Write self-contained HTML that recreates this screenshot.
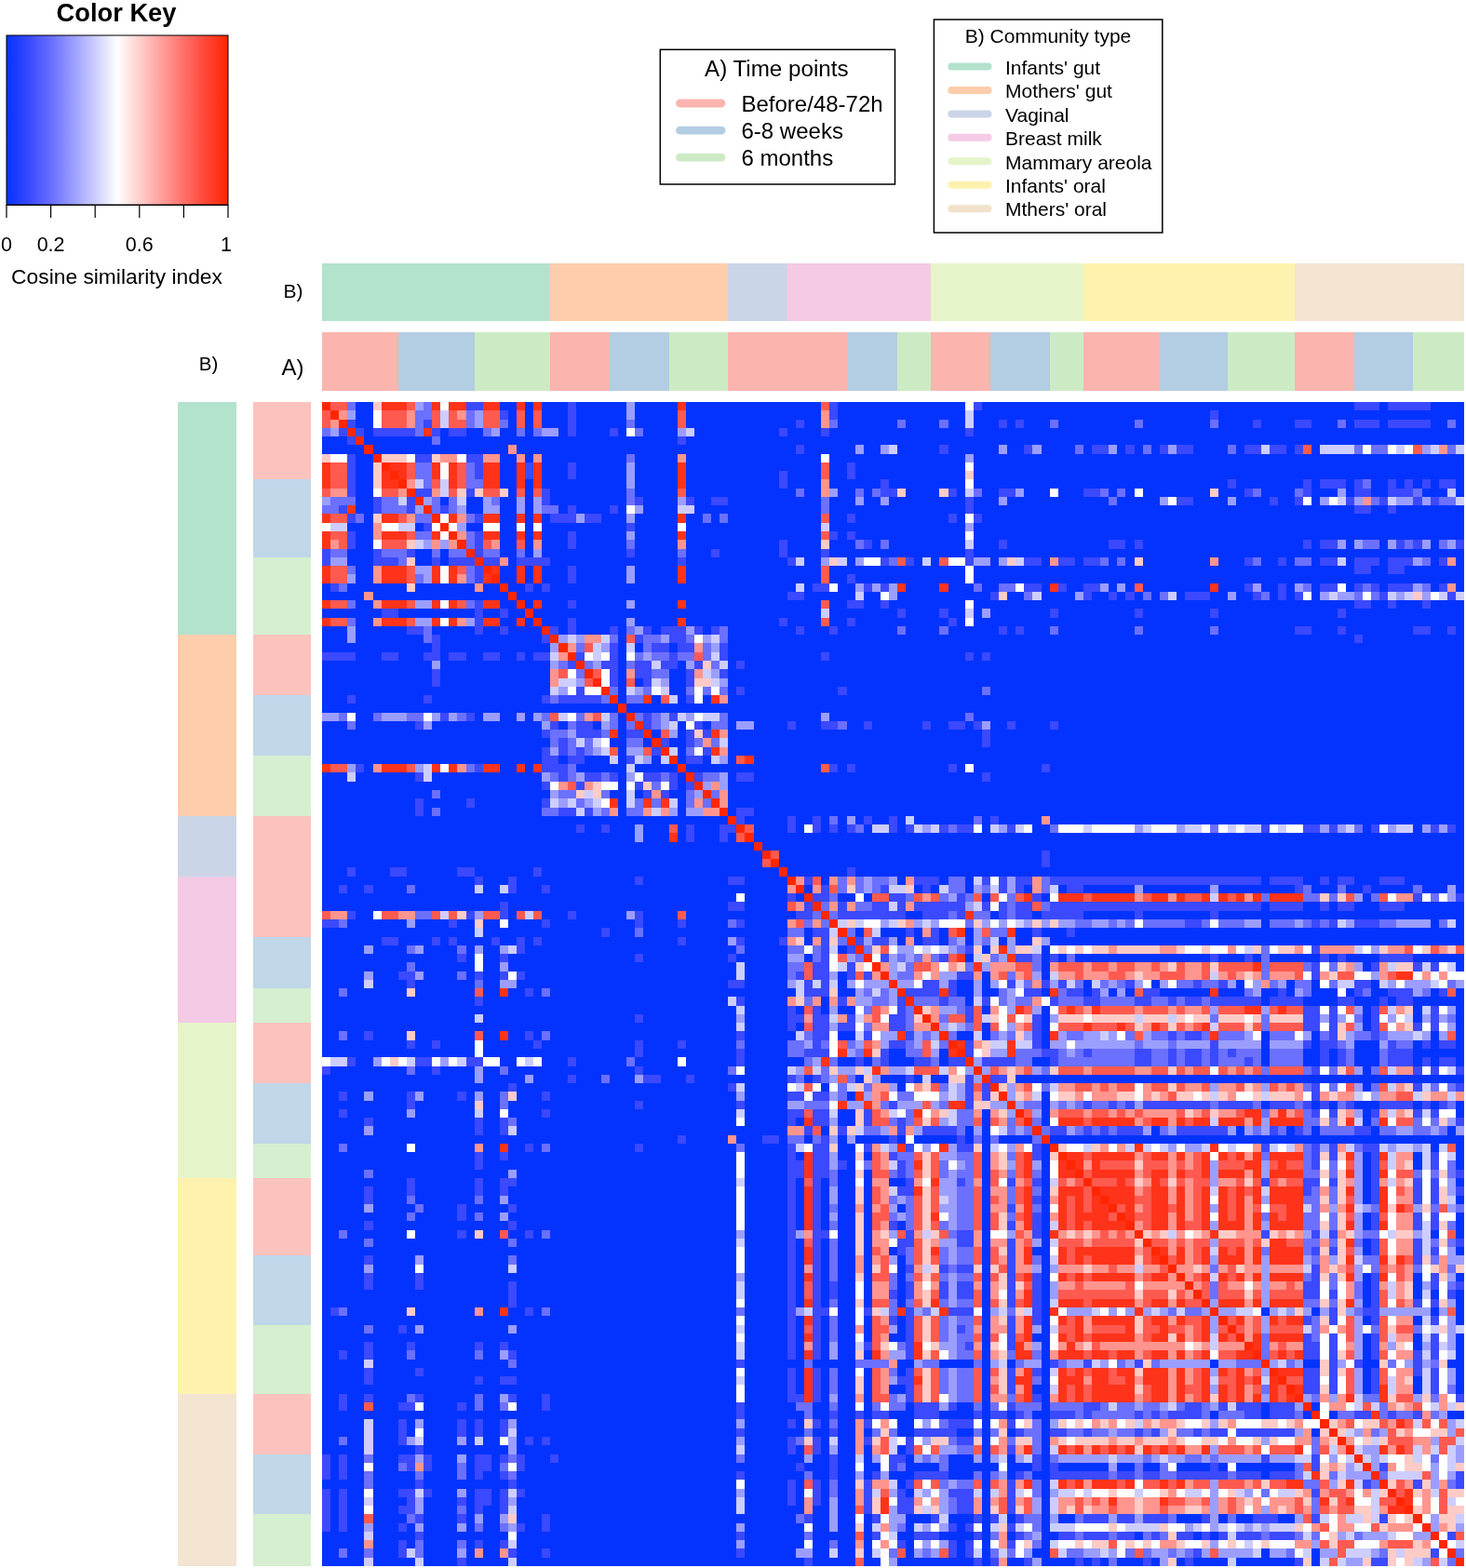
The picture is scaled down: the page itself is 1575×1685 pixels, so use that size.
<!DOCTYPE html>
<html><head><meta charset="utf-8"><title>Cosine similarity heatmap</title>
<style>
html,body{margin:0;padding:0;background:#fff}
body{width:1575px;height:1685px;overflow:hidden;position:relative;font-family:"Liberation Sans",sans-serif}
svg{position:absolute;left:0;top:0;display:block}
text{font-family:"Liberation Sans",sans-serif;fill:#000}
</style></head><body>
<svg width="1575" height="1685" viewBox="0 0 1575 1685">
<defs><linearGradient id="ck" x1="0" x2="1" y1="0" y2="0">
<stop offset="0" stop-color="#0433ff"/><stop offset="0.1" stop-color="#3848ff"/><stop offset="0.2" stop-color="#686dff"/><stop offset="0.3" stop-color="#9a9dff"/><stop offset="0.4" stop-color="#cccdff"/><stop offset="0.5" stop-color="#ffffff"/><stop offset="0.6" stop-color="#ffcfcc"/><stop offset="0.7" stop-color="#ff9f9a"/><stop offset="0.8" stop-color="#ff7068"/><stop offset="0.9" stop-color="#ff4636"/><stop offset="1" stop-color="#ff2600"/></linearGradient></defs>
<rect x="0" y="0" width="1575" height="1685" fill="#fff"/>
<g id="colorkey">
<text x="125" y="22.5" font-size="27.3" font-weight="bold" text-anchor="middle">Color Key</text>
<rect x="7" y="38" width="238" height="182" fill="url(#ck)" stroke="#000" stroke-width="1"/>
<path d="M7 220.5H245M7 220v14M54.6 220v14M102.2 220v14M149.8 220v14M197.4 220v14M245 220v14" stroke="#000" stroke-width="1.2" fill="none"/>
<text x="7" y="270" font-size="21.5" text-anchor="middle">0</text>
<text x="54.6" y="270" font-size="21.5" text-anchor="middle">0.2</text>
<text x="149.8" y="270" font-size="21.5" text-anchor="middle">0.6</text>
<text x="243" y="270" font-size="21.5" text-anchor="middle">1</text>
<text x="125.5" y="305" font-size="22.8" text-anchor="middle">Cosine similarity index</text>
</g>
<g id="labels">
<text x="315" y="320.2" font-size="21" text-anchor="middle">B)</text>
<text x="314.5" y="402.7" font-size="24" text-anchor="middle">A)</text>
<text x="224" y="398.3" font-size="20.5" text-anchor="middle">B)</text>
</g>
<g id="legendA">
<rect x="709.3" y="53.3" width="252.2" height="144.7" fill="#fff" stroke="#000" stroke-width="1.5"/>
<text x="834.3" y="82" font-size="24.2" text-anchor="middle">A) Time points</text>
<g stroke-width="8.8" stroke-linecap="round" fill="none">
<path d="M730.5 111H775" stroke="#FBB4AE"/>
<path d="M730.5 140.2H775" stroke="#B3CDE3"/>
<path d="M730.5 169.2H775" stroke="#CCEBC5"/>
</g>
<text x="796.5" y="120" font-size="24">Before/48-72h</text>
<text x="796.5" y="148.6" font-size="24">6-8 weeks</text>
<text x="796.5" y="178.4" font-size="24">6 months</text>
</g>
<g id="legendB">
<rect x="1003.4" y="21" width="245.4" height="229" fill="#fff" stroke="#000" stroke-width="1.5"/>
<text x="1126" y="45.7" font-size="21" text-anchor="middle">B) Community type</text>
<g stroke-width="8" stroke-linecap="round" fill="none">
<path d="M1022.3 71.6H1061.5" stroke="#B3E2CD"/>
<path d="M1022.3 97H1061.5" stroke="#FDCDAC"/>
<path d="M1022.3 122.4H1061.5" stroke="#CBD5E8"/>
<path d="M1022.3 147.8H1061.5" stroke="#F4CAE4"/>
<path d="M1022.3 173.3H1061.5" stroke="#E6F5C9"/>
<path d="M1022.3 198.8H1061.5" stroke="#FFF2AE"/>
<path d="M1022.3 224.3H1061.5" stroke="#F1E2CC"/>
</g>
<text x="1080" y="80" font-size="21">Infants' gut</text>
<text x="1080" y="105.3" font-size="21">Mothers' gut</text>
<text x="1080" y="130.7" font-size="21">Vaginal</text>
<text x="1080" y="156.1" font-size="21">Breast milk</text>
<text x="1080" y="181.6" font-size="21">Mammary areola</text>
<text x="1080" y="207" font-size="21">Infants' oral</text>
<text x="1080" y="232.4" font-size="21">Mthers' oral</text>
</g>
<g id="bars" shape-rendering="crispEdges">
<rect x="346" y="283.2" width="245.4" height="62" fill="#B3E2CD"/>
<rect x="191.2" y="432" width="62.8" height="250.2" fill="#B3E2CD"/>
<rect x="591.4" y="283.2" width="190.87" height="62" fill="#FDCDAC"/>
<rect x="191.2" y="682.2" width="62.8" height="194.6" fill="#FDCDAC"/>
<rect x="782.27" y="283.2" width="63.62" height="62" fill="#CBD5E8"/>
<rect x="191.2" y="876.8" width="62.8" height="64.87" fill="#CBD5E8"/>
<rect x="845.89" y="283.2" width="154.51" height="62" fill="#F4CAE4"/>
<rect x="191.2" y="941.67" width="62.8" height="157.53" fill="#F4CAE4"/>
<rect x="1000.4" y="283.2" width="163.6" height="62" fill="#E6F5C9"/>
<rect x="191.2" y="1099.2" width="62.8" height="166.8" fill="#E6F5C9"/>
<rect x="1164" y="283.2" width="227.22" height="62" fill="#FFF2AE"/>
<rect x="191.2" y="1266" width="62.8" height="231.67" fill="#FFF2AE"/>
<rect x="1391.22" y="283.2" width="181.78" height="62" fill="#F3E5D2"/>
<rect x="191.2" y="1497.67" width="62.8" height="185.33" fill="#F3E5D2"/>
<rect x="346" y="357.2" width="81.8" height="62.5" fill="#FBB4AE"/>
<rect x="271.7" y="432" width="62.5" height="83.4" fill="#FCC2BD"/>
<rect x="427.8" y="357.2" width="81.8" height="62.5" fill="#B3CDE3"/>
<rect x="271.7" y="515.4" width="62.5" height="83.4" fill="#C0D6E9"/>
<rect x="509.6" y="357.2" width="81.8" height="62.5" fill="#CCEBC5"/>
<rect x="271.7" y="598.8" width="62.5" height="83.4" fill="#D5EFD0"/>
<rect x="591.4" y="357.2" width="63.62" height="62.5" fill="#FBB4AE"/>
<rect x="271.7" y="682.2" width="62.5" height="64.87" fill="#FCC2BD"/>
<rect x="655.02" y="357.2" width="63.62" height="62.5" fill="#B3CDE3"/>
<rect x="271.7" y="747.07" width="62.5" height="64.86" fill="#C0D6E9"/>
<rect x="718.64" y="357.2" width="63.63" height="62.5" fill="#CCEBC5"/>
<rect x="271.7" y="811.93" width="62.5" height="64.87" fill="#D5EFD0"/>
<rect x="782.27" y="357.2" width="127.24" height="62.5" fill="#FBB4AE"/>
<rect x="271.7" y="876.8" width="62.5" height="129.73" fill="#FCC2BD"/>
<rect x="909.51" y="357.2" width="54.53" height="62.5" fill="#B3CDE3"/>
<rect x="271.7" y="1006.53" width="62.5" height="55.6" fill="#C0D6E9"/>
<rect x="964.04" y="357.2" width="36.36" height="62.5" fill="#CCEBC5"/>
<rect x="271.7" y="1062.13" width="62.5" height="37.07" fill="#D5EFD0"/>
<rect x="1000.4" y="357.2" width="63.62" height="62.5" fill="#FBB4AE"/>
<rect x="271.7" y="1099.2" width="62.5" height="64.87" fill="#FCC2BD"/>
<rect x="1064.02" y="357.2" width="63.62" height="62.5" fill="#B3CDE3"/>
<rect x="271.7" y="1164.07" width="62.5" height="64.86" fill="#C0D6E9"/>
<rect x="1127.64" y="357.2" width="36.36" height="62.5" fill="#CCEBC5"/>
<rect x="271.7" y="1228.93" width="62.5" height="37.07" fill="#D5EFD0"/>
<rect x="1164" y="357.2" width="81.8" height="62.5" fill="#FBB4AE"/>
<rect x="271.7" y="1266" width="62.5" height="83.4" fill="#FCC2BD"/>
<rect x="1245.8" y="357.2" width="72.71" height="62.5" fill="#B3CDE3"/>
<rect x="271.7" y="1349.4" width="62.5" height="74.13" fill="#C0D6E9"/>
<rect x="1318.51" y="357.2" width="72.71" height="62.5" fill="#CCEBC5"/>
<rect x="271.7" y="1423.53" width="62.5" height="74.14" fill="#D5EFD0"/>
<rect x="1391.22" y="357.2" width="63.62" height="62.5" fill="#FBB4AE"/>
<rect x="271.7" y="1497.67" width="62.5" height="64.86" fill="#FCC2BD"/>
<rect x="1454.84" y="357.2" width="63.63" height="62.5" fill="#B3CDE3"/>
<rect x="271.7" y="1562.53" width="62.5" height="64.87" fill="#C0D6E9"/>
<rect x="1518.47" y="357.2" width="54.53" height="62.5" fill="#CCEBC5"/>
<rect x="271.7" y="1627.4" width="62.5" height="55.6" fill="#D5EFD0"/>
</g>
<g id="heat" shape-rendering="crispEdges">
<rect x="346" y="432" width="1227" height="1251" fill="#0433ff"/>
<path fill="#3b49ff" d="M500.51 432h18.18v9.27h-18.18zM609.58 432h9.09v9.27h-9.09zM891.33 432h9.09v9.27h-9.09zM1045.84 432h9.09v9.27h-9.09zM1454.84 432h27.27v9.27h-27.27zM1491.2 432h45.44v9.27h-45.44zM536.87 441.27h9.09v9.26h-9.09zM609.58 441.27h9.09v9.26h-9.09zM891.33 441.27h9.09v9.26h-9.09zM1300.33 441.27h9.09v9.26h-9.09zM373.27 450.53h9.09v9.27h-9.09zM455.07 450.53h9.09v9.27h-9.09zM609.58 450.53h9.09v9.27h-9.09zM854.98 450.53h9.09v9.27h-9.09zM1073.11 450.53h9.09v9.27h-9.09zM1091.29 450.53h9.09v9.27h-9.09zM1345.78 450.53h9.09v9.27h-9.09zM1391.22 450.53h18.18v9.27h-18.18zM1454.84 450.53h27.27v9.27h-27.27zM1491.2 450.53h45.44v9.27h-45.44zM364.18 459.8h9.09v9.27h-9.09zM382.36 459.8h9.08v9.27h-9.08zM400.53 459.8h45.45v9.27h-45.45zM464.16 459.8h9.08v9.27h-9.08zM482.33 459.8h18.18v9.27h-18.18zM609.58 459.8h9.09v9.27h-9.09zM655.02 459.8h9.09v9.27h-9.09zM836.8 459.8h9.09v9.27h-9.09zM882.24 459.8h9.09v9.27h-9.09zM1036.76 459.8h9.08v9.27h-9.08zM373.27 469.07h9.09v9.26h-9.09zM727.73 469.07h9.09v9.26h-9.09zM854.98 478.33h9.09v9.27h-9.09zM1009.49 478.33h9.09v9.27h-9.09zM1100.38 478.33h9.09v9.27h-9.09zM1173.09 478.33h18.18v9.27h-18.18zM1209.44 478.33h9.09v9.27h-9.09zM1245.8 478.33h9.09v9.27h-9.09zM1263.98 478.33h18.18v9.27h-18.18zM1336.69 478.33h18.18v9.27h-18.18zM1363.96 478.33h18.17v9.27h-18.17zM1391.22 478.33h9.09v9.27h-9.09zM373.27 487.6h9.09v9.27h-9.09zM445.98 487.6h18.18v9.27h-18.18zM500.51 487.6h18.18v9.27h-18.18zM373.27 496.87h9.09v9.26h-9.09zM509.6 496.87h9.09v9.26h-9.09zM564.13 496.87h9.09v9.26h-9.09zM609.58 496.87h9.09v9.26h-9.09zM909.51 496.87h9.09v9.26h-9.09zM373.27 506.13h9.09v9.27h-9.09zM509.6 506.13h9.09v9.27h-9.09zM564.13 506.13h9.09v9.27h-9.09zM609.58 506.13h9.09v9.27h-9.09zM836.8 506.13h9.09v9.27h-9.09zM909.51 506.13h9.09v9.27h-9.09zM373.27 515.4h9.09v9.27h-9.09zM836.8 515.4h9.09v9.27h-9.09zM945.87 515.4h9.09v9.27h-9.09zM1318.51 515.4h9.09v9.27h-9.09zM1400.31 515.4h9.09v9.27h-9.09zM1418.49 515.4h27.27v9.27h-27.27zM1454.84 515.4h9.09v9.27h-9.09zM1491.2 515.4h9.09v9.27h-9.09zM1509.38 515.4h9.09v9.27h-9.09zM1527.56 515.4h9.08v9.27h-9.08zM1545.73 515.4h18.18v9.27h-18.18zM373.27 524.67h9.09v9.26h-9.09zM445.98 524.67h18.18v9.26h-18.18zM500.51 524.67h9.09v9.26h-9.09zM582.31 524.67h9.09v9.26h-9.09zM945.87 524.67h18.17v9.26h-18.17zM1018.58 524.67h9.09v9.26h-9.09zM1073.11 524.67h18.18v9.26h-18.18zM1164 524.67h18.18v9.26h-18.18zM1336.69 524.67h9.09v9.26h-9.09zM1400.31 524.67h9.09v9.26h-9.09zM1454.84 524.67h18.18v9.26h-18.18zM1491.2 524.67h27.27v9.26h-27.27zM400.53 533.93h9.09v9.27h-9.09zM436.89 533.93h9.09v9.27h-9.09zM582.31 533.93h9.09v9.27h-9.09zM682.29 533.93h9.09v9.27h-9.09zM736.82 533.93h9.09v9.27h-9.09zM764.09 533.93h18.18v9.27h-18.18zM1036.76 533.93h9.08v9.27h-9.08zM1263.98 533.93h18.18v9.27h-18.18zM1363.96 533.93h9.08v9.27h-9.08zM1391.22 533.93h9.09v9.27h-9.09zM1445.76 533.93h9.08v9.27h-9.08zM1482.11 533.93h9.09v9.27h-9.09zM1518.47 533.93h9.09v9.27h-9.09zM1536.64 533.93h9.09v9.27h-9.09zM364.18 543.2h9.09v9.27h-9.09zM400.53 543.2h9.09v9.27h-9.09zM436.89 543.2h9.09v9.27h-9.09zM473.24 543.2h9.09v9.27h-9.09zM609.58 543.2h9.09v9.27h-9.09zM655.02 543.2h9.09v9.27h-9.09zM1036.76 543.2h9.08v9.27h-9.08zM1454.84 543.2h18.18v9.27h-18.18zM1491.2 543.2h9.09v9.27h-9.09zM373.27 552.47h9.09v9.26h-9.09zM509.6 552.47h9.09v9.26h-9.09zM591.4 552.47h27.27v9.26h-27.27zM627.76 552.47h18.17v9.26h-18.17zM909.51 552.47h9.09v9.26h-9.09zM1018.58 552.47h9.09v9.26h-9.09zM1045.84 552.47h9.09v9.26h-9.09zM455.07 561.73h9.09v9.27h-9.09zM673.2 561.73h9.09v9.27h-9.09zM373.27 571h9.09v9.27h-9.09zM509.6 571h9.09v9.27h-9.09zM609.58 571h9.09v9.27h-9.09zM891.33 571h9.09v9.27h-9.09zM909.51 571h9.09v9.27h-9.09zM373.27 580.27h9.09v9.26h-9.09zM509.6 580.27h9.09v9.26h-9.09zM609.58 580.27h9.09v9.26h-9.09zM836.8 580.27h9.09v9.26h-9.09zM927.69 580.27h9.09v9.26h-9.09zM1073.11 580.27h9.09v9.26h-9.09zM1191.27 580.27h18.17v9.26h-18.17zM1218.53 580.27h9.09v9.26h-9.09zM1400.31 580.27h9.09v9.26h-9.09zM1418.49 580.27h18.18v9.26h-18.18zM1500.29 580.27h9.09v9.26h-9.09zM1518.47 580.27h9.09v9.26h-9.09zM1563.91 580.27h9.09v9.26h-9.09zM346 589.53h9.09v9.27h-9.09zM400.53 589.53h9.09v9.27h-9.09zM436.89 589.53h9.09v9.27h-9.09zM509.6 589.53h9.09v9.27h-9.09zM673.2 589.53h9.09v9.27h-9.09zM764.09 589.53h9.09v9.27h-9.09zM836.8 589.53h9.09v9.27h-9.09zM882.24 589.53h9.09v9.27h-9.09zM1036.76 589.53h9.08v9.27h-9.08zM346 598.8h9.09v9.27h-9.09zM400.53 598.8h27.27v9.27h-27.27zM464.16 598.8h9.08v9.27h-9.08zM482.33 598.8h27.27v9.27h-27.27zM518.69 598.8h18.18v9.27h-18.18zM555.04 598.8h36.36v9.27h-36.36zM727.73 598.8h9.09v9.27h-9.09zM845.89 598.8h9.09v9.27h-9.09zM945.87 598.8h9.09v9.27h-9.09zM973.13 598.8h9.09v9.27h-9.09zM1036.76 598.8h9.08v9.27h-9.08zM1100.38 598.8h18.18v9.27h-18.18zM1136.73 598.8h18.18v9.27h-18.18zM1164 598.8h18.18v9.27h-18.18zM1336.69 598.8h9.09v9.27h-9.09zM1373.04 598.8h9.09v9.27h-9.09zM1418.49 598.8h18.18v9.27h-18.18zM1454.84 598.8h27.27v9.27h-27.27zM1491.2 598.8h27.27v9.27h-27.27zM1545.73 598.8h9.09v9.27h-9.09zM509.6 608.07h9.09v9.26h-9.09zM609.58 608.07h9.09v9.26h-9.09zM1454.84 608.07h18.18v9.26h-18.18zM1491.2 608.07h18.18v9.26h-18.18zM509.6 617.33h9.09v9.27h-9.09zM609.58 617.33h9.09v9.27h-9.09zM909.51 617.33h9.09v9.27h-9.09zM355.09 626.6h9.09v9.27h-9.09zM564.13 626.6h9.09v9.27h-9.09zM582.31 626.6h9.09v9.27h-9.09zM873.16 626.6h18.17v9.27h-18.17zM927.69 626.6h9.09v9.27h-9.09zM945.87 626.6h9.09v9.27h-9.09zM1100.38 626.6h18.18v9.27h-18.18zM1136.73 626.6h9.09v9.27h-9.09zM1164 626.6h18.18v9.27h-18.18zM1336.69 626.6h9.09v9.27h-9.09zM1373.04 626.6h9.09v9.27h-9.09zM1418.49 626.6h18.18v9.27h-18.18zM1454.84 626.6h9.09v9.27h-9.09zM1473.02 626.6h9.09v9.27h-9.09zM1491.2 626.6h27.27v9.27h-27.27zM1545.73 626.6h9.09v9.27h-9.09zM845.89 635.87h18.18v9.26h-18.18zM1064.02 635.87h9.09v9.26h-9.09zM1164 635.87h9.09v9.26h-9.09zM1191.27 635.87h9.09v9.26h-9.09zM1209.44 635.87h9.09v9.26h-9.09zM1273.07 635.87h27.26v9.26h-27.26zM1345.78 635.87h9.09v9.26h-9.09zM1373.04 635.87h9.09v9.26h-9.09zM1391.22 635.87h9.09v9.26h-9.09zM1482.11 635.87h9.09v9.26h-9.09zM1554.82 635.87h9.09v9.26h-9.09zM509.6 645.13h9.09v9.27h-9.09zM609.58 645.13h9.09v9.27h-9.09zM909.51 645.13h18.18v9.27h-18.18zM945.87 645.13h9.09v9.27h-9.09zM1454.84 645.13h18.18v9.27h-18.18zM1491.2 645.13h9.09v9.27h-9.09zM1527.56 645.13h9.08v9.27h-9.08zM409.62 654.4h18.18v9.27h-18.18zM509.6 654.4h9.09v9.27h-9.09zM536.87 654.4h9.09v9.27h-9.09zM964.04 654.4h9.09v9.27h-9.09zM1009.49 654.4h9.09v9.27h-9.09zM1127.64 654.4h9.09v9.27h-9.09zM1218.53 654.4h9.09v9.27h-9.09zM1300.33 654.4h9.09v9.27h-9.09zM1436.67 654.4h9.09v9.27h-9.09zM509.6 663.67h9.09v9.26h-9.09zM609.58 663.67h9.09v9.26h-9.09zM836.8 663.67h9.09v9.26h-9.09zM909.51 663.67h9.09v9.26h-9.09zM1018.58 663.67h9.09v9.26h-9.09zM436.89 672.93h18.18v9.27h-18.18zM509.6 672.93h9.09v9.27h-9.09zM536.87 672.93h9.09v9.27h-9.09zM591.4 672.93h9.09v9.27h-9.09zM609.58 672.93h9.09v9.27h-9.09zM655.02 672.93h9.09v9.27h-9.09zM691.38 672.93h9.09v9.27h-9.09zM709.56 672.93h27.26v9.27h-27.26zM745.91 672.93h9.09v9.27h-9.09zM764.09 672.93h9.09v9.27h-9.09zM854.98 672.93h9.09v9.27h-9.09zM891.33 672.93h9.09v9.27h-9.09zM1073.11 672.93h9.09v9.27h-9.09zM1091.29 672.93h9.09v9.27h-9.09zM1391.22 672.93h18.18v9.27h-18.18zM1436.67 672.93h9.09v9.27h-9.09zM1518.47 672.93h18.17v9.27h-18.17zM1554.82 672.93h9.09v9.27h-9.09zM464.16 682.2h9.08v9.27h-9.08zM582.31 682.2h9.09v9.27h-9.09zM682.29 682.2h9.09v9.27h-9.09zM718.64 682.2h18.18v9.27h-18.18zM1454.84 682.2h9.09v9.27h-9.09zM464.16 691.47h9.08v9.26h-9.08zM655.02 691.47h9.09v9.26h-9.09zM700.47 691.47h18.17v9.26h-18.17zM727.73 691.47h18.18v9.26h-18.18zM773.18 691.47h9.09v9.26h-9.09zM346 700.73h36.36v9.27h-36.36zM409.62 700.73h18.18v9.27h-18.18zM455.07 700.73h18.17v9.27h-18.17zM482.33 700.73h18.18v9.27h-18.18zM518.69 700.73h18.18v9.27h-18.18zM555.04 700.73h9.09v9.27h-9.09zM573.22 700.73h18.18v9.27h-18.18zM618.67 700.73h9.09v9.27h-9.09zM655.02 700.73h9.09v9.27h-9.09zM718.64 700.73h9.09v9.27h-9.09zM773.18 700.73h9.09v9.27h-9.09zM882.24 700.73h9.09v9.27h-9.09zM1036.76 700.73h9.08v9.27h-9.08zM1054.93 700.73h9.09v9.27h-9.09zM609.58 710h9.09v9.27h-9.09zM645.93 710h18.18v9.27h-18.18zM682.29 710h18.18v9.27h-18.18zM709.56 710h18.17v9.27h-18.17zM745.91 710h9.09v9.27h-9.09zM791.36 710h9.08v9.27h-9.08zM464.16 719.27h9.08v9.26h-9.08zM655.02 719.27h9.09v9.26h-9.09zM682.29 719.27h18.18v9.26h-18.18zM736.82 719.27h9.09v9.26h-9.09zM773.18 719.27h9.09v9.26h-9.09zM464.16 728.53h9.08v9.27h-9.08zM655.02 728.53h9.09v9.27h-9.09zM691.38 728.53h9.09v9.27h-9.09zM736.82 728.53h9.09v9.27h-9.09zM618.67 737.8h9.09v9.27h-9.09zM791.36 737.8h9.08v9.27h-9.08zM900.42 737.8h9.09v9.27h-9.09zM373.27 747.07h9.09v9.26h-9.09zM455.07 747.07h9.09v9.26h-9.09zM582.31 747.07h9.09v9.26h-9.09zM600.49 747.07h45.44v9.26h-45.44zM736.82 747.07h9.09v9.26h-9.09zM473.24 765.6h9.09v9.27h-9.09zM500.51 765.6h9.09v9.27h-9.09zM691.38 765.6h9.09v9.27h-9.09zM718.64 765.6h9.09v9.27h-9.09zM445.98 774.87h9.09v9.26h-9.09zM591.4 774.87h9.09v9.26h-9.09zM618.67 774.87h18.17v9.26h-18.17zM691.38 774.87h9.09v9.26h-9.09zM745.91 774.87h9.09v9.26h-9.09zM845.89 774.87h9.09v9.26h-9.09zM882.24 774.87h18.18v9.26h-18.18zM927.69 774.87h9.09v9.26h-9.09zM991.31 774.87h9.09v9.26h-9.09zM1018.58 774.87h18.18v9.26h-18.18zM1045.84 774.87h9.09v9.26h-9.09zM1082.2 774.87h9.09v9.26h-9.09zM1127.64 774.87h9.09v9.26h-9.09zM582.31 784.13h9.09v9.27h-9.09zM618.67 784.13h27.26v9.27h-27.26zM673.2 784.13h18.18v9.27h-18.18zM736.82 784.13h9.09v9.27h-9.09zM755 784.13h9.09v9.27h-9.09zM1054.93 784.13h9.09v9.27h-9.09zM600.49 793.4h9.09v9.27h-9.09zM709.56 793.4h9.08v9.27h-9.08zM736.82 793.4h9.09v9.27h-9.09zM1054.93 793.4h9.09v9.27h-9.09zM582.31 802.67h9.09v9.26h-9.09zM600.49 802.67h9.09v9.26h-9.09zM618.67 802.67h9.09v9.26h-9.09zM700.47 802.67h9.09v9.26h-9.09zM755 802.67h9.09v9.26h-9.09zM582.31 811.93h18.18v9.27h-18.18zM609.58 811.93h18.18v9.27h-18.18zM673.2 811.93h9.09v9.27h-9.09zM736.82 811.93h18.18v9.27h-18.18zM382.36 821.2h9.08v9.27h-9.08zM509.6 821.2h9.09v9.27h-9.09zM582.31 821.2h27.27v9.27h-27.27zM891.33 821.2h9.09v9.27h-9.09zM909.51 821.2h9.09v9.27h-9.09zM1018.58 821.2h9.09v9.27h-9.09zM1118.56 821.2h9.08v9.27h-9.08zM445.98 830.47h9.09v9.26h-9.09zM600.49 830.47h9.09v9.26h-9.09zM627.76 830.47h18.17v9.26h-18.17zM655.02 830.47h9.09v9.26h-9.09zM691.38 830.47h18.18v9.26h-18.18zM718.64 830.47h9.09v9.26h-9.09zM745.91 830.47h9.09v9.26h-9.09zM791.36 830.47h18.17v9.26h-18.17zM1054.93 830.47h9.09v9.26h-9.09zM582.31 839.73h9.09v9.27h-9.09zM618.67 839.73h9.09v9.27h-9.09zM682.29 839.73h9.09v9.27h-9.09zM718.64 839.73h9.09v9.27h-9.09zM736.82 839.73h9.09v9.27h-9.09zM691.38 849h9.09v9.27h-9.09zM709.56 849h9.08v9.27h-9.08zM445.98 858.27h9.09v9.26h-9.09zM500.51 858.27h9.09v9.26h-9.09zM582.31 858.27h9.09v9.26h-9.09zM445.98 867.53h9.09v9.27h-9.09zM600.49 867.53h18.18v9.27h-18.18zM627.76 867.53h9.08v9.27h-9.08zM791.36 867.53h18.17v9.27h-18.17zM791.36 876.8h9.08v9.27h-9.08zM845.89 876.8h9.09v9.27h-9.09zM873.16 876.8h9.08v9.27h-9.08zM927.69 876.8h9.09v9.27h-9.09zM954.96 876.8h9.08v9.27h-9.08zM1064.02 876.8h9.09v9.27h-9.09zM618.67 886.07h9.09v9.26h-9.09zM645.93 886.07h9.09v9.26h-9.09zM736.82 886.07h9.09v9.26h-9.09zM773.18 886.07h18.18v9.26h-18.18zM845.89 886.07h9.09v9.26h-9.09zM873.16 886.07h9.08v9.26h-9.08zM891.33 886.07h9.09v9.26h-9.09zM909.51 886.07h9.09v9.26h-9.09zM954.96 886.07h9.08v9.26h-9.08zM973.13 886.07h9.09v9.26h-9.09zM1009.49 886.07h9.09v9.26h-9.09zM1027.67 886.07h18.17v9.26h-18.17zM1082.2 886.07h9.09v9.26h-9.09zM1354.87 886.07h9.09v9.26h-9.09zM1400.31 886.07h18.18v9.26h-18.18zM1427.58 886.07h9.09v9.26h-9.09zM1473.02 886.07h9.09v9.26h-9.09zM1536.64 886.07h9.09v9.26h-9.09zM1554.82 886.07h9.09v9.26h-9.09zM736.82 895.33h9.09v9.27h-9.09zM773.18 895.33h9.09v9.27h-9.09zM1118.56 913.87h9.08v9.26h-9.08zM1118.56 923.13h9.08v9.27h-9.08zM373.27 932.4h9.09v9.27h-9.09zM418.71 932.4h18.18v9.27h-18.18zM491.42 932.4h18.18v9.27h-18.18zM573.22 932.4h9.09v9.27h-9.09zM909.51 932.4h9.09v9.27h-9.09zM509.6 941.67h9.09v9.26h-9.09zM545.96 941.67h9.08v9.26h-9.08zM682.29 941.67h9.09v9.26h-9.09zM782.27 941.67h18.17v9.26h-18.17zM864.07 941.67h9.09v9.26h-9.09zM982.22 941.67h27.27v9.26h-27.27zM1054.93 941.67h9.09v9.26h-9.09zM1073.11 941.67h9.09v9.26h-9.09zM1091.29 941.67h18.18v9.26h-18.18zM1127.64 941.67h227.23v9.26h-227.23zM1363.96 941.67h36.35v9.26h-36.35zM1418.49 941.67h9.09v9.26h-9.09zM1436.67 941.67h18.17v9.26h-18.17zM1482.11 941.67h27.27v9.26h-27.27zM364.18 950.93h9.09v9.27h-9.09zM391.44 950.93h9.09v9.27h-9.09zM545.96 950.93h9.08v9.27h-9.08zM582.31 950.93h9.09v9.27h-9.09zM882.24 950.93h9.09v9.27h-9.09zM945.87 950.93h9.09v9.27h-9.09zM991.31 950.93h9.09v9.27h-9.09zM1073.11 950.93h9.09v9.27h-9.09zM1091.29 950.93h9.09v9.27h-9.09zM1145.82 950.93h18.18v9.27h-18.18zM1391.22 950.93h9.09v9.27h-9.09zM1463.93 950.93h9.09v9.27h-9.09zM845.89 960.2h9.09v9.27h-9.09zM873.16 960.2h18.17v9.27h-18.17zM954.96 960.2h18.17v9.27h-18.17zM1027.67 960.2h9.09v9.27h-9.09zM1109.47 960.2h9.09v9.27h-9.09zM1518.47 960.2h9.09v9.27h-9.09zM1563.91 960.2h9.09v9.27h-9.09zM536.87 969.47h9.09v9.26h-9.09zM782.27 969.47h18.17v9.26h-18.17zM864.07 969.47h9.09v9.26h-9.09zM900.42 969.47h9.09v9.26h-9.09zM936.78 969.47h18.18v9.26h-18.18zM964.04 969.47h9.09v9.26h-9.09zM982.22 969.47h54.54v9.26h-54.54zM1054.93 969.47h9.09v9.26h-9.09zM1073.11 969.47h9.09v9.26h-9.09zM1091.29 969.47h18.18v9.26h-18.18zM1127.64 969.47h227.23v9.26h-227.23zM1363.96 969.47h36.35v9.26h-36.35zM1418.49 969.47h9.09v9.26h-9.09zM1436.67 969.47h18.17v9.26h-18.17zM1482.11 969.47h27.27v9.26h-27.27zM373.27 978.73h9.09v9.27h-9.09zM500.51 978.73h9.09v9.27h-9.09zM536.87 978.73h9.09v9.27h-9.09zM609.58 978.73h9.09v9.27h-9.09zM682.29 978.73h9.09v9.27h-9.09zM854.98 978.73h18.18v9.27h-18.18zM900.42 978.73h72.71v9.27h-72.71zM991.31 978.73h27.27v9.27h-27.27zM1027.67 978.73h9.09v9.27h-9.09zM1073.11 978.73h9.09v9.27h-9.09zM1091.29 978.73h18.18v9.27h-18.18zM1118.56 978.73h45.44v9.27h-45.44zM1218.53 978.73h9.09v9.27h-9.09zM1300.33 978.73h9.09v9.27h-9.09zM346 988h18.18v9.27h-18.18zM482.33 988h9.09v9.27h-9.09zM582.31 988h9.09v9.27h-9.09zM682.29 988h9.09v9.27h-9.09zM727.73 988h9.09v9.27h-9.09zM791.36 988h9.08v9.27h-9.08zM1273.07 988h18.17v9.27h-18.17zM1409.4 988h9.09v9.27h-9.09zM1427.58 988h9.09v9.27h-9.09zM1454.84 988h27.27v9.27h-27.27zM645.93 997.27h9.09v9.26h-9.09zM873.16 997.27h18.17v9.26h-18.17zM973.13 997.27h9.09v9.26h-9.09zM1000.4 997.27h9.09v9.26h-9.09zM1109.47 997.27h9.09v9.26h-9.09zM1145.82 997.27h9.09v9.26h-9.09zM409.62 1006.53h18.18v9.27h-18.18zM464.16 1006.53h9.08v9.27h-9.08zM482.33 1006.53h9.09v9.27h-9.09zM527.78 1006.53h9.09v9.27h-9.09zM555.04 1006.53h9.09v9.27h-9.09zM573.22 1006.53h9.09v9.27h-9.09zM727.73 1006.53h9.09v9.27h-9.09zM791.36 1006.53h9.08v9.27h-9.08zM836.8 1006.53h9.09v9.27h-9.09zM882.24 1006.53h9.09v9.27h-9.09zM918.6 1006.53h9.09v9.27h-9.09zM936.78 1006.53h18.18v9.27h-18.18zM991.31 1006.53h18.18v9.27h-18.18zM555.04 1015.8h9.09v9.27h-9.09zM882.24 1015.8h9.09v9.27h-9.09zM909.51 1015.8h9.09v9.27h-9.09zM1036.76 1015.8h9.08v9.27h-9.08zM1409.4 1015.8h9.09v9.27h-9.09zM491.42 1025.07h9.09v9.26h-9.09zM536.87 1025.07h9.09v9.26h-9.09zM682.29 1025.07h9.09v9.26h-9.09zM782.27 1025.07h9.09v9.26h-9.09zM882.24 1025.07h9.09v9.26h-9.09zM945.87 1025.07h9.09v9.26h-9.09zM1009.49 1025.07h9.09v9.26h-9.09zM1091.29 1025.07h18.18v9.26h-18.18zM1127.64 1025.07h9.09v9.26h-9.09zM1300.33 1025.07h9.09v9.26h-9.09zM1336.69 1025.07h9.09v9.26h-9.09zM1418.49 1025.07h9.09v9.26h-9.09zM1436.67 1025.07h9.09v9.26h-9.09zM1482.11 1025.07h36.36v9.26h-36.36zM873.16 1034.33h18.17v9.27h-18.17zM909.51 1034.33h9.09v9.27h-9.09zM1409.4 1034.33h9.09v9.27h-9.09zM1473.02 1034.33h9.09v9.27h-9.09zM1518.47 1034.33h9.09v9.27h-9.09zM1536.64 1034.33h9.09v9.27h-9.09zM427.8 1043.6h18.18v9.27h-18.18zM509.6 1043.6h9.09v9.27h-9.09zM536.87 1043.6h9.09v9.27h-9.09zM555.04 1043.6h9.09v9.27h-9.09zM854.98 1043.6h9.09v9.27h-9.09zM873.16 1043.6h18.17v9.27h-18.17zM909.51 1043.6h9.09v9.27h-9.09zM927.69 1043.6h9.09v9.27h-9.09zM1027.67 1043.6h18.17v9.27h-18.17zM1409.4 1043.6h9.09v9.27h-9.09zM436.89 1052.87h9.09v9.26h-9.09zM782.27 1052.87h18.17v9.26h-18.17zM864.07 1052.87h9.09v9.26h-9.09zM882.24 1052.87h9.09v9.26h-9.09zM991.31 1052.87h18.18v9.26h-18.18zM1018.58 1052.87h9.09v9.26h-9.09zM1082.2 1052.87h9.09v9.26h-9.09zM1118.56 1052.87h9.08v9.26h-9.08zM1136.73 1052.87h9.09v9.26h-9.09zM1209.44 1052.87h9.09v9.26h-9.09zM1282.16 1052.87h9.08v9.26h-9.08zM1309.42 1052.87h9.09v9.26h-9.09zM1454.84 1052.87h18.18v9.26h-18.18zM564.13 1062.13h9.09v9.27h-9.09zM864.07 1062.13h27.26v9.27h-27.26zM973.13 1062.13h36.36v9.27h-36.36zM1018.58 1062.13h9.09v9.27h-9.09zM1100.38 1062.13h18.18v9.27h-18.18zM1145.82 1062.13h18.18v9.27h-18.18zM1173.09 1062.13h9.09v9.27h-9.09zM1227.62 1062.13h18.18v9.27h-18.18zM1373.04 1062.13h9.09v9.27h-9.09zM1454.84 1062.13h9.09v9.27h-9.09zM1491.2 1062.13h27.27v9.27h-27.27zM1545.73 1062.13h9.09v9.27h-9.09zM509.6 1071.4h9.09v9.27h-9.09zM791.36 1071.4h9.08v9.27h-9.08zM900.42 1071.4h9.09v9.27h-9.09zM964.04 1071.4h9.09v9.27h-9.09zM1009.49 1071.4h9.09v9.27h-9.09zM1054.93 1071.4h9.09v9.27h-9.09zM1127.64 1071.4h9.09v9.27h-9.09zM1164 1071.4h18.18v9.27h-18.18zM1218.53 1071.4h18.18v9.27h-18.18zM1254.89 1071.4h9.09v9.27h-9.09zM1273.07 1071.4h18.17v9.27h-18.17zM1300.33 1071.4h54.54v9.27h-54.54zM1363.96 1071.4h36.35v9.27h-36.35zM1436.67 1071.4h18.17v9.27h-18.17zM1482.11 1071.4h9.09v9.27h-9.09zM1500.29 1071.4h18.18v9.27h-18.18zM845.89 1080.67h9.09v9.26h-9.09zM873.16 1080.67h9.08v9.26h-9.08zM964.04 1080.67h9.09v9.26h-9.09zM1036.76 1080.67h9.08v9.26h-9.08zM1400.31 1080.67h18.18v9.26h-18.18zM1427.58 1080.67h9.09v9.26h-9.09zM1473.02 1080.67h9.09v9.26h-9.09zM1536.64 1080.67h9.09v9.26h-9.09zM682.29 1089.93h9.09v9.27h-9.09zM845.89 1089.93h18.18v9.27h-18.18zM873.16 1089.93h18.17v9.27h-18.17zM909.51 1089.93h9.09v9.27h-9.09zM954.96 1089.93h18.17v9.27h-18.17zM1036.76 1089.93h9.08v9.27h-9.08zM1109.47 1089.93h9.09v9.27h-9.09zM1400.31 1089.93h18.18v9.27h-18.18zM1427.58 1089.93h9.09v9.27h-9.09zM1473.02 1089.93h9.09v9.27h-9.09zM1536.64 1089.93h9.09v9.27h-9.09zM845.89 1099.2h9.09v9.27h-9.09zM873.16 1099.2h18.17v9.27h-18.17zM900.42 1099.2h18.18v9.27h-18.18zM954.96 1099.2h18.17v9.27h-18.17zM1109.47 1099.2h9.09v9.27h-9.09zM1400.31 1099.2h18.18v9.27h-18.18zM1427.58 1099.2h9.09v9.27h-9.09zM1473.02 1099.2h9.09v9.27h-9.09zM1518.47 1099.2h9.09v9.27h-9.09zM1536.64 1099.2h9.09v9.27h-9.09zM391.44 1108.47h9.09v9.26h-9.09zM564.13 1108.47h9.09v9.26h-9.09zM791.36 1108.47h9.08v9.26h-9.08zM873.16 1108.47h18.17v9.26h-18.17zM927.69 1108.47h9.09v9.26h-9.09zM973.13 1108.47h9.09v9.26h-9.09zM1109.47 1108.47h9.09v9.26h-9.09zM1254.89 1108.47h9.09v9.26h-9.09zM1273.07 1108.47h18.17v9.26h-18.17zM1427.58 1108.47h9.09v9.26h-9.09zM1473.02 1108.47h9.09v9.26h-9.09zM436.89 1117.73h9.09v9.27h-9.09zM464.16 1117.73h9.08v9.27h-9.08zM573.22 1117.73h9.09v9.27h-9.09zM682.29 1117.73h9.09v9.27h-9.09zM727.73 1117.73h9.09v9.27h-9.09zM873.16 1117.73h9.08v9.27h-9.08zM954.96 1117.73h18.17v9.27h-18.17zM1036.76 1117.73h9.08v9.27h-9.08zM1109.47 1117.73h9.09v9.27h-9.09zM1300.33 1117.73h9.09v9.27h-9.09zM1400.31 1117.73h9.09v9.27h-9.09zM1418.49 1117.73h18.18v9.27h-18.18zM1491.2 1117.73h9.09v9.27h-9.09zM1527.56 1117.73h9.08v9.27h-9.08zM1545.73 1117.73h18.18v9.27h-18.18zM682.29 1127h9.09v9.27h-9.09zM791.36 1127h9.08v9.27h-9.08zM864.07 1127h27.26v9.27h-27.26zM945.87 1127h9.09v9.27h-9.09zM1036.76 1127h9.08v9.27h-9.08zM1118.56 1127h18.17v9.27h-18.17zM1164 1127h9.09v9.27h-9.09zM1218.53 1127h18.18v9.27h-18.18zM1254.89 1127h9.09v9.27h-9.09zM1273.07 1127h18.17v9.27h-18.17zM1300.33 1127h9.09v9.27h-9.09zM1318.51 1127h9.09v9.27h-9.09zM1418.49 1127h9.09v9.27h-9.09zM1436.67 1127h9.09v9.27h-9.09zM1491.2 1127h27.27v9.27h-27.27zM373.27 1136.27h9.09v9.26h-9.09zM445.98 1136.27h18.18v9.26h-18.18zM500.51 1136.27h18.18v9.26h-18.18zM609.58 1136.27h9.09v9.26h-9.09zM791.36 1136.27h9.08v9.26h-9.08zM918.6 1136.27h9.09v9.26h-9.09zM945.87 1136.27h9.09v9.26h-9.09zM982.22 1136.27h18.18v9.26h-18.18zM1018.58 1136.27h18.18v9.26h-18.18zM1054.93 1136.27h36.36v9.26h-36.36zM1127.64 1136.27h9.09v9.26h-9.09zM1218.53 1136.27h18.18v9.26h-18.18zM1254.89 1136.27h9.09v9.26h-9.09zM1273.07 1136.27h18.17v9.26h-18.17zM1300.33 1136.27h9.09v9.26h-9.09zM1336.69 1136.27h9.09v9.26h-9.09zM1418.49 1136.27h9.09v9.26h-9.09zM1436.67 1136.27h9.09v9.26h-9.09zM1491.2 1136.27h27.27v9.26h-27.27zM1527.56 1136.27h9.08v9.26h-9.08zM1545.73 1136.27h18.18v9.26h-18.18zM346 1145.53h9.09v9.27h-9.09zM464.16 1145.53h9.08v9.27h-9.08zM682.29 1145.53h9.09v9.27h-9.09zM1409.4 1145.53h9.09v9.27h-9.09zM1518.47 1145.53h9.09v9.27h-9.09zM1536.64 1145.53h9.09v9.27h-9.09zM1563.91 1145.53h9.09v9.27h-9.09zM609.58 1154.8h9.09v9.27h-9.09zM691.38 1154.8h18.18v9.27h-18.18zM736.82 1154.8h9.09v9.27h-9.09zM845.89 1154.8h9.09v9.27h-9.09zM873.16 1154.8h9.08v9.27h-9.08zM973.13 1154.8h9.09v9.27h-9.09zM1036.76 1154.8h9.08v9.27h-9.08zM1064.02 1154.8h18.18v9.27h-18.18zM545.96 1164.07h9.08v9.26h-9.08zM782.27 1164.07h9.09v9.26h-9.09zM1036.76 1164.07h9.08v9.26h-9.08zM1054.93 1164.07h9.09v9.26h-9.09zM1409.4 1164.07h9.09v9.26h-9.09zM1518.47 1164.07h9.09v9.26h-9.09zM1563.91 1164.07h9.09v9.26h-9.09zM364.18 1173.33h9.09v9.27h-9.09zM436.89 1173.33h9.09v9.27h-9.09zM491.42 1173.33h9.09v9.27h-9.09zM582.31 1173.33h9.09v9.27h-9.09zM845.89 1173.33h18.18v9.27h-18.18zM873.16 1173.33h18.17v9.27h-18.17zM1036.76 1173.33h9.08v9.27h-9.08zM1054.93 1173.33h9.09v9.27h-9.09zM1409.4 1173.33h9.09v9.27h-9.09zM436.89 1182.6h9.09v9.27h-9.09zM682.29 1182.6h9.09v9.27h-9.09zM791.36 1182.6h9.08v9.27h-9.08zM954.96 1182.6h9.08v9.27h-9.08zM1036.76 1182.6h9.08v9.27h-9.08zM1164 1182.6h9.09v9.27h-9.09zM1191.27 1182.6h9.09v9.27h-9.09zM1209.44 1182.6h9.09v9.27h-9.09zM1227.62 1182.6h72.71v9.27h-72.71zM1309.42 1182.6h36.36v9.27h-36.36zM1363.96 1182.6h27.26v9.27h-27.26zM1400.31 1182.6h9.09v9.27h-9.09zM1418.49 1182.6h9.09v9.27h-9.09zM1445.76 1182.6h9.08v9.27h-9.08zM1482.11 1182.6h36.36v9.27h-36.36zM1527.56 1182.6h9.08v9.27h-9.08zM1545.73 1182.6h9.09v9.27h-9.09zM364.18 1191.87h9.09v9.26h-9.09zM582.31 1191.87h9.09v9.26h-9.09zM845.89 1191.87h18.18v9.26h-18.18zM873.16 1191.87h18.17v9.26h-18.17zM927.69 1191.87h9.09v9.26h-9.09zM1409.4 1191.87h9.09v9.26h-9.09zM1427.58 1191.87h9.09v9.26h-9.09zM1473.02 1191.87h9.09v9.26h-9.09zM1518.47 1191.87h9.09v9.26h-9.09zM1536.64 1191.87h9.09v9.26h-9.09zM391.44 1201.13h9.09v9.27h-9.09zM509.6 1201.13h9.09v9.27h-9.09zM536.87 1201.13h9.09v9.27h-9.09zM845.89 1201.13h9.09v9.27h-9.09zM873.16 1201.13h18.17v9.27h-18.17zM927.69 1201.13h9.09v9.27h-9.09zM964.04 1201.13h9.09v9.27h-9.09zM1563.91 1201.13h9.09v9.27h-9.09zM509.6 1210.4h9.09v9.27h-9.09zM536.87 1210.4h9.09v9.27h-9.09zM864.07 1210.4h9.09v9.27h-9.09zM900.42 1210.4h9.09v9.27h-9.09zM964.04 1210.4h9.09v9.27h-9.09zM991.31 1210.4h36.36v9.27h-36.36zM1127.64 1210.4h18.18v9.27h-18.18zM1164 1210.4h9.09v9.27h-9.09zM1182.18 1210.4h9.09v9.27h-9.09zM1200.36 1210.4h27.26v9.27h-27.26zM1263.98 1210.4h54.53v9.27h-54.53zM1363.96 1210.4h9.08v9.27h-9.08zM1391.22 1210.4h9.09v9.27h-9.09zM1454.84 1210.4h18.18v9.27h-18.18zM727.73 1219.67h9.09v9.26h-9.09zM818.62 1219.67h18.18v9.26h-18.18zM882.24 1219.67h9.09v9.26h-9.09zM954.96 1219.67h9.08v9.26h-9.08zM1027.67 1219.67h9.09v9.26h-9.09zM564.13 1228.93h9.09v9.27h-9.09zM682.29 1228.93h9.09v9.27h-9.09zM845.89 1228.93h9.09v9.27h-9.09zM873.16 1228.93h18.17v9.27h-18.17zM927.69 1228.93h9.09v9.27h-9.09zM973.13 1228.93h9.09v9.27h-9.09zM1027.67 1228.93h18.17v9.27h-18.17zM1109.47 1228.93h9.09v9.27h-9.09zM1354.87 1228.93h9.09v9.27h-9.09zM1409.4 1228.93h9.09v9.27h-9.09zM1427.58 1228.93h9.09v9.27h-9.09zM1463.93 1228.93h18.18v9.27h-18.18zM509.6 1238.2h9.09v9.27h-9.09zM536.87 1238.2h9.09v9.27h-9.09zM845.89 1238.2h9.09v9.27h-9.09zM873.16 1238.2h18.17v9.27h-18.17zM954.96 1238.2h9.08v9.27h-9.08zM1109.47 1238.2h9.09v9.27h-9.09zM1409.4 1238.2h9.09v9.27h-9.09zM1427.58 1238.2h9.09v9.27h-9.09zM1473.02 1238.2h9.09v9.27h-9.09zM1536.64 1238.2h9.09v9.27h-9.09zM509.6 1247.47h9.09v9.26h-9.09zM845.89 1247.47h18.18v9.26h-18.18zM873.16 1247.47h18.17v9.26h-18.17zM900.42 1247.47h9.09v9.26h-9.09zM964.04 1247.47h9.09v9.26h-9.09zM1409.4 1247.47h9.09v9.26h-9.09zM1473.02 1247.47h9.09v9.26h-9.09zM1536.64 1247.47h9.09v9.26h-9.09zM845.89 1256.73h18.18v9.27h-18.18zM873.16 1256.73h18.17v9.27h-18.17zM964.04 1256.73h9.09v9.27h-9.09zM1473.02 1256.73h9.09v9.27h-9.09zM1563.91 1256.73h9.09v9.27h-9.09zM436.89 1266h9.09v9.27h-9.09zM509.6 1266h9.09v9.27h-9.09zM536.87 1266h18.17v9.27h-18.17zM845.89 1266h9.09v9.27h-9.09zM873.16 1266h9.08v9.27h-9.08zM973.13 1266h9.09v9.27h-9.09zM1027.67 1266h9.09v9.27h-9.09zM1082.2 1266h9.09v9.27h-9.09zM1109.47 1266h9.09v9.27h-9.09zM1354.87 1266h9.09v9.27h-9.09zM1400.31 1266h18.18v9.27h-18.18zM1427.58 1266h9.09v9.27h-9.09zM1473.02 1266h9.09v9.27h-9.09zM1518.47 1266h9.09v9.27h-9.09zM1536.64 1266h9.09v9.27h-9.09zM391.44 1275.27h9.09v9.26h-9.09zM436.89 1275.27h9.09v9.26h-9.09zM509.6 1275.27h9.09v9.26h-9.09zM536.87 1275.27h9.09v9.26h-9.09zM845.89 1275.27h9.09v9.26h-9.09zM873.16 1275.27h9.08v9.26h-9.08zM964.04 1275.27h18.18v9.26h-18.18zM1400.31 1275.27h9.09v9.26h-9.09zM1473.02 1275.27h9.09v9.26h-9.09zM1518.47 1275.27h9.09v9.26h-9.09zM1536.64 1275.27h9.09v9.26h-9.09zM1563.91 1275.27h9.09v9.26h-9.09zM391.44 1284.53h9.09v9.27h-9.09zM845.89 1284.53h9.09v9.27h-9.09zM873.16 1284.53h9.08v9.27h-9.08zM1109.47 1284.53h9.09v9.27h-9.09zM1473.02 1284.53h9.09v9.27h-9.09zM1518.47 1284.53h9.09v9.27h-9.09zM1536.64 1284.53h9.09v9.27h-9.09zM491.42 1293.8h9.09v9.27h-9.09zM545.96 1293.8h9.08v9.27h-9.08zM845.89 1293.8h9.09v9.27h-9.09zM873.16 1293.8h9.08v9.27h-9.08zM1082.2 1293.8h9.09v9.27h-9.09zM491.42 1303.07h9.09v9.26h-9.09zM845.89 1303.07h9.09v9.26h-9.09zM873.16 1303.07h9.08v9.26h-9.08zM1109.47 1303.07h9.09v9.26h-9.09zM1473.02 1303.07h9.09v9.26h-9.09zM1518.47 1303.07h9.09v9.26h-9.09zM1536.64 1303.07h9.09v9.26h-9.09zM391.44 1312.33h9.09v9.27h-9.09zM545.96 1312.33h9.08v9.27h-9.08zM845.89 1312.33h9.09v9.27h-9.09zM873.16 1312.33h9.08v9.27h-9.08zM954.96 1312.33h9.08v9.27h-9.08zM1082.2 1312.33h9.09v9.27h-9.09zM1109.47 1312.33h9.09v9.27h-9.09zM1473.02 1312.33h9.09v9.27h-9.09zM1518.47 1312.33h9.09v9.27h-9.09zM1536.64 1312.33h9.09v9.27h-9.09zM491.42 1321.6h9.09v9.27h-9.09zM564.13 1321.6h9.09v9.27h-9.09zM845.89 1321.6h9.09v9.27h-9.09zM873.16 1321.6h18.17v9.27h-18.17zM973.13 1321.6h9.09v9.27h-9.09zM1027.67 1321.6h18.17v9.27h-18.17zM1109.47 1321.6h9.09v9.27h-9.09zM1354.87 1321.6h9.09v9.27h-9.09zM1409.4 1321.6h9.09v9.27h-9.09zM1427.58 1321.6h9.09v9.27h-9.09zM845.89 1330.87h9.09v9.26h-9.09zM873.16 1330.87h9.08v9.26h-9.08zM964.04 1330.87h18.18v9.26h-18.18zM1027.67 1330.87h18.17v9.26h-18.17zM1082.2 1330.87h9.09v9.26h-9.09zM1473.02 1330.87h9.09v9.26h-9.09zM1518.47 1330.87h9.09v9.26h-9.09zM1563.91 1330.87h9.09v9.26h-9.09zM845.89 1340.13h9.09v9.27h-9.09zM873.16 1340.13h9.08v9.27h-9.08zM964.04 1340.13h9.09v9.27h-9.09zM1082.2 1340.13h9.09v9.27h-9.09zM1409.4 1340.13h9.09v9.27h-9.09zM1427.58 1340.13h9.09v9.27h-9.09zM1473.02 1340.13h9.09v9.27h-9.09zM1518.47 1340.13h9.09v9.27h-9.09zM1536.64 1340.13h9.09v9.27h-9.09zM391.44 1349.4h9.09v9.27h-9.09zM845.89 1349.4h9.09v9.27h-9.09zM873.16 1349.4h9.08v9.27h-9.08zM1082.2 1349.4h9.09v9.27h-9.09zM1518.47 1349.4h9.09v9.27h-9.09zM845.89 1358.67h9.09v9.26h-9.09zM873.16 1358.67h9.08v9.26h-9.08zM973.13 1358.67h9.09v9.26h-9.09zM1009.49 1358.67h9.09v9.26h-9.09zM1027.67 1358.67h18.17v9.26h-18.17zM1082.2 1358.67h9.09v9.26h-9.09zM1409.4 1358.67h9.09v9.26h-9.09zM391.44 1367.93h9.09v9.27h-9.09zM445.98 1367.93h9.09v9.27h-9.09zM845.89 1367.93h9.09v9.27h-9.09zM873.16 1367.93h9.08v9.27h-9.08zM1082.2 1367.93h9.09v9.27h-9.09zM1109.47 1367.93h9.09v9.27h-9.09zM1409.4 1367.93h9.09v9.27h-9.09zM1473.02 1367.93h9.09v9.27h-9.09zM1536.64 1367.93h9.09v9.27h-9.09zM391.44 1377.2h9.09v9.27h-9.09zM445.98 1377.2h9.09v9.27h-9.09zM545.96 1377.2h9.08v9.27h-9.08zM845.89 1377.2h9.09v9.27h-9.09zM873.16 1377.2h9.08v9.27h-9.08zM891.33 1377.2h9.09v9.27h-9.09zM973.13 1377.2h9.09v9.27h-9.09zM1009.49 1377.2h9.09v9.27h-9.09zM1027.67 1377.2h18.17v9.27h-18.17zM1082.2 1377.2h9.09v9.27h-9.09zM1109.47 1377.2h9.09v9.27h-9.09zM1400.31 1377.2h18.18v9.27h-18.18zM1473.02 1377.2h9.09v9.27h-9.09zM1536.64 1377.2h9.09v9.27h-9.09zM1563.91 1377.2h9.09v9.27h-9.09zM545.96 1386.47h9.08v9.26h-9.08zM845.89 1386.47h9.09v9.26h-9.09zM873.16 1386.47h9.08v9.26h-9.08zM891.33 1386.47h9.09v9.26h-9.09zM954.96 1386.47h9.08v9.26h-9.08zM973.13 1386.47h9.09v9.26h-9.09zM1009.49 1386.47h9.09v9.26h-9.09zM1027.67 1386.47h18.17v9.26h-18.17zM1082.2 1386.47h9.09v9.26h-9.09zM1109.47 1386.47h9.09v9.26h-9.09zM1400.31 1386.47h18.18v9.26h-18.18zM1427.58 1386.47h9.09v9.26h-9.09zM1473.02 1386.47h9.09v9.26h-9.09zM1554.82 1386.47h9.09v9.26h-9.09zM545.96 1395.73h9.08v9.27h-9.08zM845.89 1395.73h9.09v9.27h-9.09zM873.16 1395.73h9.08v9.27h-9.08zM1082.2 1395.73h9.09v9.27h-9.09zM1109.47 1395.73h9.09v9.27h-9.09zM1473.02 1395.73h9.09v9.27h-9.09zM1518.47 1395.73h9.09v9.27h-9.09zM1536.64 1395.73h9.09v9.27h-9.09zM355.09 1405h9.09v9.27h-9.09zM564.13 1405h9.09v9.27h-9.09zM845.89 1405h9.09v9.27h-9.09zM873.16 1405h18.17v9.27h-18.17zM927.69 1405h9.09v9.27h-9.09zM973.13 1405h9.09v9.27h-9.09zM1018.58 1405h27.26v9.27h-27.26zM1109.47 1405h9.09v9.27h-9.09zM1427.58 1405h9.09v9.27h-9.09zM1463.93 1405h18.18v9.27h-18.18zM845.89 1414.27h9.09v9.26h-9.09zM873.16 1414.27h9.08v9.26h-9.08zM954.96 1414.27h9.08v9.26h-9.08zM973.13 1414.27h9.09v9.26h-9.09zM1082.2 1414.27h9.09v9.26h-9.09zM1109.47 1414.27h9.09v9.26h-9.09zM1400.31 1414.27h9.09v9.26h-9.09zM1427.58 1414.27h9.09v9.26h-9.09zM1473.02 1414.27h9.09v9.26h-9.09zM1536.64 1414.27h9.09v9.26h-9.09zM427.8 1423.53h9.09v9.27h-9.09zM845.89 1423.53h9.09v9.27h-9.09zM873.16 1423.53h9.08v9.27h-9.08zM973.13 1423.53h9.09v9.27h-9.09zM1027.67 1423.53h9.09v9.27h-9.09zM1082.2 1423.53h9.09v9.27h-9.09zM845.89 1432.8h9.09v9.27h-9.09zM873.16 1432.8h9.08v9.27h-9.08zM973.13 1432.8h9.09v9.27h-9.09zM1082.2 1432.8h9.09v9.27h-9.09zM1400.31 1432.8h9.09v9.27h-9.09zM1427.58 1432.8h9.09v9.27h-9.09zM1473.02 1432.8h9.09v9.27h-9.09zM1536.64 1432.8h9.09v9.27h-9.09zM391.44 1442.07h9.09v9.26h-9.09zM436.89 1442.07h9.09v9.26h-9.09zM509.6 1442.07h9.09v9.26h-9.09zM536.87 1442.07h9.09v9.26h-9.09zM845.89 1442.07h9.09v9.26h-9.09zM873.16 1442.07h9.08v9.26h-9.08zM927.69 1442.07h9.09v9.26h-9.09zM973.13 1442.07h9.09v9.26h-9.09zM1036.76 1442.07h9.08v9.26h-9.08zM1082.2 1442.07h9.09v9.26h-9.09zM1400.31 1442.07h18.18v9.26h-18.18zM1427.58 1442.07h9.09v9.26h-9.09zM1473.02 1442.07h9.09v9.26h-9.09zM1536.64 1442.07h9.09v9.26h-9.09zM364.18 1451.33h9.09v9.27h-9.09zM391.44 1451.33h9.09v9.27h-9.09zM545.96 1451.33h9.08v9.27h-9.08zM845.89 1451.33h9.09v9.27h-9.09zM873.16 1451.33h9.08v9.27h-9.08zM973.13 1451.33h9.09v9.27h-9.09zM1400.31 1451.33h18.18v9.27h-18.18zM1427.58 1451.33h9.09v9.27h-9.09zM1473.02 1451.33h9.09v9.27h-9.09zM1518.47 1451.33h9.09v9.27h-9.09zM1536.64 1451.33h9.09v9.27h-9.09zM791.36 1460.6h9.08v9.27h-9.08zM1127.64 1460.6h9.09v9.27h-9.09zM1164 1460.6h9.09v9.27h-9.09zM1218.53 1460.6h9.09v9.27h-9.09zM1427.58 1460.6h9.09v9.27h-9.09zM1454.84 1460.6h9.09v9.27h-9.09zM1518.47 1460.6h9.09v9.27h-9.09zM391.44 1469.87h9.09v9.26h-9.09zM445.98 1469.87h9.09v9.26h-9.09zM845.89 1469.87h9.09v9.26h-9.09zM873.16 1469.87h9.08v9.26h-9.08zM973.13 1469.87h9.09v9.26h-9.09zM1082.2 1469.87h9.09v9.26h-9.09zM1109.47 1469.87h9.09v9.26h-9.09zM1400.31 1469.87h18.18v9.26h-18.18zM1427.58 1469.87h9.09v9.26h-9.09zM1473.02 1469.87h9.09v9.26h-9.09zM1518.47 1469.87h9.09v9.26h-9.09zM1536.64 1469.87h9.09v9.26h-9.09zM391.44 1479.13h9.09v9.27h-9.09zM509.6 1479.13h9.09v9.27h-9.09zM536.87 1479.13h18.17v9.27h-18.17zM845.89 1479.13h9.09v9.27h-9.09zM873.16 1479.13h9.08v9.27h-9.08zM964.04 1479.13h18.18v9.27h-18.18zM1082.2 1479.13h9.09v9.27h-9.09zM1400.31 1479.13h18.18v9.27h-18.18zM1427.58 1479.13h9.09v9.27h-9.09zM1473.02 1479.13h9.09v9.27h-9.09zM1536.64 1479.13h9.09v9.27h-9.09zM845.89 1488.4h9.09v9.27h-9.09zM873.16 1488.4h9.08v9.27h-9.08zM973.13 1488.4h9.09v9.27h-9.09zM1082.2 1488.4h9.09v9.27h-9.09zM1400.31 1488.4h18.18v9.27h-18.18zM1427.58 1488.4h9.09v9.27h-9.09zM1473.02 1488.4h9.09v9.27h-9.09zM1536.64 1488.4h9.09v9.27h-9.09zM364.18 1497.67h9.09v9.26h-9.09zM391.44 1497.67h9.09v9.26h-9.09zM445.98 1497.67h9.09v9.26h-9.09zM545.96 1497.67h9.08v9.26h-9.08zM582.31 1497.67h9.09v9.26h-9.09zM845.89 1497.67h18.18v9.26h-18.18zM873.16 1497.67h9.08v9.26h-9.08zM973.13 1497.67h9.09v9.26h-9.09zM1109.47 1497.67h9.09v9.26h-9.09zM1563.91 1497.67h9.09v9.26h-9.09zM364.18 1506.93h9.09v9.27h-9.09zM427.8 1506.93h18.18v9.27h-18.18zM491.42 1506.93h9.09v9.27h-9.09zM582.31 1506.93h9.09v9.27h-9.09zM791.36 1506.93h9.08v9.27h-9.08zM982.22 1506.93h27.27v9.27h-27.27zM1018.58 1506.93h9.09v9.27h-9.09zM1082.2 1506.93h9.09v9.27h-9.09zM1164 1506.93h18.18v9.27h-18.18zM1273.07 1506.93h18.17v9.27h-18.17zM1309.42 1506.93h9.09v9.27h-9.09zM1327.6 1506.93h27.27v9.27h-27.27zM1363.96 1506.93h27.26v9.27h-27.26zM791.36 1516.2h9.08v9.27h-9.08zM891.33 1516.2h9.09v9.27h-9.09zM918.6 1516.2h9.09v9.27h-9.09zM936.78 1516.2h18.18v9.27h-18.18zM982.22 1516.2h27.27v9.27h-27.27zM1045.84 1516.2h9.09v9.27h-9.09zM1064.02 1516.2h18.18v9.27h-18.18zM1091.29 1516.2h9.09v9.27h-9.09zM1127.64 1516.2h27.27v9.27h-27.27zM1164 1516.2h9.09v9.27h-9.09zM1218.53 1516.2h9.09v9.27h-9.09zM1236.71 1516.2h9.09v9.27h-9.09zM1254.89 1516.2h36.35v9.27h-36.35zM1336.69 1516.2h18.18v9.27h-18.18zM1363.96 1516.2h27.26v9.27h-27.26zM1454.84 1516.2h18.18v9.27h-18.18zM1491.2 1516.2h9.09v9.27h-9.09zM1518.47 1516.2h9.09v9.27h-9.09zM427.8 1525.47h9.09v9.26h-9.09zM491.42 1525.47h9.09v9.26h-9.09zM509.6 1525.47h9.09v9.26h-9.09zM536.87 1525.47h9.09v9.26h-9.09zM845.89 1525.47h9.09v9.26h-9.09zM873.16 1525.47h9.08v9.26h-9.08zM927.69 1525.47h9.09v9.26h-9.09zM1018.58 1525.47h27.26v9.26h-27.26zM1082.2 1525.47h9.09v9.26h-9.09zM427.8 1534.73h9.09v9.27h-9.09zM491.42 1534.73h9.09v9.27h-9.09zM509.6 1534.73h9.09v9.27h-9.09zM536.87 1534.73h9.09v9.27h-9.09zM791.36 1534.73h9.08v9.27h-9.08zM891.33 1534.73h9.09v9.27h-9.09zM982.22 1534.73h45.45v9.27h-45.45zM1091.29 1534.73h9.09v9.27h-9.09zM1127.64 1534.73h18.18v9.27h-18.18zM1164 1534.73h9.09v9.27h-9.09zM1218.53 1534.73h9.09v9.27h-9.09zM1236.71 1534.73h9.09v9.27h-9.09zM1282.16 1534.73h9.08v9.27h-9.08zM1300.33 1534.73h18.18v9.27h-18.18zM1327.6 1534.73h63.62v9.27h-63.62zM427.8 1544h9.09v9.27h-9.09zM564.13 1544h9.09v9.27h-9.09zM582.31 1544h9.09v9.27h-9.09zM845.89 1544h9.09v9.27h-9.09zM873.16 1544h9.08v9.27h-9.08zM927.69 1544h9.09v9.27h-9.09zM973.13 1544h9.09v9.27h-9.09zM1027.67 1544h18.17v9.27h-18.17zM445.98 1553.27h9.09v9.26h-9.09zM845.89 1553.27h9.09v9.26h-9.09zM873.16 1553.27h9.08v9.26h-9.08zM973.13 1553.27h9.09v9.26h-9.09zM1082.2 1553.27h9.09v9.26h-9.09zM346 1562.53h9.09v9.27h-9.09zM364.18 1562.53h9.09v9.27h-9.09zM427.8 1562.53h18.18v9.27h-18.18zM455.07 1562.53h9.09v9.27h-9.09zM509.6 1562.53h18.18v9.27h-18.18zM536.87 1562.53h9.09v9.27h-9.09zM555.04 1562.53h9.09v9.27h-9.09zM591.4 1562.53h9.09v9.27h-9.09zM891.33 1562.53h9.09v9.27h-9.09zM954.96 1562.53h18.17v9.27h-18.17zM1109.47 1562.53h9.09v9.27h-9.09zM1354.87 1562.53h9.09v9.27h-9.09zM1409.4 1562.53h9.09v9.27h-9.09zM346 1571.8h9.09v9.27h-9.09zM364.18 1571.8h9.09v9.27h-9.09zM436.89 1571.8h9.09v9.27h-9.09zM455.07 1571.8h9.09v9.27h-9.09zM509.6 1571.8h18.18v9.27h-18.18zM555.04 1571.8h9.09v9.27h-9.09zM854.98 1571.8h9.09v9.27h-9.09zM891.33 1571.8h9.09v9.27h-9.09zM954.96 1571.8h9.08v9.27h-9.08zM1109.47 1571.8h9.09v9.27h-9.09zM1127.64 1571.8h9.09v9.27h-9.09zM1300.33 1571.8h9.09v9.27h-9.09zM1409.4 1571.8h9.09v9.27h-9.09zM1482.11 1571.8h9.09v9.27h-9.09zM346 1581.07h9.09v9.26h-9.09zM364.18 1581.07h9.09v9.26h-9.09zM509.6 1581.07h9.09v9.26h-9.09zM536.87 1581.07h9.09v9.26h-9.09zM791.36 1581.07h9.08v9.26h-9.08zM891.33 1581.07h9.09v9.26h-9.09zM936.78 1581.07h9.09v9.26h-9.09zM982.22 1581.07h36.36v9.26h-36.36zM1091.29 1581.07h9.09v9.26h-9.09zM1127.64 1581.07h63.63v9.26h-63.63zM1200.36 1581.07h18.17v9.26h-18.17zM1227.62 1581.07h18.18v9.26h-18.18zM1263.98 1581.07h54.53v9.26h-54.53zM1327.6 1581.07h27.27v9.26h-27.27zM1363.96 1581.07h27.26v9.26h-27.26zM1563.91 1581.07h9.09v9.26h-9.09zM445.98 1590.33h9.09v9.27h-9.09zM545.96 1590.33h9.08v9.27h-9.08zM845.89 1590.33h9.09v9.27h-9.09zM873.16 1590.33h9.08v9.27h-9.08zM927.69 1590.33h9.09v9.27h-9.09zM973.13 1590.33h9.09v9.27h-9.09zM1082.2 1590.33h9.09v9.27h-9.09zM1463.93 1590.33h9.09v9.27h-9.09zM1518.47 1590.33h9.09v9.27h-9.09zM1563.91 1590.33h9.09v9.27h-9.09zM346 1599.6h9.09v9.27h-9.09zM364.18 1599.6h9.09v9.27h-9.09zM427.8 1599.6h18.18v9.27h-18.18zM455.07 1599.6h9.09v9.27h-9.09zM509.6 1599.6h18.18v9.27h-18.18zM536.87 1599.6h9.09v9.27h-9.09zM555.04 1599.6h9.09v9.27h-9.09zM845.89 1599.6h9.09v9.27h-9.09zM873.16 1599.6h9.08v9.27h-9.08zM927.69 1599.6h9.09v9.27h-9.09zM964.04 1599.6h9.09v9.27h-9.09zM1018.58 1599.6h27.26v9.27h-27.26zM1082.2 1599.6h9.09v9.27h-9.09zM1409.4 1599.6h9.09v9.27h-9.09zM346 1608.87h9.09v9.26h-9.09zM364.18 1608.87h9.09v9.26h-9.09zM436.89 1608.87h9.09v9.26h-9.09zM491.42 1608.87h9.09v9.26h-9.09zM509.6 1608.87h18.18v9.26h-18.18zM536.87 1608.87h9.09v9.26h-9.09zM845.89 1608.87h9.09v9.26h-9.09zM873.16 1608.87h9.08v9.26h-9.08zM927.69 1608.87h9.09v9.26h-9.09zM964.04 1608.87h18.18v9.26h-18.18zM1027.67 1608.87h18.17v9.26h-18.17zM1082.2 1608.87h9.09v9.26h-9.09zM346 1618.13h9.09v9.27h-9.09zM364.18 1618.13h9.09v9.27h-9.09zM427.8 1618.13h18.18v9.27h-18.18zM509.6 1618.13h9.09v9.27h-9.09zM536.87 1618.13h9.09v9.27h-9.09zM927.69 1618.13h9.09v9.27h-9.09zM964.04 1618.13h18.18v9.27h-18.18zM1027.67 1618.13h18.17v9.27h-18.17zM1082.2 1618.13h9.09v9.27h-9.09zM346 1627.4h9.09v9.27h-9.09zM364.18 1627.4h9.09v9.27h-9.09zM445.98 1627.4h9.09v9.27h-9.09zM491.42 1627.4h9.09v9.27h-9.09zM582.31 1627.4h9.09v9.27h-9.09zM864.07 1627.4h9.09v9.27h-9.09zM936.78 1627.4h9.09v9.27h-9.09zM1000.4 1627.4h9.09v9.27h-9.09zM1045.84 1627.4h9.09v9.27h-9.09zM1064.02 1627.4h9.09v9.27h-9.09zM1091.29 1627.4h9.09v9.27h-9.09zM1164 1627.4h27.27v9.27h-27.27zM1200.36 1627.4h18.17v9.27h-18.17zM1227.62 1627.4h27.27v9.27h-27.27zM1291.24 1627.4h9.09v9.27h-9.09zM1345.78 1627.4h27.26v9.27h-27.26zM1409.4 1627.4h9.09v9.27h-9.09zM1482.11 1627.4h9.09v9.27h-9.09zM346 1636.67h9.09v9.26h-9.09zM364.18 1636.67h9.09v9.26h-9.09zM427.8 1636.67h9.09v9.26h-9.09zM555.04 1636.67h9.09v9.26h-9.09zM582.31 1636.67h9.09v9.26h-9.09zM1018.58 1636.67h9.09v9.26h-9.09zM1036.76 1636.67h9.08v9.26h-9.08zM1082.2 1636.67h9.09v9.26h-9.09zM445.98 1645.93h9.09v9.27h-9.09zM791.36 1645.93h9.08v9.27h-9.08zM936.78 1645.93h9.09v9.27h-9.09zM982.22 1645.93h27.27v9.27h-27.27zM1045.84 1645.93h9.09v9.27h-9.09zM1091.29 1645.93h9.09v9.27h-9.09zM1136.73 1645.93h18.18v9.27h-18.18zM1164 1645.93h27.27v9.27h-27.27zM1200.36 1645.93h18.17v9.27h-18.17zM1236.71 1645.93h9.09v9.27h-9.09zM1263.98 1645.93h18.18v9.27h-18.18zM1291.24 1645.93h9.09v9.27h-9.09zM1309.42 1645.93h9.09v9.27h-9.09zM1327.6 1645.93h27.27v9.27h-27.27zM1363.96 1645.93h27.26v9.27h-27.26zM1554.82 1645.93h9.09v9.27h-9.09zM427.8 1655.2h9.09v9.27h-9.09zM509.6 1655.2h9.09v9.27h-9.09zM536.87 1655.2h9.09v9.27h-9.09zM964.04 1655.2h9.09v9.27h-9.09zM1018.58 1655.2h9.09v9.27h-9.09zM1036.76 1655.2h9.08v9.27h-9.08zM1082.2 1655.2h9.09v9.27h-9.09zM427.8 1664.47h9.09v9.26h-9.09zM545.96 1664.47h9.08v9.26h-9.08zM582.31 1664.47h9.09v9.26h-9.09zM791.36 1664.47h9.08v9.26h-9.08zM1018.58 1664.47h9.09v9.26h-9.09zM1036.76 1664.47h9.08v9.26h-9.08zM1282.16 1664.47h9.08v9.26h-9.08zM1536.64 1664.47h9.09v9.26h-9.09zM491.42 1673.73h9.09v9.27h-9.09zM864.07 1673.73h9.09v9.27h-9.09zM1045.84 1673.73h9.09v9.27h-9.09zM1064.02 1673.73h9.09v9.27h-9.09zM1100.38 1673.73h9.09v9.27h-9.09zM1154.91 1673.73h9.09v9.27h-9.09zM1173.09 1673.73h9.09v9.27h-9.09zM1227.62 1673.73h9.09v9.27h-9.09zM1273.07 1673.73h9.09v9.27h-9.09zM1391.22 1673.73h9.09v9.27h-9.09zM1473.02 1673.73h18.18v9.27h-18.18z"/>
<path fill="#6b70ff" d="M373.27 432h9.09v9.27h-9.09zM455.07 432h9.09v9.27h-9.09zM445.98 441.27h18.18v9.26h-18.18zM500.51 441.27h9.09v9.26h-9.09zM445.98 450.53h9.09v9.27h-9.09zM500.51 450.53h9.09v9.27h-9.09zM536.87 450.53h9.09v9.27h-9.09zM673.2 450.53h9.09v9.27h-9.09zM891.33 450.53h9.09v9.27h-9.09zM964.04 450.53h9.09v9.27h-9.09zM1009.49 450.53h9.09v9.27h-9.09zM1127.64 450.53h9.09v9.27h-9.09zM1218.53 450.53h9.09v9.27h-9.09zM1300.33 450.53h9.09v9.27h-9.09zM1436.67 450.53h9.09v9.27h-9.09zM1554.82 450.53h9.09v9.27h-9.09zM346 459.8h9.09v9.27h-9.09zM445.98 459.8h9.09v9.27h-9.09zM518.69 459.8h9.09v9.27h-9.09zM555.04 459.8h9.09v9.27h-9.09zM573.22 459.8h9.09v9.27h-9.09zM682.29 459.8h9.09v9.27h-9.09zM464.16 469.07h9.08v9.26h-9.08zM1154.91 478.33h9.09v9.27h-9.09zM1227.62 478.33h9.09v9.27h-9.09zM1318.51 478.33h9.09v9.27h-9.09zM1454.84 478.33h9.09v9.27h-9.09zM1473.02 478.33h18.18v9.27h-18.18zM1554.82 478.33h9.09v9.27h-9.09zM673.2 487.6h9.09v9.27h-9.09zM445.98 496.87h18.18v9.26h-18.18zM500.51 496.87h9.09v9.26h-9.09zM445.98 506.13h18.18v9.27h-18.18zM500.51 506.13h9.09v9.27h-9.09zM455.07 515.4h9.09v9.27h-9.09zM500.51 515.4h18.18v9.27h-18.18zM1463.93 515.4h9.09v9.27h-9.09zM673.2 524.67h9.09v9.26h-9.09zM854.98 524.67h9.09v9.26h-9.09zM918.6 524.67h9.09v9.26h-9.09zM936.78 524.67h9.09v9.26h-9.09zM1045.84 524.67h9.09v9.26h-9.09zM1182.18 524.67h9.09v9.26h-9.09zM1200.36 524.67h9.08v9.26h-9.08zM1345.78 524.67h9.09v9.26h-9.09zM1391.22 524.67h9.09v9.26h-9.09zM1518.47 524.67h9.09v9.26h-9.09zM355.09 533.93h27.27v9.27h-27.27zM409.62 533.93h18.18v9.27h-18.18zM464.16 533.93h9.08v9.27h-9.08zM482.33 533.93h9.09v9.27h-9.09zM527.78 533.93h9.09v9.27h-9.09zM673.2 533.93h9.09v9.27h-9.09zM882.24 533.93h9.09v9.27h-9.09zM1191.27 533.93h9.09v9.27h-9.09zM1473.02 533.93h9.09v9.27h-9.09zM1545.73 533.93h18.18v9.27h-18.18zM346 543.2h18.18v9.27h-18.18zM409.62 543.2h27.27v9.27h-27.27zM464.16 543.2h9.08v9.27h-9.08zM482.33 543.2h9.09v9.27h-9.09zM582.31 543.2h18.18v9.27h-18.18zM882.24 543.2h9.09v9.27h-9.09zM382.36 552.47h9.08v9.26h-9.08zM445.98 552.47h18.18v9.26h-18.18zM500.51 552.47h9.09v9.26h-9.09zM755 552.47h9.09v9.26h-9.09zM773.18 552.47h9.09v9.26h-9.09zM445.98 571h18.18v9.27h-18.18zM500.51 571h9.09v9.27h-9.09zM500.51 580.27h9.09v9.26h-9.09zM673.2 580.27h9.09v9.26h-9.09zM918.6 580.27h9.09v9.26h-9.09zM945.87 580.27h9.09v9.26h-9.09zM1463.93 580.27h18.18v9.26h-18.18zM1509.38 580.27h9.09v9.26h-9.09zM1545.73 580.27h9.09v9.26h-9.09zM355.09 589.53h18.18v9.27h-18.18zM409.62 589.53h27.27v9.27h-27.27zM464.16 589.53h9.08v9.27h-9.08zM482.33 589.53h18.18v9.27h-18.18zM518.69 589.53h18.18v9.27h-18.18zM555.04 589.53h9.09v9.27h-9.09zM727.73 589.53h9.09v9.27h-9.09zM427.8 598.8h9.09v9.27h-9.09zM954.96 598.8h9.08v9.27h-9.08zM1182.18 598.8h9.09v9.27h-9.09zM1200.36 598.8h9.08v9.27h-9.08zM1345.78 598.8h9.09v9.27h-9.09zM1391.22 598.8h18.18v9.27h-18.18zM1527.56 598.8h9.08v9.27h-9.08zM373.27 608.07h9.09v9.26h-9.09zM500.51 608.07h9.09v9.26h-9.09zM445.98 617.33h9.09v9.27h-9.09zM500.51 617.33h9.09v9.27h-9.09zM364.18 626.6h9.09v9.27h-9.09zM1045.84 626.6h9.09v9.27h-9.09zM1073.11 626.6h18.18v9.27h-18.18zM1400.31 626.6h9.09v9.27h-9.09zM1463.93 626.6h9.09v9.27h-9.09zM1527.56 626.6h9.08v9.27h-9.08zM1100.38 635.87h9.09v9.26h-9.09zM1227.62 635.87h9.09v9.26h-9.09zM1245.8 635.87h9.09v9.26h-9.09zM1354.87 635.87h9.09v9.26h-9.09zM1454.84 635.87h9.09v9.26h-9.09zM1473.02 635.87h9.09v9.26h-9.09zM373.27 645.13h9.09v9.27h-9.09zM500.51 645.13h9.09v9.27h-9.09zM373.27 663.67h9.09v9.26h-9.09zM455.07 672.93h9.09v9.27h-9.09zM673.2 672.93h9.09v9.27h-9.09zM773.18 672.93h9.09v9.27h-9.09zM964.04 672.93h9.09v9.27h-9.09zM1009.49 672.93h9.09v9.27h-9.09zM1127.64 672.93h9.09v9.27h-9.09zM1218.53 672.93h9.09v9.27h-9.09zM1300.33 672.93h9.09v9.27h-9.09zM455.07 682.2h9.09v9.27h-9.09zM655.02 682.2h9.09v9.27h-9.09zM691.38 682.2h18.18v9.27h-18.18zM736.82 682.2h9.09v9.27h-9.09zM773.18 682.2h9.09v9.27h-9.09zM618.67 691.47h9.09v9.26h-9.09zM691.38 691.47h9.09v9.26h-9.09zM755 691.47h9.09v9.26h-9.09zM682.29 700.73h9.09v9.27h-9.09zM700.47 700.73h18.17v9.27h-18.17zM727.73 700.73h18.18v9.27h-18.18zM755 700.73h9.09v9.27h-9.09zM600.49 710h9.09v9.27h-9.09zM627.76 710h9.08v9.27h-9.08zM673.2 710h9.09v9.27h-9.09zM764.09 710h9.09v9.27h-9.09zM618.67 719.27h9.09v9.26h-9.09zM700.47 719.27h18.17v9.26h-18.17zM655.02 737.8h9.09v9.27h-9.09zM691.38 737.8h9.09v9.27h-9.09zM736.82 737.8h9.09v9.27h-9.09zM755 737.8h9.09v9.27h-9.09zM773.18 737.8h9.09v9.27h-9.09zM1054.93 737.8h9.09v9.27h-9.09zM591.4 747.07h9.09v9.26h-9.09zM645.93 747.07h9.09v9.26h-9.09zM673.2 747.07h18.18v9.26h-18.18zM364.18 765.6h9.09v9.27h-9.09zM400.53 765.6h9.09v9.27h-9.09zM436.89 765.6h18.18v9.27h-18.18zM491.42 765.6h9.09v9.27h-9.09zM582.31 765.6h9.09v9.27h-9.09zM618.67 765.6h9.09v9.27h-9.09zM655.02 765.6h9.09v9.27h-9.09zM682.29 765.6h9.09v9.27h-9.09zM700.47 765.6h9.09v9.27h-9.09zM773.18 765.6h9.09v9.27h-9.09zM1036.76 765.6h9.08v9.27h-9.08zM373.27 774.87h9.09v9.26h-9.09zM609.58 774.87h9.09v9.26h-9.09zM655.02 774.87h9.09v9.26h-9.09zM673.2 774.87h9.09v9.26h-9.09zM700.47 774.87h9.09v9.26h-9.09zM764.09 774.87h18.18v9.26h-18.18zM900.42 774.87h9.09v9.26h-9.09zM591.4 784.13h18.18v9.27h-18.18zM645.93 784.13h9.09v9.27h-9.09zM591.4 793.4h9.09v9.27h-9.09zM609.58 793.4h9.09v9.27h-9.09zM627.76 793.4h9.08v9.27h-9.08zM673.2 793.4h18.18v9.27h-18.18zM745.91 793.4h9.09v9.27h-9.09zM764.09 793.4h9.09v9.27h-9.09zM609.58 802.67h9.09v9.26h-9.09zM627.76 802.67h9.08v9.26h-9.08zM736.82 802.67h9.09v9.26h-9.09zM500.51 821.2h9.09v9.27h-9.09zM609.58 821.2h9.09v9.27h-9.09zM591.4 830.47h9.09v9.26h-9.09zM609.58 830.47h9.09v9.26h-9.09zM645.93 830.47h9.09v9.26h-9.09zM709.56 830.47h9.08v9.26h-9.08zM755 830.47h18.18v9.26h-18.18zM700.47 839.73h9.09v9.27h-9.09zM464.16 849h9.08v9.27h-9.08zM600.49 849h18.18v9.27h-18.18zM645.93 849h9.09v9.27h-9.09zM736.82 849h9.09v9.27h-9.09zM764.09 849h9.09v9.27h-9.09zM618.67 858.27h9.09v9.26h-9.09zM682.29 858.27h9.09v9.26h-9.09zM700.47 858.27h9.09v9.26h-9.09zM736.82 858.27h9.09v9.26h-9.09zM755 858.27h9.09v9.26h-9.09zM464.16 867.53h9.08v9.27h-9.08zM582.31 867.53h18.18v9.27h-18.18zM645.93 867.53h9.09v9.27h-9.09zM673.2 867.53h18.18v9.27h-18.18zM891.33 876.8h9.09v9.27h-9.09zM1045.84 876.8h9.09v9.27h-9.09zM918.6 886.07h9.09v9.26h-9.09zM1018.58 886.07h9.09v9.26h-9.09zM1127.64 886.07h9.09v9.26h-9.09zM1300.33 886.07h9.09v9.26h-9.09zM1454.84 886.07h9.09v9.26h-9.09zM900.42 941.67h9.09v9.26h-9.09zM918.6 941.67h9.09v9.26h-9.09zM936.78 941.67h18.18v9.26h-18.18zM1018.58 941.67h18.18v9.26h-18.18zM1118.56 941.67h9.08v9.26h-9.08zM436.89 950.93h9.09v9.27h-9.09zM900.42 950.93h9.09v9.27h-9.09zM918.6 950.93h9.09v9.27h-9.09zM936.78 950.93h9.09v9.27h-9.09zM1018.58 950.93h18.18v9.27h-18.18zM1054.93 950.93h9.09v9.27h-9.09zM1118.56 950.93h9.08v9.27h-9.08zM1400.31 950.93h9.09v9.27h-9.09zM1436.67 950.93h9.09v9.27h-9.09zM1518.47 950.93h9.09v9.27h-9.09zM891.33 960.2h9.09v9.27h-9.09zM973.13 960.2h9.09v9.27h-9.09zM1009.49 960.2h9.09v9.27h-9.09zM1036.76 960.2h9.08v9.27h-9.08zM1082.2 960.2h9.09v9.27h-9.09zM1354.87 960.2h9.09v9.27h-9.09zM1400.31 960.2h18.18v9.27h-18.18zM1427.58 960.2h9.09v9.27h-9.09zM1473.02 960.2h9.09v9.27h-9.09zM1536.64 960.2h9.09v9.27h-9.09zM882.24 969.47h9.09v9.26h-9.09zM918.6 969.47h18.18v9.26h-18.18zM1082.2 969.47h9.09v9.26h-9.09zM1118.56 969.47h9.08v9.26h-9.08zM445.98 978.73h18.18v9.27h-18.18zM873.16 978.73h9.08v9.27h-9.08zM891.33 978.73h9.09v9.27h-9.09zM1018.58 978.73h9.09v9.27h-9.09zM1045.84 978.73h18.18v9.27h-18.18zM1082.2 978.73h9.09v9.27h-9.09zM364.18 988h9.09v9.27h-9.09zM782.27 988h9.09v9.27h-9.09zM864.07 988h9.09v9.27h-9.09zM882.24 988h9.09v9.27h-9.09zM1036.76 988h9.08v9.27h-9.08zM1154.91 988h18.18v9.27h-18.18zM1191.27 988h9.09v9.27h-9.09zM1209.44 988h9.09v9.27h-9.09zM1227.62 988h45.45v9.27h-45.45zM1291.24 988h9.09v9.27h-9.09zM1309.42 988h27.27v9.27h-27.27zM1363.96 988h27.26v9.27h-27.26zM1400.31 988h9.09v9.27h-9.09zM1418.49 988h9.09v9.27h-9.09zM1482.11 988h18.18v9.27h-18.18zM1545.73 988h9.09v9.27h-9.09zM682.29 997.27h9.09v9.26h-9.09zM845.89 997.27h18.18v9.26h-18.18zM909.51 997.27h9.09v9.26h-9.09zM1064.02 997.27h18.18v9.26h-18.18zM900.42 1006.53h9.09v9.27h-9.09zM1018.58 1006.53h9.09v9.27h-9.09zM1054.93 1006.53h9.09v9.27h-9.09zM436.89 1015.8h9.09v9.27h-9.09zM491.42 1015.8h9.09v9.27h-9.09zM791.36 1015.8h9.08v9.27h-9.08zM845.89 1015.8h18.18v9.27h-18.18zM873.16 1015.8h9.08v9.27h-9.08zM927.69 1015.8h9.09v9.27h-9.09zM1027.67 1015.8h9.09v9.27h-9.09zM1354.87 1015.8h9.09v9.27h-9.09zM873.16 1025.07h9.08v9.26h-9.08zM918.6 1025.07h9.09v9.26h-9.09zM964.04 1025.07h9.09v9.26h-9.09zM982.22 1025.07h9.09v9.26h-9.09zM1000.4 1025.07h9.09v9.26h-9.09zM1064.02 1025.07h9.09v9.26h-9.09zM1109.47 1025.07h9.09v9.26h-9.09zM1145.82 1025.07h9.09v9.26h-9.09zM1354.87 1025.07h9.09v9.26h-9.09zM436.89 1034.33h9.09v9.27h-9.09zM845.89 1034.33h18.18v9.27h-18.18zM973.13 1034.33h9.09v9.27h-9.09zM1036.76 1034.33h9.08v9.27h-9.08zM1109.47 1034.33h9.09v9.27h-9.09zM1354.87 1034.33h9.09v9.27h-9.09zM1400.31 1034.33h9.09v9.27h-9.09zM1427.58 1034.33h9.09v9.27h-9.09zM491.42 1043.6h9.09v9.27h-9.09zM845.89 1043.6h9.09v9.27h-9.09zM964.04 1043.6h18.18v9.27h-18.18zM1082.2 1043.6h9.09v9.27h-9.09zM1354.87 1043.6h9.09v9.27h-9.09zM509.6 1052.87h9.09v9.26h-9.09zM1100.38 1052.87h9.09v9.26h-9.09zM1154.91 1052.87h9.09v9.26h-9.09zM1182.18 1052.87h9.09v9.26h-9.09zM1200.36 1052.87h9.08v9.26h-9.08zM1263.98 1052.87h18.18v9.26h-18.18zM1291.24 1052.87h18.18v9.26h-18.18zM1363.96 1052.87h9.08v9.26h-9.08zM1391.22 1052.87h18.18v9.26h-18.18zM1427.58 1052.87h9.09v9.26h-9.09zM1554.82 1052.87h9.09v9.26h-9.09zM364.18 1062.13h9.09v9.27h-9.09zM582.31 1062.13h9.09v9.27h-9.09zM927.69 1062.13h9.09v9.27h-9.09zM945.87 1062.13h9.09v9.27h-9.09zM1073.11 1062.13h9.09v9.27h-9.09zM1136.73 1062.13h9.09v9.27h-9.09zM1336.69 1062.13h9.09v9.27h-9.09zM1400.31 1062.13h9.09v9.27h-9.09zM1463.93 1062.13h9.09v9.27h-9.09zM1527.56 1062.13h9.08v9.27h-9.08zM864.07 1071.4h9.09v9.27h-9.09zM936.78 1071.4h18.18v9.27h-18.18zM982.22 1071.4h27.27v9.27h-27.27zM1018.58 1071.4h18.18v9.27h-18.18zM1073.11 1071.4h9.09v9.27h-9.09zM1091.29 1071.4h18.18v9.27h-18.18zM1136.73 1071.4h27.27v9.27h-27.27zM1182.18 1071.4h36.35v9.27h-36.35zM1236.71 1071.4h18.18v9.27h-18.18zM1263.98 1071.4h9.09v9.27h-9.09zM1291.24 1071.4h9.09v9.27h-9.09zM927.69 1080.67h9.09v9.26h-9.09zM973.13 1080.67h9.09v9.26h-9.09zM1027.67 1080.67h9.09v9.26h-9.09zM973.13 1089.93h9.09v9.27h-9.09zM1009.49 1089.93h9.09v9.27h-9.09zM1300.33 1089.93h9.09v9.27h-9.09zM1354.87 1089.93h9.09v9.27h-9.09zM1454.84 1089.93h9.09v9.27h-9.09zM1554.82 1089.93h9.09v9.27h-9.09zM927.69 1099.2h9.09v9.27h-9.09zM973.13 1099.2h9.09v9.27h-9.09zM1036.76 1099.2h9.08v9.27h-9.08zM1354.87 1099.2h9.09v9.27h-9.09zM364.18 1108.47h9.09v9.26h-9.09zM582.31 1108.47h9.09v9.26h-9.09zM864.07 1108.47h9.09v9.26h-9.09zM991.31 1108.47h9.09v9.26h-9.09zM1018.58 1108.47h9.09v9.26h-9.09zM1064.02 1108.47h9.09v9.26h-9.09zM1082.2 1108.47h9.09v9.26h-9.09zM1145.82 1108.47h18.18v9.26h-18.18zM1209.44 1108.47h9.09v9.26h-9.09zM1236.71 1108.47h18.18v9.26h-18.18zM1263.98 1108.47h9.09v9.26h-9.09zM1291.24 1108.47h9.09v9.26h-9.09zM1309.42 1108.47h27.27v9.26h-27.27zM1363.96 1108.47h27.26v9.26h-27.26zM1418.49 1108.47h9.09v9.26h-9.09zM1454.84 1108.47h18.18v9.26h-18.18zM1482.11 1108.47h9.09v9.26h-9.09zM791.36 1117.73h9.08v9.27h-9.08zM845.89 1117.73h18.18v9.27h-18.18zM882.24 1117.73h9.09v9.27h-9.09zM909.51 1117.73h9.09v9.27h-9.09zM973.13 1117.73h9.09v9.27h-9.09zM1009.49 1117.73h9.09v9.27h-9.09zM1218.53 1117.73h9.09v9.27h-9.09zM1254.89 1117.73h9.09v9.27h-9.09zM1436.67 1117.73h9.09v9.27h-9.09zM1500.29 1117.73h18.18v9.27h-18.18zM845.89 1127h18.18v9.27h-18.18zM918.6 1127h9.09v9.27h-9.09zM973.13 1127h18.18v9.27h-18.18zM1091.29 1127h27.27v9.27h-27.27zM1136.73 1127h9.09v9.27h-9.09zM1154.91 1127h9.09v9.27h-9.09zM1173.09 1127h45.44v9.27h-45.44zM1236.71 1127h18.18v9.27h-18.18zM1263.98 1127h9.09v9.27h-9.09zM1291.24 1127h9.09v9.27h-9.09zM1309.42 1127h9.09v9.27h-9.09zM1327.6 1127h27.27v9.27h-27.27zM1363.96 1127h36.35v9.27h-36.35zM1445.76 1127h9.08v9.27h-9.08zM1482.11 1127h9.09v9.27h-9.09zM673.2 1136.27h9.09v9.26h-9.09zM864.07 1136.27h9.09v9.26h-9.09zM891.33 1136.27h9.09v9.26h-9.09zM936.78 1136.27h9.09v9.26h-9.09zM1000.4 1136.27h9.09v9.26h-9.09zM1091.29 1136.27h18.18v9.26h-18.18zM1136.73 1136.27h81.8v9.26h-81.8zM1236.71 1136.27h18.18v9.26h-18.18zM1263.98 1136.27h9.09v9.26h-9.09zM1291.24 1136.27h9.09v9.26h-9.09zM1309.42 1136.27h27.27v9.26h-27.27zM1345.78 1136.27h9.09v9.26h-9.09zM1363.96 1136.27h36.35v9.26h-36.35zM1445.76 1136.27h9.08v9.26h-9.08zM1482.11 1136.27h9.09v9.26h-9.09zM436.89 1145.53h9.09v9.27h-9.09zM536.87 1145.53h9.09v9.27h-9.09zM782.27 1145.53h9.09v9.27h-9.09zM882.24 1145.53h9.09v9.27h-9.09zM1118.56 1145.53h9.08v9.27h-9.08zM1354.87 1145.53h9.09v9.27h-9.09zM1400.31 1145.53h9.09v9.27h-9.09zM1427.58 1145.53h9.09v9.27h-9.09zM1473.02 1145.53h9.09v9.27h-9.09zM645.93 1154.8h9.09v9.27h-9.09zM854.98 1154.8h9.09v9.27h-9.09zM882.24 1154.8h9.09v9.27h-9.09zM909.51 1154.8h9.09v9.27h-9.09zM900.42 1164.07h9.09v9.26h-9.09zM927.69 1164.07h9.09v9.26h-9.09zM1009.49 1164.07h9.09v9.26h-9.09zM1118.56 1164.07h9.08v9.26h-9.08zM1400.31 1164.07h9.09v9.26h-9.09zM1427.58 1164.07h9.09v9.26h-9.09zM1473.02 1164.07h9.09v9.26h-9.09zM1536.64 1164.07h9.09v9.26h-9.09zM1554.82 1164.07h9.09v9.26h-9.09zM536.87 1173.33h9.09v9.27h-9.09zM900.42 1173.33h9.09v9.27h-9.09zM964.04 1173.33h18.18v9.27h-18.18zM536.87 1182.6h9.09v9.27h-9.09zM864.07 1182.6h27.26v9.27h-27.26zM945.87 1182.6h9.09v9.27h-9.09zM1009.49 1182.6h9.09v9.27h-9.09zM1100.38 1182.6h18.18v9.27h-18.18zM1136.73 1182.6h9.09v9.27h-9.09zM1154.91 1182.6h9.09v9.27h-9.09zM1173.09 1182.6h18.18v9.27h-18.18zM1200.36 1182.6h9.08v9.27h-9.08zM1300.33 1182.6h9.09v9.27h-9.09zM1345.78 1182.6h9.09v9.27h-9.09zM1391.22 1182.6h9.09v9.27h-9.09zM1436.67 1182.6h9.09v9.27h-9.09zM1554.82 1182.6h9.09v9.27h-9.09zM973.13 1191.87h9.09v9.26h-9.09zM1027.67 1191.87h18.17v9.26h-18.17zM1354.87 1191.87h9.09v9.26h-9.09zM1400.31 1191.87h9.09v9.26h-9.09zM545.96 1201.13h9.08v9.27h-9.08zM954.96 1201.13h9.08v9.27h-9.08zM973.13 1201.13h9.09v9.27h-9.09zM1027.67 1201.13h18.17v9.27h-18.17zM1082.2 1201.13h9.09v9.27h-9.09zM1109.47 1201.13h9.09v9.27h-9.09zM1400.31 1201.13h18.18v9.27h-18.18zM1427.58 1201.13h9.09v9.27h-9.09zM1473.02 1201.13h9.09v9.27h-9.09zM1518.47 1201.13h9.09v9.27h-9.09zM1536.64 1201.13h9.09v9.27h-9.09zM927.69 1210.4h18.18v9.27h-18.18zM1027.67 1210.4h9.09v9.27h-9.09zM1082.2 1210.4h9.09v9.27h-9.09zM1100.38 1210.4h9.09v9.27h-9.09zM1118.56 1210.4h9.08v9.27h-9.08zM1154.91 1210.4h9.09v9.27h-9.09zM1173.09 1210.4h9.09v9.27h-9.09zM1191.27 1210.4h9.09v9.27h-9.09zM1245.8 1210.4h9.09v9.27h-9.09zM1345.78 1210.4h9.09v9.27h-9.09zM1373.04 1210.4h9.09v9.27h-9.09zM1400.31 1210.4h9.09v9.27h-9.09zM1418.49 1210.4h36.35v9.27h-36.35zM1482.11 1210.4h18.18v9.27h-18.18zM1518.47 1210.4h18.17v9.27h-18.17zM1545.73 1210.4h9.09v9.27h-9.09zM845.89 1219.67h18.18v9.26h-18.18zM873.16 1219.67h9.08v9.26h-9.08zM1045.84 1219.67h9.09v9.26h-9.09zM1064.02 1219.67h9.09v9.26h-9.09zM1109.47 1219.67h9.09v9.26h-9.09zM364.18 1228.93h9.09v9.27h-9.09zM582.31 1228.93h9.09v9.27h-9.09zM791.36 1228.93h9.08v9.27h-9.08zM1400.31 1228.93h9.09v9.27h-9.09zM1454.84 1228.93h9.09v9.27h-9.09zM964.04 1238.2h18.18v9.27h-18.18zM1027.67 1238.2h18.17v9.27h-18.17zM1082.2 1238.2h9.09v9.27h-9.09zM1354.87 1238.2h9.09v9.27h-9.09zM1400.31 1238.2h9.09v9.27h-9.09zM927.69 1247.47h9.09v9.26h-9.09zM973.13 1247.47h9.09v9.26h-9.09zM1009.49 1247.47h9.09v9.26h-9.09zM1036.76 1247.47h9.08v9.26h-9.08zM1400.31 1247.47h9.09v9.26h-9.09zM1427.58 1247.47h9.09v9.26h-9.09zM1554.82 1247.47h9.09v9.26h-9.09zM391.44 1256.73h9.09v9.27h-9.09zM891.33 1256.73h9.09v9.27h-9.09zM954.96 1256.73h9.08v9.27h-9.08zM973.13 1256.73h9.09v9.27h-9.09zM1009.49 1256.73h9.09v9.27h-9.09zM1027.67 1256.73h18.17v9.27h-18.17zM1082.2 1256.73h9.09v9.27h-9.09zM1109.47 1256.73h9.09v9.27h-9.09zM1400.31 1256.73h18.18v9.27h-18.18zM1427.58 1256.73h9.09v9.27h-9.09zM1518.47 1256.73h9.09v9.27h-9.09zM1536.64 1256.73h9.09v9.27h-9.09zM1554.82 1256.73h9.09v9.27h-9.09zM891.33 1266h9.09v9.27h-9.09zM1036.76 1266h9.08v9.27h-9.08zM1027.67 1275.27h18.17v9.26h-18.17zM1082.2 1275.27h9.09v9.26h-9.09zM1109.47 1275.27h9.09v9.26h-9.09zM1409.4 1275.27h9.09v9.26h-9.09zM1427.58 1275.27h9.09v9.26h-9.09zM436.89 1284.53h9.09v9.27h-9.09zM509.6 1284.53h9.09v9.27h-9.09zM954.96 1284.53h9.08v9.27h-9.08zM973.13 1284.53h9.09v9.27h-9.09zM1027.67 1284.53h18.17v9.27h-18.17zM1082.2 1284.53h9.09v9.27h-9.09zM1400.31 1284.53h18.18v9.27h-18.18zM1427.58 1284.53h9.09v9.27h-9.09zM445.98 1293.8h9.09v9.27h-9.09zM891.33 1293.8h9.09v9.27h-9.09zM973.13 1293.8h9.09v9.27h-9.09zM1027.67 1293.8h18.17v9.27h-18.17zM1109.47 1293.8h9.09v9.27h-9.09zM1409.4 1293.8h9.09v9.27h-9.09zM1473.02 1293.8h9.09v9.27h-9.09zM1536.64 1293.8h9.09v9.27h-9.09zM1563.91 1293.8h9.09v9.27h-9.09zM436.89 1303.07h9.09v9.26h-9.09zM509.6 1303.07h9.09v9.26h-9.09zM954.96 1303.07h9.08v9.26h-9.08zM973.13 1303.07h9.09v9.26h-9.09zM1027.67 1303.07h18.17v9.26h-18.17zM1082.2 1303.07h9.09v9.26h-9.09zM1354.87 1303.07h9.09v9.26h-9.09zM1400.31 1303.07h18.18v9.26h-18.18zM1427.58 1303.07h9.09v9.26h-9.09zM891.33 1312.33h9.09v9.27h-9.09zM973.13 1312.33h9.09v9.27h-9.09zM1009.49 1312.33h9.09v9.27h-9.09zM1027.67 1312.33h18.17v9.27h-18.17zM1400.31 1312.33h18.18v9.27h-18.18zM1427.58 1312.33h9.09v9.27h-9.09zM1554.82 1312.33h9.09v9.27h-9.09zM364.18 1321.6h9.09v9.27h-9.09zM582.31 1321.6h9.09v9.27h-9.09zM1018.58 1321.6h9.09v9.27h-9.09zM1463.93 1321.6h18.18v9.27h-18.18zM391.44 1330.87h9.09v9.26h-9.09zM545.96 1330.87h9.08v9.26h-9.08zM891.33 1330.87h9.09v9.26h-9.09zM1400.31 1330.87h18.18v9.26h-18.18zM1427.58 1330.87h9.09v9.26h-9.09zM1454.84 1330.87h9.09v9.26h-9.09zM1536.64 1330.87h9.09v9.26h-9.09zM1554.82 1330.87h9.09v9.26h-9.09zM891.33 1340.13h9.09v9.27h-9.09zM973.13 1340.13h9.09v9.27h-9.09zM1009.49 1340.13h9.09v9.27h-9.09zM1027.67 1340.13h18.17v9.27h-18.17zM1354.87 1340.13h9.09v9.27h-9.09zM1400.31 1340.13h9.09v9.27h-9.09zM545.96 1349.4h9.08v9.27h-9.08zM891.33 1349.4h9.09v9.27h-9.09zM973.13 1349.4h9.09v9.27h-9.09zM1009.49 1349.4h9.09v9.27h-9.09zM1027.67 1349.4h18.17v9.27h-18.17zM1109.47 1349.4h9.09v9.27h-9.09zM1409.4 1349.4h9.09v9.27h-9.09zM1463.93 1349.4h18.18v9.27h-18.18zM1536.64 1349.4h9.09v9.27h-9.09zM891.33 1358.67h9.09v9.26h-9.09zM1018.58 1358.67h9.09v9.26h-9.09zM1300.33 1358.67h9.09v9.26h-9.09zM1473.02 1358.67h9.09v9.26h-9.09zM1518.47 1358.67h9.09v9.26h-9.09zM1554.82 1358.67h9.09v9.26h-9.09zM891.33 1367.93h9.09v9.27h-9.09zM954.96 1367.93h9.08v9.27h-9.08zM973.13 1367.93h9.09v9.27h-9.09zM1009.49 1367.93h9.09v9.27h-9.09zM1027.67 1367.93h18.17v9.27h-18.17zM1400.31 1367.93h9.09v9.27h-9.09zM1427.58 1367.93h9.09v9.27h-9.09zM954.96 1377.2h9.08v9.27h-9.08zM1300.33 1377.2h9.09v9.27h-9.09zM1427.58 1377.2h9.09v9.27h-9.09zM1454.84 1377.2h9.09v9.27h-9.09zM1554.82 1377.2h9.09v9.27h-9.09zM1300.33 1386.47h9.09v9.26h-9.09zM1454.84 1386.47h9.09v9.26h-9.09zM891.33 1395.73h9.09v9.27h-9.09zM954.96 1395.73h9.08v9.27h-9.08zM973.13 1395.73h9.09v9.27h-9.09zM1009.49 1395.73h9.09v9.27h-9.09zM1027.67 1395.73h18.17v9.27h-18.17zM1400.31 1395.73h18.18v9.27h-18.18zM1427.58 1395.73h9.09v9.27h-9.09zM364.18 1405h9.09v9.27h-9.09zM582.31 1405h9.09v9.27h-9.09zM791.36 1405h9.08v9.27h-9.08zM954.96 1405h9.08v9.27h-9.08zM991.31 1405h9.09v9.27h-9.09zM1082.2 1405h9.09v9.27h-9.09zM1254.89 1405h9.09v9.27h-9.09zM1273.07 1405h18.17v9.27h-18.17zM1454.84 1405h9.09v9.27h-9.09zM891.33 1414.27h9.09v9.26h-9.09zM1009.49 1414.27h9.09v9.26h-9.09zM1027.67 1414.27h18.17v9.26h-18.17zM1409.4 1414.27h9.09v9.26h-9.09zM391.44 1423.53h9.09v9.27h-9.09zM891.33 1423.53h9.09v9.27h-9.09zM1009.49 1423.53h9.09v9.27h-9.09zM1036.76 1423.53h9.08v9.27h-9.08zM1409.4 1423.53h9.09v9.27h-9.09zM1473.02 1423.53h9.09v9.27h-9.09zM1518.47 1423.53h9.09v9.27h-9.09zM891.33 1432.8h9.09v9.27h-9.09zM1009.49 1432.8h9.09v9.27h-9.09zM1027.67 1432.8h18.17v9.27h-18.17zM1354.87 1432.8h9.09v9.27h-9.09zM1409.4 1432.8h9.09v9.27h-9.09zM964.04 1442.07h9.09v9.26h-9.09zM1027.67 1442.07h9.09v9.26h-9.09zM1354.87 1442.07h9.09v9.26h-9.09zM436.89 1451.33h9.09v9.27h-9.09zM509.6 1451.33h9.09v9.27h-9.09zM1027.67 1451.33h18.17v9.27h-18.17zM1082.2 1451.33h9.09v9.27h-9.09zM1109.47 1451.33h9.09v9.27h-9.09zM1354.87 1451.33h9.09v9.27h-9.09zM545.96 1460.6h9.08v9.27h-9.08zM864.07 1460.6h9.09v9.27h-9.09zM918.6 1460.6h36.36v9.27h-36.36zM991.31 1460.6h18.18v9.27h-18.18zM1045.84 1460.6h9.09v9.27h-9.09zM1091.29 1460.6h9.09v9.27h-9.09zM1136.73 1460.6h9.09v9.27h-9.09zM1200.36 1460.6h9.08v9.27h-9.08zM1236.71 1460.6h9.09v9.27h-9.09zM1327.6 1460.6h27.27v9.27h-27.27zM1382.13 1460.6h9.09v9.27h-9.09zM1491.2 1460.6h9.09v9.27h-9.09zM1536.64 1460.6h9.09v9.27h-9.09zM891.33 1469.87h9.09v9.26h-9.09zM954.96 1469.87h9.08v9.26h-9.08zM1009.49 1469.87h9.09v9.26h-9.09zM1027.67 1469.87h18.17v9.26h-18.17zM891.33 1479.13h9.09v9.27h-9.09zM1009.49 1479.13h9.09v9.27h-9.09zM1027.67 1479.13h18.17v9.27h-18.17zM1109.47 1479.13h9.09v9.27h-9.09zM891.33 1488.4h9.09v9.27h-9.09zM1009.49 1488.4h9.09v9.27h-9.09zM1027.67 1488.4h18.17v9.27h-18.17zM1354.87 1488.4h9.09v9.27h-9.09zM1554.82 1488.4h9.09v9.27h-9.09zM436.89 1497.67h9.09v9.26h-9.09zM509.6 1497.67h9.09v9.26h-9.09zM954.96 1497.67h9.08v9.26h-9.08zM1027.67 1497.67h18.17v9.26h-18.17zM1082.2 1497.67h9.09v9.26h-9.09zM1409.4 1497.67h9.09v9.26h-9.09zM1463.93 1497.67h18.18v9.26h-18.18zM1536.64 1497.67h9.09v9.26h-9.09zM509.6 1506.93h9.09v9.27h-9.09zM536.87 1506.93h9.09v9.27h-9.09zM854.98 1506.93h18.18v9.27h-18.18zM891.33 1506.93h9.09v9.27h-9.09zM936.78 1506.93h9.09v9.27h-9.09zM954.96 1506.93h18.17v9.27h-18.17zM1045.84 1506.93h9.09v9.27h-9.09zM1064.02 1506.93h9.09v9.27h-9.09zM1091.29 1506.93h27.27v9.27h-27.27zM1127.64 1506.93h36.36v9.27h-36.36zM1182.18 1506.93h9.09v9.27h-9.09zM1200.36 1506.93h18.17v9.27h-18.17zM1227.62 1506.93h18.18v9.27h-18.18zM1263.98 1506.93h9.09v9.27h-9.09zM1291.24 1506.93h9.09v9.27h-9.09zM1482.11 1506.93h9.09v9.27h-9.09zM864.07 1516.2h9.09v9.27h-9.09zM1100.38 1516.2h9.09v9.27h-9.09zM1154.91 1516.2h9.09v9.27h-9.09zM1173.09 1516.2h45.44v9.27h-45.44zM1227.62 1516.2h9.09v9.27h-9.09zM1245.8 1516.2h9.09v9.27h-9.09zM1291.24 1516.2h9.09v9.27h-9.09zM1309.42 1516.2h27.27v9.27h-27.27zM1391.22 1516.2h9.09v9.27h-9.09zM1436.67 1516.2h18.17v9.27h-18.17zM1482.11 1516.2h9.09v9.27h-9.09zM1500.29 1516.2h18.18v9.27h-18.18zM1536.64 1516.2h9.09v9.27h-9.09zM891.33 1525.47h9.09v9.26h-9.09zM1009.49 1525.47h9.09v9.26h-9.09zM1109.47 1525.47h9.09v9.26h-9.09zM864.07 1534.73h9.09v9.27h-9.09zM936.78 1534.73h9.09v9.27h-9.09zM954.96 1534.73h9.08v9.27h-9.08zM1045.84 1534.73h9.09v9.27h-9.09zM1064.02 1534.73h9.09v9.27h-9.09zM1100.38 1534.73h18.18v9.27h-18.18zM1145.82 1534.73h18.18v9.27h-18.18zM1173.09 1534.73h18.18v9.27h-18.18zM1200.36 1534.73h18.17v9.27h-18.17zM1227.62 1534.73h9.09v9.27h-9.09zM1263.98 1534.73h18.18v9.27h-18.18zM1291.24 1534.73h9.09v9.27h-9.09zM1473.02 1534.73h9.09v9.27h-9.09zM364.18 1544h9.09v9.27h-9.09zM854.98 1544h9.09v9.27h-9.09zM1018.58 1544h9.09v9.27h-9.09zM1082.2 1544h9.09v9.27h-9.09zM1109.47 1544h9.09v9.27h-9.09zM1409.4 1544h9.09v9.27h-9.09zM1027.67 1553.27h18.17v9.26h-18.17zM1109.47 1553.27h9.09v9.26h-9.09zM1409.4 1553.27h9.09v9.26h-9.09zM391.44 1562.53h9.09v9.27h-9.09zM545.96 1562.53h9.08v9.27h-9.08zM791.36 1562.53h9.08v9.27h-9.08zM991.31 1562.53h9.09v9.27h-9.09zM1009.49 1562.53h9.09v9.27h-9.09zM1127.64 1562.53h9.09v9.27h-9.09zM1227.62 1562.53h9.09v9.27h-9.09zM1273.07 1562.53h18.17v9.27h-18.17zM1300.33 1562.53h9.09v9.27h-9.09zM1536.64 1562.53h9.09v9.27h-9.09zM427.8 1571.8h9.09v9.27h-9.09zM491.42 1571.8h9.09v9.27h-9.09zM536.87 1571.8h9.09v9.27h-9.09zM964.04 1571.8h9.09v9.27h-9.09zM1009.49 1571.8h9.09v9.27h-9.09zM1218.53 1571.8h9.09v9.27h-9.09zM1245.8 1571.8h9.09v9.27h-9.09zM1391.22 1571.8h9.09v9.27h-9.09zM391.44 1581.07h9.09v9.26h-9.09zM445.98 1581.07h9.09v9.26h-9.09zM491.42 1581.07h9.09v9.26h-9.09zM545.96 1581.07h9.08v9.26h-9.08zM864.07 1581.07h9.09v9.26h-9.09zM1045.84 1581.07h9.09v9.26h-9.09zM1064.02 1581.07h9.09v9.26h-9.09zM1100.38 1581.07h9.09v9.26h-9.09zM1191.27 1581.07h9.09v9.26h-9.09zM1218.53 1581.07h9.09v9.26h-9.09zM1245.8 1581.07h18.18v9.26h-18.18zM1318.51 1581.07h9.09v9.26h-9.09zM1391.22 1581.07h9.09v9.26h-9.09zM1427.58 1581.07h9.09v9.26h-9.09zM1482.11 1581.07h9.09v9.26h-9.09zM391.44 1590.33h9.09v9.27h-9.09zM891.33 1590.33h9.09v9.27h-9.09zM1009.49 1590.33h9.09v9.27h-9.09zM1027.67 1590.33h18.17v9.27h-18.17zM1109.47 1590.33h9.09v9.27h-9.09zM1400.31 1590.33h18.18v9.27h-18.18zM1473.02 1590.33h9.09v9.27h-9.09zM1554.82 1590.33h9.09v9.27h-9.09zM891.33 1599.6h9.09v9.27h-9.09zM1109.47 1599.6h9.09v9.27h-9.09zM1354.87 1599.6h9.09v9.27h-9.09zM1018.58 1608.87h9.09v9.26h-9.09zM1409.4 1608.87h9.09v9.26h-9.09zM491.42 1618.13h9.09v9.27h-9.09zM1018.58 1618.13h9.09v9.27h-9.09zM1409.4 1618.13h9.09v9.27h-9.09zM436.89 1627.4h9.09v9.27h-9.09zM854.98 1627.4h9.09v9.27h-9.09zM1100.38 1627.4h18.18v9.27h-18.18zM1154.91 1627.4h9.09v9.27h-9.09zM1254.89 1627.4h9.09v9.27h-9.09zM1318.51 1627.4h9.09v9.27h-9.09zM509.6 1636.67h9.09v9.26h-9.09zM536.87 1636.67h9.09v9.26h-9.09zM964.04 1636.67h9.09v9.26h-9.09zM1109.47 1636.67h9.09v9.26h-9.09zM864.07 1645.93h9.09v9.27h-9.09zM1064.02 1645.93h9.09v9.27h-9.09zM1100.38 1645.93h9.09v9.27h-9.09zM1154.91 1645.93h9.09v9.27h-9.09zM1191.27 1645.93h9.09v9.27h-9.09zM1227.62 1645.93h9.09v9.27h-9.09zM1245.8 1645.93h9.09v9.27h-9.09zM1354.87 1645.93h9.09v9.27h-9.09zM1391.22 1645.93h9.09v9.27h-9.09zM1409.4 1645.93h9.09v9.27h-9.09zM1454.84 1645.93h9.09v9.27h-9.09zM445.98 1655.2h9.09v9.27h-9.09zM491.42 1655.2h9.09v9.27h-9.09zM891.33 1655.2h9.09v9.27h-9.09zM1109.47 1655.2h9.09v9.27h-9.09zM364.18 1664.47h9.09v9.26h-9.09zM391.44 1664.47h9.09v9.26h-9.09zM445.98 1664.47h9.09v9.26h-9.09zM954.96 1664.47h9.08v9.26h-9.08zM991.31 1664.47h9.09v9.26h-9.09zM1064.02 1664.47h9.09v9.26h-9.09zM1082.2 1664.47h9.09v9.26h-9.09zM1145.82 1664.47h18.18v9.26h-18.18zM1209.44 1664.47h9.09v9.26h-9.09zM1227.62 1664.47h9.09v9.26h-9.09zM1254.89 1664.47h9.09v9.26h-9.09zM1273.07 1664.47h9.09v9.26h-9.09zM1382.13 1664.47h9.09v9.26h-9.09zM1482.11 1664.47h9.09v9.26h-9.09zM1563.91 1664.47h9.09v9.26h-9.09zM1191.27 1673.73h9.09v9.27h-9.09zM1554.82 1673.73h9.09v9.27h-9.09z"/>
<path fill="#9b9eff" d="M445.98 432h9.09v9.27h-9.09zM673.2 432h9.09v9.27h-9.09zM373.27 441.27h9.09v9.26h-9.09zM509.6 441.27h9.09v9.26h-9.09zM673.2 441.27h9.09v9.26h-9.09zM509.6 450.53h9.09v9.27h-9.09zM355.09 459.8h9.09v9.27h-9.09zM527.78 459.8h9.09v9.27h-9.09zM582.31 459.8h18.18v9.27h-18.18zM727.73 459.8h9.09v9.27h-9.09zM918.6 478.33h9.09v9.27h-9.09zM945.87 478.33h9.09v9.27h-9.09zM1073.11 478.33h9.09v9.27h-9.09zM1109.47 478.33h9.09v9.27h-9.09zM1191.27 478.33h9.09v9.27h-9.09zM1254.89 478.33h9.09v9.27h-9.09zM1527.56 478.33h9.08v9.27h-9.08zM1036.76 487.6h9.08v9.27h-9.08zM673.2 496.87h9.09v9.26h-9.09zM673.2 506.13h9.09v9.27h-9.09zM673.2 515.4h9.09v9.27h-9.09zM891.33 524.67h9.09v9.26h-9.09zM1091.29 524.67h9.09v9.26h-9.09zM1436.67 524.67h9.09v9.26h-9.09zM346 533.93h9.09v9.27h-9.09zM455.07 533.93h9.09v9.27h-9.09zM518.69 533.93h9.09v9.27h-9.09zM555.04 533.93h9.09v9.27h-9.09zM573.22 533.93h9.09v9.27h-9.09zM727.73 533.93h9.09v9.27h-9.09zM918.6 533.93h9.09v9.27h-9.09zM945.87 533.93h9.09v9.27h-9.09zM1073.11 533.93h9.09v9.27h-9.09zM1245.8 533.93h9.09v9.27h-9.09zM1318.51 533.93h9.09v9.27h-9.09zM1418.49 533.93h9.09v9.27h-9.09zM1454.84 533.93h9.09v9.27h-9.09zM1500.29 533.93h18.18v9.27h-18.18zM1527.56 533.93h9.08v9.27h-9.08zM445.98 543.2h9.09v9.27h-9.09zM491.42 543.2h9.09v9.27h-9.09zM518.69 543.2h18.18v9.27h-18.18zM555.04 543.2h9.09v9.27h-9.09zM573.22 543.2h9.09v9.27h-9.09zM682.29 543.2h9.09v9.27h-9.09zM618.67 552.47h9.09v9.26h-9.09zM673.2 552.47h9.09v9.26h-9.09zM491.42 561.73h9.09v9.27h-9.09zM1036.76 561.73h9.08v9.27h-9.08zM673.2 571h9.09v9.27h-9.09zM455.07 580.27h9.09v9.26h-9.09zM473.24 580.27h9.09v9.26h-9.09zM1436.67 580.27h9.09v9.26h-9.09zM1454.84 580.27h9.09v9.26h-9.09zM1491.2 580.27h9.09v9.26h-9.09zM1527.56 580.27h9.08v9.26h-9.08zM1554.82 580.27h9.09v9.26h-9.09zM573.22 589.53h9.09v9.27h-9.09zM355.09 598.8h18.18v9.27h-18.18zM882.24 598.8h9.09v9.27h-9.09zM918.6 598.8h9.09v9.27h-9.09zM1045.84 598.8h18.18v9.27h-18.18zM1073.11 598.8h9.09v9.27h-9.09zM1518.47 598.8h9.09v9.27h-9.09zM445.98 608.07h18.18v9.26h-18.18zM673.2 608.07h9.09v9.26h-9.09zM373.27 617.33h9.09v9.27h-9.09zM455.07 617.33h9.09v9.27h-9.09zM673.2 617.33h9.09v9.27h-9.09zM918.6 626.6h9.09v9.27h-9.09zM936.78 626.6h9.09v9.27h-9.09zM954.96 626.6h9.08v9.27h-9.08zM1182.18 626.6h9.09v9.27h-9.09zM1200.36 626.6h9.08v9.27h-9.08zM1345.78 626.6h9.09v9.27h-9.09zM1391.22 626.6h9.09v9.27h-9.09zM1518.47 626.6h9.09v9.27h-9.09zM954.96 635.87h9.08v9.26h-9.08zM1154.91 635.87h9.09v9.26h-9.09zM1318.51 635.87h9.09v9.26h-9.09zM1418.49 635.87h9.09v9.26h-9.09zM1436.67 635.87h18.17v9.26h-18.17zM1500.29 635.87h9.09v9.26h-9.09zM1527.56 635.87h9.08v9.26h-9.08zM445.98 645.13h18.18v9.27h-18.18zM673.2 645.13h9.09v9.27h-9.09zM1054.93 654.4h9.09v9.27h-9.09zM445.98 663.67h18.18v9.26h-18.18zM500.51 663.67h9.09v9.26h-9.09zM673.2 663.67h9.09v9.26h-9.09zM373.27 672.93h9.09v9.27h-9.09zM682.29 672.93h9.09v9.27h-9.09zM736.82 672.93h9.09v9.27h-9.09zM373.27 682.2h9.09v9.27h-9.09zM600.49 682.2h9.09v9.27h-9.09zM618.67 682.2h9.09v9.27h-9.09zM709.56 682.2h9.08v9.27h-9.08zM755 682.2h9.09v9.27h-9.09zM591.4 691.47h9.09v9.26h-9.09zM645.93 691.47h9.09v9.26h-9.09zM764.09 691.47h9.09v9.26h-9.09zM691.38 700.73h9.09v9.27h-9.09zM464.16 710h9.08v9.27h-9.08zM591.4 710h9.09v9.27h-9.09zM636.84 710h9.09v9.27h-9.09zM736.82 710h9.09v9.27h-9.09zM764.09 719.27h9.09v9.26h-9.09zM618.67 728.53h9.09v9.27h-9.09zM709.56 728.53h9.08v9.27h-9.08zM773.18 728.53h9.09v9.27h-9.09zM600.49 737.8h9.09v9.27h-9.09zM682.29 737.8h9.09v9.27h-9.09zM346 765.6h18.18v9.27h-18.18zM409.62 765.6h27.27v9.27h-27.27zM464.16 765.6h9.08v9.27h-9.08zM482.33 765.6h9.09v9.27h-9.09zM518.69 765.6h18.18v9.27h-18.18zM555.04 765.6h9.09v9.27h-9.09zM573.22 765.6h9.09v9.27h-9.09zM709.56 765.6h9.08v9.27h-9.08zM736.82 765.6h9.09v9.27h-9.09zM882.24 765.6h9.09v9.27h-9.09zM455.07 774.87h9.09v9.26h-9.09zM582.31 774.87h9.09v9.26h-9.09zM645.93 774.87h9.09v9.26h-9.09zM709.56 774.87h9.08v9.26h-9.08zM791.36 774.87h18.17v9.26h-18.17zM1054.93 774.87h9.09v9.26h-9.09zM609.58 784.13h9.09v9.27h-9.09zM718.64 784.13h9.09v9.27h-9.09zM591.4 802.67h9.09v9.26h-9.09zM636.84 802.67h9.09v9.26h-9.09zM673.2 802.67h18.18v9.26h-18.18zM691.38 811.93h9.09v9.27h-9.09zM773.18 811.93h9.09v9.27h-9.09zM373.27 821.2h9.09v9.27h-9.09zM445.98 821.2h9.09v9.27h-9.09zM582.31 830.47h9.09v9.26h-9.09zM618.67 830.47h9.09v9.26h-9.09zM673.2 830.47h9.09v9.26h-9.09zM773.18 830.47h9.09v9.26h-9.09zM755 839.73h9.09v9.27h-9.09zM773.18 839.73h9.09v9.27h-9.09zM591.4 849h9.09v9.27h-9.09zM745.91 849h9.09v9.27h-9.09zM600.49 858.27h9.09v9.26h-9.09zM627.76 858.27h9.08v9.26h-9.08zM636.84 867.53h9.09v9.27h-9.09zM718.64 867.53h9.09v9.27h-9.09zM736.82 867.53h18.18v9.27h-18.18zM909.51 876.8h9.09v9.27h-9.09zM682.29 886.07h9.09v9.26h-9.09zM991.31 886.07h9.09v9.26h-9.09zM1073.11 886.07h9.09v9.26h-9.09zM1218.53 886.07h9.09v9.26h-9.09zM1263.98 886.07h9.09v9.26h-9.09zM1418.49 886.07h9.09v9.26h-9.09zM1436.67 886.07h9.09v9.26h-9.09zM1491.2 886.07h9.09v9.26h-9.09zM1527.56 886.07h9.08v9.26h-9.08zM1545.73 886.07h9.09v9.26h-9.09zM682.29 895.33h9.09v9.27h-9.09zM927.69 941.67h9.09v9.26h-9.09zM954.96 941.67h9.08v9.26h-9.08zM1082.2 941.67h9.09v9.26h-9.09zM927.69 950.93h9.09v9.27h-9.09zM1045.84 950.93h9.09v9.27h-9.09zM1082.2 950.93h9.09v9.27h-9.09zM1218.53 950.93h9.09v9.27h-9.09zM1300.33 950.93h9.09v9.27h-9.09zM1554.82 950.93h9.09v9.27h-9.09zM1018.58 960.2h9.09v9.27h-9.09zM1454.84 960.2h9.09v9.27h-9.09zM1554.82 960.2h9.09v9.27h-9.09zM1036.76 969.47h9.08v9.26h-9.08zM509.6 978.73h9.09v9.27h-9.09zM673.2 978.73h9.09v9.27h-9.09zM436.89 988h9.09v9.27h-9.09zM945.87 988h9.09v9.27h-9.09zM982.22 988h9.09v9.27h-9.09zM1000.4 988h9.09v9.27h-9.09zM1054.93 988h9.09v9.27h-9.09zM1073.11 988h9.09v9.27h-9.09zM1100.38 988h9.09v9.27h-9.09zM1118.56 988h9.08v9.27h-9.08zM1136.73 988h18.18v9.27h-18.18zM1173.09 988h18.18v9.27h-18.18zM1200.36 988h9.08v9.27h-9.08zM1336.69 988h18.18v9.27h-18.18zM1391.22 988h9.09v9.27h-9.09zM1445.76 988h9.08v9.27h-9.08zM1500.29 988h36.35v9.27h-36.35zM1045.84 997.27h9.09v9.26h-9.09zM782.27 1006.53h9.09v9.27h-9.09zM927.69 1006.53h9.09v9.27h-9.09zM954.96 1006.53h9.08v9.27h-9.08zM1027.67 1006.53h9.09v9.27h-9.09zM1045.84 1006.53h9.09v9.27h-9.09zM1082.2 1006.53h9.09v9.27h-9.09zM1118.56 1006.53h9.08v9.27h-9.08zM391.44 1015.8h9.09v9.27h-9.09zM445.98 1015.8h9.09v9.27h-9.09zM509.6 1015.8h9.09v9.27h-9.09zM536.87 1015.8h9.09v9.27h-9.09zM964.04 1015.8h18.18v9.27h-18.18zM1018.58 1015.8h9.09v9.27h-9.09zM1082.2 1015.8h9.09v9.27h-9.09zM1473.02 1015.8h9.09v9.27h-9.09zM845.89 1025.07h18.18v9.26h-18.18zM909.51 1025.07h9.09v9.26h-9.09zM954.96 1025.07h9.08v9.26h-9.08zM973.13 1025.07h9.09v9.26h-9.09zM1073.11 1025.07h9.09v9.26h-9.09zM536.87 1034.33h9.09v9.27h-9.09zM954.96 1034.33h9.08v9.27h-9.08zM1054.93 1034.33h9.09v9.27h-9.09zM1454.84 1034.33h9.09v9.27h-9.09zM391.44 1043.6h9.09v9.27h-9.09zM445.98 1043.6h9.09v9.27h-9.09zM891.33 1043.6h9.09v9.27h-9.09zM954.96 1043.6h9.08v9.27h-9.08zM1009.49 1043.6h18.18v9.27h-18.18zM1109.47 1043.6h9.09v9.27h-9.09zM1473.02 1043.6h9.09v9.27h-9.09zM536.87 1052.87h18.17v9.26h-18.17zM845.89 1052.87h9.09v9.26h-9.09zM909.51 1052.87h9.09v9.26h-9.09zM927.69 1052.87h27.27v9.26h-27.27zM964.04 1052.87h18.18v9.26h-18.18zM1009.49 1052.87h9.09v9.26h-9.09zM1045.84 1052.87h9.09v9.26h-9.09zM1064.02 1052.87h9.09v9.26h-9.09zM1127.64 1052.87h9.09v9.26h-9.09zM1191.27 1052.87h9.09v9.26h-9.09zM1218.53 1052.87h9.09v9.26h-9.09zM1245.8 1052.87h9.09v9.26h-9.09zM1318.51 1052.87h9.09v9.26h-9.09zM1345.78 1052.87h9.09v9.26h-9.09zM1373.04 1052.87h9.09v9.26h-9.09zM1491.2 1052.87h9.09v9.26h-9.09zM1509.38 1052.87h27.26v9.26h-27.26zM1563.91 1052.87h9.09v9.26h-9.09zM918.6 1062.13h9.09v9.27h-9.09zM954.96 1062.13h9.08v9.27h-9.08zM1045.84 1062.13h9.09v9.27h-9.09zM1082.2 1062.13h9.09v9.27h-9.09zM1182.18 1062.13h9.09v9.27h-9.09zM1200.36 1062.13h9.08v9.27h-9.08zM1345.78 1062.13h9.09v9.27h-9.09zM1391.22 1062.13h9.09v9.27h-9.09zM1518.47 1062.13h9.09v9.27h-9.09zM918.6 1071.4h18.18v9.27h-18.18zM954.96 1071.4h9.08v9.27h-9.08zM1082.2 1071.4h9.09v9.27h-9.09zM891.33 1080.67h9.09v9.26h-9.09zM1009.49 1080.67h18.18v9.26h-18.18zM1082.2 1080.67h9.09v9.26h-9.09zM1109.47 1080.67h9.09v9.26h-9.09zM1300.33 1080.67h9.09v9.26h-9.09zM1354.87 1080.67h9.09v9.26h-9.09zM1454.84 1080.67h9.09v9.26h-9.09zM1554.82 1080.67h9.09v9.26h-9.09zM791.36 1089.93h9.08v9.27h-9.08zM1127.64 1089.93h9.09v9.27h-9.09zM1418.49 1089.93h9.09v9.27h-9.09zM1436.67 1089.93h9.09v9.27h-9.09zM1491.2 1089.93h9.09v9.27h-9.09zM1527.56 1089.93h9.08v9.27h-9.08zM1545.73 1089.93h9.09v9.27h-9.09zM891.33 1099.2h9.09v9.27h-9.09zM1009.49 1099.2h9.09v9.27h-9.09zM1027.67 1099.2h9.09v9.27h-9.09zM1082.2 1099.2h9.09v9.27h-9.09zM1454.84 1099.2h9.09v9.27h-9.09zM1554.82 1099.2h9.09v9.27h-9.09zM945.87 1108.47h18.17v9.26h-18.17zM982.22 1108.47h9.09v9.26h-9.09zM1000.4 1108.47h9.09v9.26h-9.09zM1073.11 1108.47h9.09v9.26h-9.09zM1100.38 1108.47h9.09v9.26h-9.09zM1136.73 1108.47h9.09v9.26h-9.09zM1164 1108.47h18.18v9.26h-18.18zM1191.27 1108.47h9.09v9.26h-9.09zM1227.62 1108.47h9.09v9.26h-9.09zM1336.69 1108.47h9.09v9.26h-9.09zM1400.31 1108.47h9.09v9.26h-9.09zM1445.76 1108.47h9.08v9.26h-9.08zM1491.2 1108.47h27.27v9.26h-27.27zM1527.56 1108.47h9.08v9.26h-9.08zM1545.73 1108.47h9.09v9.26h-9.09zM864.07 1117.73h9.09v9.27h-9.09zM918.6 1117.73h9.09v9.27h-9.09zM945.87 1117.73h9.09v9.27h-9.09zM982.22 1117.73h9.09v9.27h-9.09zM1127.64 1117.73h18.18v9.27h-18.18zM1154.91 1117.73h63.62v9.27h-63.62zM1227.62 1117.73h27.27v9.27h-27.27zM1263.98 1117.73h36.35v9.27h-36.35zM1309.42 1117.73h45.45v9.27h-45.45zM1363.96 1117.73h36.35v9.27h-36.35zM1445.76 1117.73h9.08v9.27h-9.08zM1482.11 1117.73h9.09v9.27h-9.09zM909.51 1127h9.09v9.27h-9.09zM1000.4 1127h9.09v9.27h-9.09zM1064.02 1127h18.18v9.27h-18.18zM1145.82 1127h9.09v9.27h-9.09zM400.53 1136.27h9.09v9.26h-9.09zM473.24 1136.27h9.09v9.26h-9.09zM873.16 1136.27h9.08v9.26h-9.08zM1045.84 1136.27h9.09v9.26h-9.09zM509.6 1145.53h9.09v9.27h-9.09zM854.98 1145.53h9.09v9.27h-9.09zM900.42 1145.53h18.18v9.27h-18.18zM954.96 1145.53h18.17v9.27h-18.17zM1036.76 1145.53h9.08v9.27h-9.08zM1054.93 1145.53h9.09v9.27h-9.09zM1109.47 1145.53h9.09v9.27h-9.09zM1454.84 1145.53h9.09v9.27h-9.09zM509.6 1154.8h9.09v9.27h-9.09zM564.13 1154.8h9.09v9.27h-9.09zM682.29 1154.8h9.09v9.27h-9.09zM891.33 1154.8h9.09v9.27h-9.09zM936.78 1154.8h9.09v9.27h-9.09zM1045.84 1154.8h9.09v9.27h-9.09zM954.96 1164.07h9.08v9.26h-9.08zM1027.67 1164.07h9.09v9.26h-9.09zM1082.2 1164.07h9.09v9.26h-9.09zM1300.33 1164.07h9.09v9.26h-9.09zM1354.87 1164.07h9.09v9.26h-9.09zM1454.84 1164.07h9.09v9.26h-9.09zM391.44 1173.33h9.09v9.27h-9.09zM445.98 1173.33h9.09v9.27h-9.09zM509.6 1173.33h9.09v9.27h-9.09zM791.36 1173.33h9.08v9.27h-9.08zM891.33 1173.33h9.09v9.27h-9.09zM927.69 1173.33h9.09v9.27h-9.09zM1009.49 1173.33h9.09v9.27h-9.09zM1027.67 1173.33h9.09v9.27h-9.09zM1082.2 1173.33h9.09v9.27h-9.09zM1473.02 1173.33h9.09v9.27h-9.09zM845.89 1182.6h18.18v9.27h-18.18zM909.51 1182.6h18.18v9.27h-18.18zM964.04 1182.6h27.27v9.27h-27.27zM1000.4 1182.6h9.09v9.27h-9.09zM1064.02 1182.6h18.18v9.27h-18.18zM1091.29 1182.6h9.09v9.27h-9.09zM1127.64 1182.6h9.09v9.27h-9.09zM1145.82 1182.6h9.09v9.27h-9.09zM1218.53 1182.6h9.09v9.27h-9.09zM436.89 1191.87h9.09v9.26h-9.09zM1082.2 1191.87h9.09v9.26h-9.09zM1109.47 1191.87h9.09v9.26h-9.09zM1454.84 1191.87h9.09v9.26h-9.09zM891.33 1201.13h9.09v9.27h-9.09zM1009.49 1201.13h9.09v9.27h-9.09zM1354.87 1201.13h9.09v9.27h-9.09zM1554.82 1201.13h9.09v9.27h-9.09zM391.44 1210.4h9.09v9.27h-9.09zM945.87 1210.4h9.09v9.27h-9.09zM982.22 1210.4h9.09v9.27h-9.09zM1045.84 1210.4h9.09v9.27h-9.09zM1091.29 1210.4h9.09v9.27h-9.09zM1145.82 1210.4h9.09v9.27h-9.09zM1227.62 1210.4h9.09v9.27h-9.09zM1254.89 1210.4h9.09v9.27h-9.09zM1318.51 1210.4h9.09v9.27h-9.09zM1336.69 1210.4h9.09v9.27h-9.09zM1354.87 1210.4h9.09v9.27h-9.09zM1500.29 1210.4h18.18v9.27h-18.18zM1536.64 1210.4h9.09v9.27h-9.09zM1563.91 1210.4h9.09v9.27h-9.09zM891.33 1219.67h9.09v9.26h-9.09zM909.51 1219.67h9.09v9.26h-9.09zM954.96 1228.93h9.08v9.27h-9.08zM991.31 1228.93h9.09v9.27h-9.09zM1018.58 1228.93h9.09v9.27h-9.09zM1082.2 1228.93h9.09v9.27h-9.09zM1254.89 1228.93h9.09v9.27h-9.09zM1273.07 1228.93h18.17v9.27h-18.17zM1418.49 1228.93h9.09v9.27h-9.09zM1491.2 1228.93h9.09v9.27h-9.09zM1518.47 1228.93h9.09v9.27h-9.09zM891.33 1238.2h9.09v9.27h-9.09zM1009.49 1238.2h18.18v9.27h-18.18zM1454.84 1238.2h9.09v9.27h-9.09zM891.33 1247.47h9.09v9.26h-9.09zM1027.67 1247.47h9.09v9.26h-9.09zM1082.2 1247.47h9.09v9.26h-9.09zM1109.47 1247.47h9.09v9.26h-9.09zM1300.33 1247.47h9.09v9.26h-9.09zM1354.87 1247.47h9.09v9.26h-9.09zM1454.84 1247.47h9.09v9.26h-9.09zM545.96 1256.73h9.08v9.27h-9.08zM1018.58 1256.73h9.09v9.27h-9.09zM1300.33 1256.73h9.09v9.27h-9.09zM1354.87 1256.73h9.09v9.27h-9.09zM1454.84 1256.73h9.09v9.27h-9.09zM1009.49 1266h18.18v9.27h-18.18zM1300.33 1266h9.09v9.27h-9.09zM1454.84 1266h9.09v9.27h-9.09zM1554.82 1266h9.09v9.27h-9.09zM891.33 1275.27h9.09v9.26h-9.09zM1009.49 1275.27h18.18v9.26h-18.18zM1454.84 1275.27h9.09v9.26h-9.09zM1554.82 1275.27h9.09v9.26h-9.09zM536.87 1284.53h9.09v9.27h-9.09zM891.33 1284.53h9.09v9.27h-9.09zM964.04 1284.53h9.09v9.27h-9.09zM1018.58 1284.53h9.09v9.27h-9.09zM1354.87 1284.53h9.09v9.27h-9.09zM1454.84 1284.53h9.09v9.27h-9.09zM391.44 1293.8h9.09v9.27h-9.09zM954.96 1293.8h9.08v9.27h-9.08zM1009.49 1293.8h18.18v9.27h-18.18zM1300.33 1293.8h9.09v9.27h-9.09zM1427.58 1293.8h9.09v9.27h-9.09zM1463.93 1293.8h9.09v9.27h-9.09zM1518.47 1293.8h9.09v9.27h-9.09zM1554.82 1293.8h9.09v9.27h-9.09zM536.87 1303.07h9.09v9.26h-9.09zM891.33 1303.07h9.09v9.26h-9.09zM964.04 1303.07h9.09v9.26h-9.09zM1018.58 1303.07h9.09v9.26h-9.09zM1454.84 1303.07h9.09v9.26h-9.09zM1018.58 1312.33h9.09v9.27h-9.09zM1300.33 1312.33h9.09v9.27h-9.09zM1354.87 1312.33h9.09v9.27h-9.09zM1454.84 1312.33h9.09v9.27h-9.09zM791.36 1321.6h9.08v9.27h-9.08zM854.98 1321.6h9.09v9.27h-9.09zM954.96 1321.6h9.08v9.27h-9.08zM1082.2 1321.6h9.09v9.27h-9.09zM1400.31 1321.6h9.09v9.27h-9.09zM1454.84 1321.6h9.09v9.27h-9.09zM1518.47 1321.6h9.09v9.27h-9.09zM1009.49 1330.87h18.18v9.26h-18.18zM1109.47 1330.87h9.09v9.26h-9.09zM1300.33 1330.87h9.09v9.26h-9.09zM1018.58 1340.13h9.09v9.27h-9.09zM1454.84 1340.13h9.09v9.27h-9.09zM1554.82 1340.13h9.09v9.27h-9.09zM445.98 1349.4h9.09v9.27h-9.09zM954.96 1349.4h9.08v9.27h-9.08zM1018.58 1349.4h9.09v9.27h-9.09zM1300.33 1349.4h9.09v9.27h-9.09zM1354.87 1349.4h9.09v9.27h-9.09zM1400.31 1349.4h9.09v9.27h-9.09zM1427.58 1349.4h9.09v9.27h-9.09zM1554.82 1349.4h18.18v9.27h-18.18zM391.44 1358.67h9.09v9.26h-9.09zM1109.47 1358.67h9.09v9.26h-9.09zM1127.64 1358.67h9.09v9.26h-9.09zM1354.87 1358.67h9.09v9.26h-9.09zM1454.84 1358.67h9.09v9.26h-9.09zM791.36 1367.93h9.08v9.27h-9.08zM1018.58 1367.93h9.09v9.27h-9.09zM1354.87 1367.93h9.09v9.27h-9.09zM1454.84 1367.93h9.09v9.27h-9.09zM1554.82 1367.93h9.09v9.27h-9.09zM1018.58 1377.2h9.09v9.27h-9.09zM1127.64 1377.2h9.09v9.27h-9.09zM1354.87 1377.2h9.09v9.27h-9.09zM1527.56 1377.2h9.08v9.27h-9.08zM1018.58 1386.47h9.09v9.26h-9.09zM1127.64 1386.47h9.09v9.26h-9.09zM1354.87 1386.47h9.09v9.26h-9.09zM1018.58 1395.73h9.09v9.27h-9.09zM1300.33 1395.73h9.09v9.27h-9.09zM1354.87 1395.73h9.09v9.27h-9.09zM1454.84 1395.73h9.09v9.27h-9.09zM1554.82 1395.73h9.09v9.27h-9.09zM854.98 1405h9.09v9.27h-9.09zM982.22 1405h9.09v9.27h-9.09zM1064.02 1405h9.09v9.27h-9.09zM1145.82 1405h27.27v9.27h-27.27zM1191.27 1405h9.09v9.27h-9.09zM1209.44 1405h9.09v9.27h-9.09zM1227.62 1405h9.09v9.27h-9.09zM1245.8 1405h9.09v9.27h-9.09zM1291.24 1405h9.09v9.27h-9.09zM1309.42 1405h18.18v9.27h-18.18zM1363.96 1405h9.08v9.27h-9.08zM1382.13 1405h9.09v9.27h-9.09zM1400.31 1405h9.09v9.27h-9.09zM1418.49 1405h9.09v9.27h-9.09zM1445.76 1405h9.08v9.27h-9.08zM1482.11 1405h54.53v9.27h-54.53zM1545.73 1405h9.09v9.27h-9.09zM1018.58 1414.27h9.09v9.26h-9.09zM1300.33 1414.27h9.09v9.26h-9.09zM1354.87 1414.27h9.09v9.26h-9.09zM1454.84 1414.27h9.09v9.26h-9.09zM1554.82 1414.27h9.09v9.26h-9.09zM445.98 1423.53h9.09v9.27h-9.09zM545.96 1423.53h9.08v9.27h-9.08zM954.96 1423.53h9.08v9.27h-9.08zM1018.58 1423.53h9.09v9.27h-9.09zM1109.47 1423.53h9.09v9.27h-9.09zM1300.33 1423.53h9.09v9.27h-9.09zM1354.87 1423.53h9.09v9.27h-9.09zM1454.84 1423.53h9.09v9.27h-9.09zM1554.82 1423.53h9.09v9.27h-9.09zM1018.58 1432.8h9.09v9.27h-9.09zM1454.84 1432.8h9.09v9.27h-9.09zM1554.82 1432.8h9.09v9.27h-9.09zM891.33 1442.07h9.09v9.26h-9.09zM1009.49 1442.07h18.18v9.26h-18.18zM1109.47 1442.07h9.09v9.26h-9.09zM1454.84 1442.07h9.09v9.26h-9.09zM1491.2 1442.07h9.09v9.26h-9.09zM1527.56 1442.07h9.08v9.26h-9.08zM1554.82 1442.07h9.09v9.26h-9.09zM536.87 1451.33h9.09v9.27h-9.09zM891.33 1451.33h9.09v9.27h-9.09zM954.96 1451.33h18.17v9.27h-18.17zM1018.58 1451.33h9.09v9.27h-9.09zM1454.84 1451.33h9.09v9.27h-9.09zM982.22 1460.6h9.09v9.27h-9.09zM1064.02 1460.6h9.09v9.27h-9.09zM1100.38 1460.6h18.18v9.27h-18.18zM1145.82 1460.6h18.18v9.27h-18.18zM1182.18 1460.6h9.09v9.27h-9.09zM1209.44 1460.6h9.09v9.27h-9.09zM1245.8 1460.6h54.53v9.27h-54.53zM1309.42 1460.6h18.18v9.27h-18.18zM1363.96 1460.6h9.08v9.27h-9.08zM1391.22 1460.6h9.09v9.27h-9.09zM1436.67 1460.6h9.09v9.27h-9.09zM1509.38 1460.6h9.09v9.27h-9.09zM1527.56 1460.6h9.08v9.27h-9.08zM1018.58 1469.87h9.09v9.26h-9.09zM1300.33 1469.87h9.09v9.26h-9.09zM1354.87 1469.87h9.09v9.26h-9.09zM1454.84 1469.87h9.09v9.26h-9.09zM1554.82 1469.87h9.09v9.26h-9.09zM954.96 1479.13h9.08v9.27h-9.08zM1018.58 1479.13h9.09v9.27h-9.09zM1454.84 1479.13h9.09v9.27h-9.09zM1554.82 1479.13h9.09v9.27h-9.09zM1018.58 1488.4h9.09v9.27h-9.09zM1300.33 1488.4h9.09v9.27h-9.09zM1454.84 1488.4h9.09v9.27h-9.09zM536.87 1497.67h9.09v9.26h-9.09zM891.33 1497.67h9.09v9.26h-9.09zM964.04 1497.67h9.09v9.26h-9.09zM1018.58 1497.67h9.09v9.26h-9.09zM1354.87 1497.67h9.09v9.26h-9.09zM1400.31 1497.67h9.09v9.26h-9.09zM1427.58 1497.67h9.09v9.26h-9.09zM1518.47 1497.67h9.09v9.26h-9.09zM1009.49 1506.93h9.09v9.27h-9.09zM1218.53 1506.93h9.09v9.27h-9.09zM1245.8 1506.93h9.09v9.27h-9.09zM1300.33 1506.93h9.09v9.27h-9.09zM1391.22 1506.93h9.09v9.27h-9.09zM1545.73 1516.2h9.09v9.27h-9.09zM445.98 1525.47h9.09v9.26h-9.09zM545.96 1525.47h9.08v9.26h-9.08zM791.36 1525.47h9.08v9.26h-9.08zM991.31 1525.47h9.09v9.26h-9.09zM1127.64 1525.47h9.09v9.26h-9.09zM1300.33 1525.47h9.09v9.26h-9.09zM1554.82 1525.47h9.09v9.26h-9.09zM1191.27 1534.73h9.09v9.27h-9.09zM1245.8 1534.73h9.09v9.27h-9.09zM1391.22 1534.73h9.09v9.27h-9.09zM1454.84 1534.73h9.09v9.27h-9.09zM1482.11 1534.73h9.09v9.27h-9.09zM1554.82 1534.73h9.09v9.27h-9.09zM436.89 1544h9.09v9.27h-9.09zM491.42 1544h9.09v9.27h-9.09zM545.96 1544h9.08v9.27h-9.08zM791.36 1544h9.08v9.27h-9.08zM991.31 1544h9.09v9.27h-9.09zM1354.87 1544h9.09v9.27h-9.09zM1536.64 1544h9.09v9.27h-9.09zM545.96 1553.27h9.08v9.26h-9.08zM891.33 1553.27h9.09v9.26h-9.09zM1009.49 1553.27h18.18v9.26h-18.18zM1300.33 1553.27h9.09v9.26h-9.09zM1463.93 1553.27h18.18v9.26h-18.18zM1563.91 1553.27h9.09v9.26h-9.09zM445.98 1562.53h9.09v9.27h-9.09zM491.42 1562.53h9.09v9.27h-9.09zM864.07 1562.53h9.09v9.27h-9.09zM936.78 1562.53h9.09v9.27h-9.09zM982.22 1562.53h9.09v9.27h-9.09zM1000.4 1562.53h9.09v9.27h-9.09zM1045.84 1562.53h9.09v9.27h-9.09zM1064.02 1562.53h9.09v9.27h-9.09zM1091.29 1562.53h9.09v9.27h-9.09zM1136.73 1562.53h54.54v9.27h-54.54zM1200.36 1562.53h27.26v9.27h-27.26zM1236.71 1562.53h9.09v9.27h-9.09zM1254.89 1562.53h18.18v9.27h-18.18zM1291.24 1562.53h9.09v9.27h-9.09zM1309.42 1562.53h45.45v9.27h-45.45zM1363.96 1562.53h27.26v9.27h-27.26zM1427.58 1562.53h9.09v9.27h-9.09zM1473.02 1562.53h9.09v9.27h-9.09zM1563.91 1562.53h9.09v9.27h-9.09zM1191.27 1571.8h9.09v9.27h-9.09zM1445.76 1571.8h9.08v9.27h-9.08zM1473.02 1571.8h9.09v9.27h-9.09zM1536.64 1571.8h9.09v9.27h-9.09zM918.6 1581.07h9.09v9.26h-9.09zM945.87 1581.07h9.09v9.26h-9.09zM1073.11 1581.07h9.09v9.26h-9.09zM1445.76 1581.07h27.26v9.26h-27.26zM1536.64 1581.07h9.09v9.26h-9.09zM1554.82 1581.07h9.09v9.26h-9.09zM1018.58 1590.33h9.09v9.27h-9.09zM1300.33 1590.33h9.09v9.27h-9.09zM1427.58 1590.33h9.09v9.27h-9.09zM1536.64 1590.33h9.09v9.27h-9.09zM491.42 1599.6h9.09v9.27h-9.09zM791.36 1599.6h9.08v9.27h-9.08zM954.96 1599.6h9.08v9.27h-9.08zM991.31 1599.6h9.09v9.27h-9.09zM1009.49 1599.6h9.09v9.27h-9.09zM1127.64 1599.6h9.09v9.27h-9.09zM1300.33 1599.6h9.09v9.27h-9.09zM1336.69 1599.6h9.09v9.27h-9.09zM445.98 1608.87h9.09v9.26h-9.09zM545.96 1608.87h9.08v9.26h-9.08zM891.33 1608.87h9.09v9.26h-9.09zM1009.49 1608.87h9.09v9.26h-9.09zM1109.47 1608.87h9.09v9.26h-9.09zM1300.33 1608.87h9.09v9.26h-9.09zM445.98 1618.13h9.09v9.27h-9.09zM891.33 1618.13h9.09v9.27h-9.09zM954.96 1618.13h9.08v9.27h-9.08zM1009.49 1618.13h9.09v9.27h-9.09zM1109.47 1618.13h9.09v9.27h-9.09zM1300.33 1618.13h9.09v9.27h-9.09zM1354.87 1618.13h9.09v9.27h-9.09zM509.6 1627.4h9.09v9.27h-9.09zM536.87 1627.4h9.09v9.27h-9.09zM891.33 1627.4h9.09v9.27h-9.09zM954.96 1627.4h18.17v9.27h-18.17zM1127.64 1627.4h9.09v9.27h-9.09zM1191.27 1627.4h9.09v9.27h-9.09zM1218.53 1627.4h9.09v9.27h-9.09zM1300.33 1627.4h9.09v9.27h-9.09zM1391.22 1627.4h9.09v9.27h-9.09zM1536.64 1627.4h9.09v9.27h-9.09zM391.44 1636.67h9.09v9.26h-9.09zM445.98 1636.67h9.09v9.26h-9.09zM491.42 1636.67h9.09v9.26h-9.09zM545.96 1636.67h9.08v9.26h-9.08zM791.36 1636.67h9.08v9.26h-9.08zM891.33 1636.67h9.09v9.26h-9.09zM954.96 1636.67h9.08v9.26h-9.08zM991.31 1636.67h9.09v9.26h-9.09zM1009.49 1636.67h9.09v9.26h-9.09zM1273.07 1636.67h9.09v9.26h-9.09zM1300.33 1636.67h9.09v9.26h-9.09zM1336.69 1636.67h9.09v9.26h-9.09zM1354.87 1636.67h9.09v9.26h-9.09zM1536.64 1636.67h9.09v9.26h-9.09zM1563.91 1636.67h9.09v9.26h-9.09zM1109.47 1645.93h9.09v9.27h-9.09zM1436.67 1645.93h9.09v9.27h-9.09zM1463.93 1645.93h27.27v9.27h-27.27zM1518.47 1645.93h18.17v9.27h-18.17zM791.36 1655.2h9.08v9.27h-9.08zM991.31 1655.2h9.09v9.27h-9.09zM1009.49 1655.2h9.09v9.27h-9.09zM1300.33 1655.2h9.09v9.27h-9.09zM1409.4 1655.2h9.09v9.27h-9.09zM491.42 1664.47h9.09v9.26h-9.09zM854.98 1664.47h18.18v9.26h-18.18zM982.22 1664.47h9.09v9.26h-9.09zM1000.4 1664.47h9.09v9.26h-9.09zM1100.38 1664.47h9.09v9.26h-9.09zM1164 1664.47h18.18v9.26h-18.18zM1191.27 1664.47h9.09v9.26h-9.09zM1236.71 1664.47h18.18v9.26h-18.18zM1263.98 1664.47h9.09v9.26h-9.09zM1291.24 1664.47h9.09v9.26h-9.09zM1309.42 1664.47h36.36v9.26h-36.36zM1363.96 1664.47h18.17v9.26h-18.17zM1418.49 1664.47h18.18v9.26h-18.18zM1473.02 1664.47h9.09v9.26h-9.09zM954.96 1673.73h9.08v9.27h-9.08zM1109.47 1673.73h9.09v9.27h-9.09zM1245.8 1673.73h9.09v9.27h-9.09zM1445.76 1673.73h18.17v9.27h-18.17zM1527.56 1673.73h9.08v9.27h-9.08z"/>
<path fill="#cdceff" d="M473.24 441.27h9.09v9.26h-9.09zM1036.76 441.27h9.08v9.26h-9.08zM473.24 450.53h9.09v9.27h-9.09zM1036.76 450.53h9.08v9.27h-9.08zM736.82 459.8h9.09v9.27h-9.09zM954.96 478.33h9.08v9.27h-9.08zM1354.87 478.33h9.09v9.27h-9.09zM1418.49 478.33h36.35v9.27h-36.35zM1500.29 478.33h9.09v9.27h-9.09zM1536.64 478.33h9.09v9.27h-9.09zM1563.91 478.33h9.09v9.27h-9.09zM445.98 515.4h9.09v9.27h-9.09zM473.24 515.4h9.09v9.27h-9.09zM473.24 524.67h9.09v9.26h-9.09zM1036.76 524.67h9.08v9.26h-9.08zM1554.82 524.67h9.09v9.26h-9.09zM427.8 533.93h9.09v9.27h-9.09zM491.42 533.93h9.09v9.27h-9.09zM1436.67 533.93h9.09v9.27h-9.09zM1491.2 533.93h9.09v9.27h-9.09zM1563.91 533.93h9.09v9.27h-9.09zM727.73 543.2h18.18v9.27h-18.18zM355.09 561.73h18.18v9.27h-18.18zM427.8 561.73h18.18v9.27h-18.18zM882.24 561.73h9.09v9.27h-9.09zM445.98 580.27h9.09v9.26h-9.09zM1036.76 580.27h9.08v9.26h-9.08zM854.98 598.8h9.09v9.27h-9.09zM900.42 598.8h9.09v9.27h-9.09zM991.31 598.8h9.09v9.27h-9.09zM1091.29 598.8h9.09v9.27h-9.09zM1436.67 598.8h9.09v9.27h-9.09zM854.98 626.6h9.09v9.27h-9.09zM918.6 635.87h9.09v9.26h-9.09zM1109.47 635.87h9.09v9.26h-9.09zM1254.89 635.87h9.09v9.26h-9.09zM1427.58 635.87h9.09v9.26h-9.09zM1491.2 635.87h9.09v9.26h-9.09zM1509.38 635.87h9.09v9.26h-9.09zM1545.73 635.87h9.09v9.26h-9.09zM1563.91 635.87h9.09v9.26h-9.09zM882.24 654.4h9.09v9.27h-9.09zM1036.76 654.4h9.08v9.27h-9.08zM609.58 682.2h9.09v9.27h-9.09zM645.93 682.2h9.09v9.27h-9.09zM764.09 682.2h9.09v9.27h-9.09zM636.84 691.47h9.09v9.26h-9.09zM673.2 691.47h9.09v9.26h-9.09zM591.4 700.73h9.09v9.27h-9.09zM636.84 700.73h9.09v9.27h-9.09zM764.09 700.73h9.09v9.27h-9.09zM700.47 710h9.09v9.27h-9.09zM773.18 710h9.09v9.27h-9.09zM755 719.27h9.09v9.26h-9.09zM600.49 728.53h18.18v9.27h-18.18zM700.47 728.53h9.09v9.27h-9.09zM764.09 728.53h9.09v9.27h-9.09zM591.4 737.8h9.09v9.27h-9.09zM673.2 737.8h9.09v9.27h-9.09zM709.56 737.8h9.08v9.27h-9.08zM718.64 747.07h9.09v9.26h-9.09zM600.49 765.6h9.09v9.27h-9.09zM645.93 765.6h9.09v9.27h-9.09zM727.73 765.6h9.09v9.27h-9.09zM755 765.6h18.18v9.27h-18.18zM718.64 774.87h9.09v9.26h-9.09zM618.67 793.4h9.09v9.27h-9.09zM636.84 793.4h9.09v9.27h-9.09zM773.18 793.4h9.09v9.27h-9.09zM645.93 802.67h9.09v9.26h-9.09zM718.64 802.67h9.09v9.26h-9.09zM655.02 811.93h9.09v9.27h-9.09zM682.29 811.93h9.09v9.27h-9.09zM709.56 811.93h9.08v9.27h-9.08zM764.09 811.93h9.09v9.27h-9.09zM455.07 821.2h9.09v9.27h-9.09zM673.2 821.2h9.09v9.27h-9.09zM373.27 830.47h9.09v9.26h-9.09zM455.07 830.47h9.09v9.26h-9.09zM627.76 849h9.08v9.27h-9.08zM673.2 849h9.09v9.27h-9.09zM591.4 858.27h9.09v9.26h-9.09zM609.58 858.27h9.09v9.26h-9.09zM636.84 858.27h9.09v9.26h-9.09zM673.2 858.27h9.09v9.26h-9.09zM718.64 858.27h9.09v9.26h-9.09zM618.67 867.53h9.09v9.27h-9.09zM700.47 867.53h9.09v9.27h-9.09zM973.13 876.8h9.09v9.27h-9.09zM936.78 886.07h18.18v9.26h-18.18zM982.22 886.07h9.09v9.26h-9.09zM1000.4 886.07h9.09v9.26h-9.09zM1064.02 886.07h9.09v9.26h-9.09zM1091.29 886.07h9.09v9.26h-9.09zM1164 886.07h9.09v9.26h-9.09zM1227.62 886.07h9.09v9.26h-9.09zM1273.07 886.07h18.17v9.26h-18.17zM1318.51 886.07h9.09v9.26h-9.09zM1336.69 886.07h18.18v9.26h-18.18zM1373.04 886.07h9.09v9.26h-9.09zM1445.76 886.07h9.08v9.26h-9.08zM1500.29 886.07h18.18v9.26h-18.18zM1045.84 941.67h9.09v9.26h-9.09zM509.6 950.93h9.09v9.27h-9.09zM536.87 950.93h9.09v9.27h-9.09zM954.96 950.93h18.17v9.27h-18.17zM1009.49 950.93h9.09v9.27h-9.09zM1064.02 950.93h9.09v9.27h-9.09zM1127.64 950.93h9.09v9.27h-9.09zM1300.33 960.2h9.09v9.27h-9.09zM954.96 969.47h9.08v9.26h-9.08zM1045.84 969.47h9.09v9.26h-9.09zM473.24 978.73h9.09v9.27h-9.09zM564.13 978.73h9.09v9.27h-9.09zM900.42 988h9.09v9.27h-9.09zM918.6 988h9.09v9.27h-9.09zM954.96 988h9.08v9.27h-9.08zM991.31 988h9.09v9.27h-9.09zM1091.29 988h9.09v9.27h-9.09zM1436.67 988h9.09v9.27h-9.09zM1554.82 988h9.09v9.27h-9.09zM509.6 997.27h9.09v9.26h-9.09zM891.33 997.27h9.09v9.26h-9.09zM936.78 997.27h9.09v9.26h-9.09zM1064.02 1006.53h9.09v9.27h-9.09zM545.96 1015.8h9.08v9.27h-9.08zM891.33 1015.8h9.09v9.27h-9.09zM991.31 1015.8h9.09v9.27h-9.09zM1009.49 1015.8h9.09v9.27h-9.09zM1109.47 1015.8h9.09v9.27h-9.09zM1336.69 1015.8h9.09v9.27h-9.09zM1454.84 1015.8h9.09v9.27h-9.09zM1045.84 1025.07h9.09v9.26h-9.09zM791.36 1034.33h9.08v9.27h-9.08zM900.42 1034.33h9.09v9.27h-9.09zM964.04 1034.33h9.09v9.27h-9.09zM1491.2 1034.33h9.09v9.27h-9.09zM1527.56 1034.33h9.08v9.27h-9.08zM1554.82 1034.33h9.09v9.27h-9.09zM791.36 1043.6h9.08v9.27h-9.08zM1127.64 1043.6h9.09v9.27h-9.09zM1300.33 1043.6h9.09v9.27h-9.09zM391.44 1052.87h9.09v9.26h-9.09zM854.98 1052.87h9.09v9.26h-9.09zM873.16 1052.87h9.08v9.26h-9.08zM891.33 1052.87h9.09v9.26h-9.09zM1091.29 1052.87h9.09v9.26h-9.09zM1145.82 1052.87h9.09v9.26h-9.09zM1173.09 1052.87h9.09v9.26h-9.09zM1436.67 1052.87h18.17v9.26h-18.17zM1482.11 1052.87h9.09v9.26h-9.09zM1536.64 1052.87h9.09v9.26h-9.09zM854.98 1062.13h9.09v9.27h-9.09zM936.78 1062.13h9.09v9.27h-9.09zM782.27 1071.4h9.09v9.27h-9.09zM1045.84 1071.4h9.09v9.27h-9.09zM791.36 1080.67h9.08v9.26h-9.08zM1491.2 1080.67h9.09v9.26h-9.09zM1527.56 1080.67h9.08v9.26h-9.08zM509.6 1089.93h9.09v9.27h-9.09zM891.33 1089.93h9.09v9.27h-9.09zM918.6 1089.93h9.09v9.27h-9.09zM1054.93 1089.93h9.09v9.27h-9.09zM1218.53 1089.93h9.09v9.27h-9.09zM1254.89 1089.93h9.09v9.27h-9.09zM1509.38 1089.93h9.09v9.27h-9.09zM791.36 1099.2h9.08v9.27h-9.08zM1018.58 1099.2h9.09v9.27h-9.09zM1300.33 1099.2h9.09v9.27h-9.09zM854.98 1108.47h9.09v9.26h-9.09zM918.6 1108.47h9.09v9.26h-9.09zM1045.84 1108.47h9.09v9.26h-9.09zM1182.18 1108.47h9.09v9.26h-9.09zM1518.47 1108.47h9.09v9.26h-9.09zM1000.4 1117.73h9.09v9.27h-9.09zM1064.02 1117.73h18.18v9.27h-18.18zM1091.29 1117.73h18.18v9.27h-18.18zM355.09 1136.27h18.18v9.26h-18.18zM436.89 1136.27h9.09v9.26h-9.09zM491.42 1136.27h9.09v9.26h-9.09zM564.13 1136.27h9.09v9.26h-9.09zM845.89 1145.53h9.09v9.27h-9.09zM873.16 1145.53h9.08v9.27h-9.08zM927.69 1145.53h9.09v9.27h-9.09zM973.13 1145.53h9.09v9.27h-9.09zM1009.49 1145.53h9.09v9.27h-9.09zM1491.2 1145.53h9.09v9.27h-9.09zM1554.82 1145.53h9.09v9.27h-9.09zM991.31 1154.8h9.09v9.27h-9.09zM791.36 1164.07h9.08v9.26h-9.08zM854.98 1164.07h9.09v9.26h-9.09zM909.51 1164.07h9.09v9.26h-9.09zM1018.58 1164.07h9.09v9.26h-9.09zM1127.64 1164.07h9.09v9.26h-9.09zM1491.2 1164.07h9.09v9.26h-9.09zM1527.56 1164.07h9.08v9.26h-9.08zM1018.58 1173.33h9.09v9.27h-9.09zM1109.47 1173.33h9.09v9.27h-9.09zM1300.33 1173.33h9.09v9.27h-9.09zM1354.87 1173.33h9.09v9.27h-9.09zM1454.84 1173.33h9.09v9.27h-9.09zM1518.47 1173.33h9.09v9.27h-9.09zM1554.82 1173.33h9.09v9.27h-9.09zM509.6 1191.87h9.09v9.26h-9.09zM791.36 1191.87h9.08v9.26h-9.08zM891.33 1191.87h9.09v9.26h-9.09zM954.96 1191.87h9.08v9.26h-9.08zM1018.58 1191.87h9.09v9.26h-9.09zM1491.2 1191.87h9.09v9.26h-9.09zM1527.56 1191.87h9.08v9.26h-9.08zM1018.58 1201.13h9.09v9.27h-9.09zM1300.33 1201.13h9.09v9.27h-9.09zM1454.84 1201.13h9.09v9.27h-9.09zM545.96 1210.4h9.08v9.27h-9.08zM918.6 1210.4h9.09v9.27h-9.09zM1073.11 1210.4h9.09v9.27h-9.09zM854.98 1228.93h9.09v9.27h-9.09zM945.87 1228.93h9.09v9.27h-9.09zM1064.02 1228.93h9.09v9.27h-9.09zM1164 1228.93h9.09v9.27h-9.09zM1209.44 1228.93h9.09v9.27h-9.09zM1227.62 1228.93h9.09v9.27h-9.09zM1245.8 1228.93h9.09v9.27h-9.09zM1291.24 1228.93h9.09v9.27h-9.09zM1318.51 1228.93h9.09v9.27h-9.09zM1363.96 1228.93h9.08v9.27h-9.08zM1382.13 1228.93h9.09v9.27h-9.09zM1445.76 1228.93h9.08v9.27h-9.08zM1482.11 1228.93h9.09v9.27h-9.09zM1500.29 1228.93h18.18v9.27h-18.18zM1527.56 1228.93h9.08v9.27h-9.08zM1545.73 1228.93h9.09v9.27h-9.09zM1491.2 1238.2h9.09v9.27h-9.09zM1527.56 1238.2h9.08v9.27h-9.08zM1554.82 1238.2h9.09v9.27h-9.09zM954.96 1247.47h9.08v9.26h-9.08zM1491.2 1247.47h9.09v9.26h-9.09zM1527.56 1247.47h9.08v9.26h-9.08zM791.36 1266h9.08v9.27h-9.08zM1127.64 1266h9.09v9.27h-9.09zM1491.2 1266h9.09v9.27h-9.09zM954.96 1275.27h9.08v9.26h-9.08zM1300.33 1275.27h9.09v9.26h-9.09zM1354.87 1275.27h9.09v9.26h-9.09zM1009.49 1284.53h9.09v9.27h-9.09zM1554.82 1284.53h9.09v9.27h-9.09zM1400.31 1293.8h9.09v9.27h-9.09zM1454.84 1293.8h9.09v9.27h-9.09zM1127.64 1312.33h9.09v9.27h-9.09zM1527.56 1312.33h9.08v9.27h-9.08zM991.31 1321.6h9.09v9.27h-9.09zM1254.89 1321.6h9.09v9.27h-9.09zM1418.49 1321.6h9.09v9.27h-9.09zM1491.2 1321.6h9.09v9.27h-9.09zM1527.56 1321.6h9.08v9.27h-9.08zM791.36 1330.87h9.08v9.26h-9.08zM1127.64 1330.87h9.09v9.26h-9.09zM1527.56 1330.87h9.08v9.26h-9.08zM1300.33 1340.13h9.09v9.27h-9.09zM1527.56 1340.13h9.08v9.27h-9.08zM1127.64 1349.4h9.09v9.27h-9.09zM1454.84 1349.4h9.09v9.27h-9.09zM545.96 1358.67h9.08v9.26h-9.08zM991.31 1358.67h9.09v9.26h-9.09zM1218.53 1358.67h9.09v9.26h-9.09zM1400.31 1358.67h9.09v9.26h-9.09zM1300.33 1367.93h9.09v9.27h-9.09zM791.36 1377.2h9.08v9.27h-9.08zM1491.2 1377.2h9.09v9.27h-9.09zM791.36 1386.47h9.08v9.26h-9.08zM1491.2 1386.47h9.09v9.26h-9.09zM1527.56 1386.47h9.08v9.26h-9.08zM1127.64 1395.73h9.09v9.27h-9.09zM864.07 1405h9.09v9.27h-9.09zM945.87 1405h9.09v9.27h-9.09zM1000.4 1405h9.09v9.27h-9.09zM1073.11 1405h9.09v9.27h-9.09zM1100.38 1405h9.09v9.27h-9.09zM1173.09 1405h9.09v9.27h-9.09zM1236.71 1405h9.09v9.27h-9.09zM1263.98 1405h9.09v9.27h-9.09zM1327.6 1405h18.18v9.27h-18.18zM1373.04 1405h9.09v9.27h-9.09zM1527.56 1414.27h9.08v9.26h-9.08zM791.36 1423.53h9.08v9.27h-9.08zM1127.64 1423.53h9.09v9.27h-9.09zM1400.31 1423.53h9.09v9.27h-9.09zM1536.64 1423.53h9.09v9.27h-9.09zM1563.91 1423.53h9.09v9.27h-9.09zM1300.33 1432.8h9.09v9.27h-9.09zM1491.2 1432.8h9.09v9.27h-9.09zM1527.56 1432.8h9.08v9.27h-9.08zM791.36 1442.07h9.08v9.26h-9.08zM918.6 1442.07h9.09v9.26h-9.09zM1300.33 1442.07h9.09v9.26h-9.09zM1545.73 1442.07h9.09v9.26h-9.09zM791.36 1451.33h9.08v9.27h-9.08zM1527.56 1451.33h9.08v9.27h-9.08zM1554.82 1451.33h9.09v9.27h-9.09zM391.44 1460.6h9.09v9.27h-9.09zM1073.11 1460.6h9.09v9.27h-9.09zM1173.09 1460.6h9.09v9.27h-9.09zM1373.04 1460.6h9.09v9.27h-9.09zM1127.64 1469.87h9.09v9.26h-9.09zM1527.56 1469.87h9.08v9.26h-9.08zM791.36 1479.13h9.08v9.27h-9.08zM1300.33 1479.13h9.09v9.27h-9.09zM1354.87 1479.13h9.09v9.27h-9.09zM1491.2 1479.13h9.09v9.27h-9.09zM1527.56 1479.13h9.08v9.27h-9.08zM1127.64 1488.4h9.09v9.27h-9.09zM1491.2 1488.4h9.09v9.27h-9.09zM1527.56 1488.4h9.08v9.27h-9.08zM1454.84 1497.67h9.09v9.26h-9.09zM1191.27 1506.93h9.09v9.27h-9.09zM1254.89 1506.93h9.09v9.27h-9.09zM1318.51 1506.93h9.09v9.27h-9.09zM1454.84 1506.93h9.09v9.27h-9.09zM1473.02 1506.93h9.09v9.27h-9.09zM1536.64 1506.93h9.09v9.27h-9.09zM1554.82 1506.93h9.09v9.27h-9.09zM391.44 1525.47h9.09v9.26h-9.09zM1218.53 1525.47h9.09v9.26h-9.09zM1518.47 1525.47h9.09v9.26h-9.09zM1563.91 1525.47h9.09v9.26h-9.09zM391.44 1534.73h9.09v9.27h-9.09zM545.96 1534.73h9.08v9.27h-9.08zM1445.76 1534.73h9.08v9.27h-9.08zM391.44 1544h9.09v9.27h-9.09zM445.98 1544h9.09v9.27h-9.09zM509.6 1544h9.09v9.27h-9.09zM891.33 1544h9.09v9.27h-9.09zM954.96 1544h9.08v9.27h-9.08zM1473.02 1544h9.09v9.27h-9.09zM1563.91 1544h9.09v9.27h-9.09zM391.44 1553.27h9.09v9.26h-9.09zM791.36 1553.27h9.08v9.26h-9.08zM954.96 1553.27h9.08v9.26h-9.08zM1127.64 1553.27h9.09v9.26h-9.09zM1427.58 1553.27h9.09v9.26h-9.09zM1454.84 1553.27h9.09v9.26h-9.09zM1518.47 1553.27h9.09v9.26h-9.09zM1536.64 1553.27h9.09v9.26h-9.09zM1554.82 1553.27h9.09v9.26h-9.09zM918.6 1562.53h9.09v9.27h-9.09zM1073.11 1562.53h9.09v9.27h-9.09zM1100.38 1562.53h9.09v9.27h-9.09zM1191.27 1562.53h9.09v9.27h-9.09zM1245.8 1562.53h9.09v9.27h-9.09zM1391.22 1562.53h18.18v9.27h-18.18zM1445.76 1562.53h9.08v9.27h-9.08zM1463.93 1562.53h9.09v9.27h-9.09zM1482.11 1562.53h9.09v9.27h-9.09zM1518.47 1562.53h9.09v9.27h-9.09zM1554.82 1562.53h9.09v9.27h-9.09zM1454.84 1571.8h9.09v9.27h-9.09zM1554.82 1571.8h9.09v9.27h-9.09zM1400.31 1581.07h9.09v9.26h-9.09zM1436.67 1581.07h9.09v9.26h-9.09zM1491.2 1581.07h36.36v9.26h-36.36zM954.96 1590.33h9.08v9.27h-9.08zM1127.64 1590.33h9.09v9.27h-9.09zM1454.84 1590.33h9.09v9.27h-9.09zM445.98 1599.6h9.09v9.27h-9.09zM545.96 1599.6h9.08v9.27h-9.08zM936.78 1599.6h9.09v9.27h-9.09zM982.22 1599.6h9.09v9.27h-9.09zM1045.84 1599.6h9.09v9.27h-9.09zM1064.02 1599.6h9.09v9.27h-9.09zM1091.29 1599.6h9.09v9.27h-9.09zM1136.73 1599.6h18.18v9.27h-18.18zM1164 1599.6h9.09v9.27h-9.09zM1218.53 1599.6h9.09v9.27h-9.09zM1273.07 1599.6h18.17v9.27h-18.17zM1327.6 1599.6h9.09v9.27h-9.09zM1373.04 1599.6h18.18v9.27h-18.18zM1473.02 1599.6h9.09v9.27h-9.09zM1536.64 1599.6h9.09v9.27h-9.09zM391.44 1608.87h9.09v9.26h-9.09zM791.36 1608.87h9.08v9.26h-9.08zM1127.64 1608.87h9.09v9.26h-9.09zM1473.02 1608.87h9.09v9.26h-9.09zM1554.82 1608.87h9.09v9.26h-9.09zM545.96 1618.13h9.08v9.27h-9.08zM791.36 1618.13h9.08v9.27h-9.08zM991.31 1618.13h9.09v9.27h-9.09zM1127.64 1618.13h9.09v9.27h-9.09zM1473.02 1618.13h9.09v9.27h-9.09zM1009.49 1627.4h9.09v9.27h-9.09zM1073.11 1627.4h9.09v9.27h-9.09zM1418.49 1627.4h9.09v9.27h-9.09zM1445.76 1627.4h18.17v9.27h-18.17zM1473.02 1627.4h9.09v9.27h-9.09zM1563.91 1627.4h9.09v9.27h-9.09zM936.78 1636.67h9.09v9.26h-9.09zM982.22 1636.67h9.09v9.26h-9.09zM1064.02 1636.67h9.09v9.26h-9.09zM1091.29 1636.67h9.09v9.26h-9.09zM1127.64 1636.67h27.27v9.26h-27.27zM1209.44 1636.67h36.36v9.26h-36.36zM1282.16 1636.67h9.08v9.26h-9.08zM1309.42 1636.67h9.09v9.26h-9.09zM1327.6 1636.67h9.09v9.26h-9.09zM1345.78 1636.67h9.09v9.26h-9.09zM1363.96 1636.67h27.26v9.26h-27.26zM391.44 1645.93h9.09v9.27h-9.09zM954.96 1645.93h9.08v9.27h-9.08zM1318.51 1645.93h9.09v9.27h-9.09zM1400.31 1645.93h9.09v9.27h-9.09zM1445.76 1645.93h9.08v9.27h-9.08zM1491.2 1645.93h9.09v9.27h-9.09zM545.96 1655.2h9.08v9.27h-9.08zM1127.64 1655.2h9.09v9.27h-9.09zM1336.69 1655.2h9.09v9.27h-9.09zM1563.91 1655.2h9.09v9.27h-9.09zM436.89 1664.47h9.09v9.26h-9.09zM891.33 1664.47h9.09v9.26h-9.09zM936.78 1664.47h9.09v9.26h-9.09zM1045.84 1664.47h9.09v9.26h-9.09zM1073.11 1664.47h9.09v9.26h-9.09zM1136.73 1664.47h9.09v9.26h-9.09zM1182.18 1664.47h9.09v9.26h-9.09zM1345.78 1664.47h9.09v9.26h-9.09zM1400.31 1664.47h9.09v9.26h-9.09zM1445.76 1664.47h27.26v9.26h-27.26zM1500.29 1664.47h9.09v9.26h-9.09zM391.44 1673.73h9.09v9.27h-9.09zM445.98 1673.73h9.09v9.27h-9.09zM545.96 1673.73h9.08v9.27h-9.08zM1318.51 1673.73h9.09v9.27h-9.09zM1418.49 1673.73h9.09v9.27h-9.09zM1436.67 1673.73h9.09v9.27h-9.09zM1518.47 1673.73h9.09v9.27h-9.09zM1545.73 1673.73h9.09v9.27h-9.09z"/>
<path fill="#ffffff" d="M473.24 432h9.09v9.27h-9.09zM1036.76 432h9.08v9.27h-9.08zM400.53 441.27h9.09v9.26h-9.09zM400.53 450.53h9.09v9.27h-9.09zM673.2 459.8h9.09v9.27h-9.09zM1463.93 478.33h9.09v9.27h-9.09zM1491.2 478.33h9.09v9.27h-9.09zM1509.38 478.33h9.09v9.27h-9.09zM355.09 487.6h18.18v9.27h-18.18zM436.89 487.6h9.09v9.27h-9.09zM491.42 487.6h9.09v9.27h-9.09zM882.24 487.6h9.09v9.27h-9.09zM473.24 496.87h9.09v9.26h-9.09zM1036.76 496.87h9.08v9.26h-9.08zM473.24 506.13h9.09v9.27h-9.09zM1036.76 515.4h9.08v9.27h-9.08zM400.53 524.67h9.09v9.26h-9.09zM1127.64 524.67h9.09v9.26h-9.09zM1218.53 524.67h9.09v9.26h-9.09zM1254.89 533.93h9.09v9.27h-9.09zM1400.31 533.93h9.09v9.27h-9.09zM1427.58 533.93h9.09v9.27h-9.09zM673.2 543.2h9.09v9.27h-9.09zM473.24 552.47h9.09v9.26h-9.09zM1036.76 552.47h9.08v9.26h-9.08zM346 561.73h9.09v9.27h-9.09zM409.62 561.73h18.18v9.27h-18.18zM464.16 561.73h9.08v9.27h-9.08zM482.33 561.73h9.09v9.27h-9.09zM518.69 561.73h18.18v9.27h-18.18zM555.04 561.73h9.09v9.27h-9.09zM573.22 561.73h9.09v9.27h-9.09zM727.73 561.73h9.09v9.27h-9.09zM473.24 571h9.09v9.27h-9.09zM1036.76 571h9.08v9.27h-9.08zM400.53 580.27h9.09v9.26h-9.09zM927.69 598.8h18.18v9.27h-18.18zM1018.58 598.8h18.18v9.27h-18.18zM473.24 608.07h9.09v9.26h-9.09zM1036.76 608.07h9.08v9.26h-9.08zM473.24 617.33h9.09v9.27h-9.09zM1036.76 617.33h9.08v9.27h-9.08zM891.33 626.6h9.09v9.27h-9.09zM1091.29 626.6h9.09v9.27h-9.09zM1436.67 626.6h9.09v9.27h-9.09zM945.87 635.87h9.09v9.26h-9.09zM1400.31 635.87h9.09v9.26h-9.09zM1463.93 635.87h9.09v9.26h-9.09zM1536.64 635.87h9.09v9.26h-9.09zM473.24 645.13h9.09v9.27h-9.09zM1036.76 645.13h9.08v9.27h-9.08zM473.24 663.67h9.09v9.26h-9.09zM1036.76 663.67h9.08v9.26h-9.08zM745.91 682.2h9.09v9.27h-9.09zM627.76 700.73h9.08v9.27h-9.08zM645.93 700.73h9.09v9.27h-9.09zM673.2 700.73h9.09v9.27h-9.09zM609.58 719.27h9.09v9.26h-9.09zM645.93 719.27h9.09v9.26h-9.09zM645.93 728.53h9.09v9.27h-9.09zM609.58 737.8h9.09v9.27h-9.09zM627.76 737.8h18.17v9.27h-18.17zM700.47 737.8h9.09v9.27h-9.09zM745.91 737.8h9.09v9.27h-9.09zM764.09 737.8h9.09v9.27h-9.09zM745.91 747.07h9.09v9.26h-9.09zM373.27 765.6h9.09v9.27h-9.09zM455.07 765.6h9.09v9.27h-9.09zM609.58 765.6h9.09v9.27h-9.09zM745.91 765.6h9.09v9.27h-9.09zM736.82 774.87h9.09v9.26h-9.09zM645.93 793.4h9.09v9.27h-9.09zM745.91 802.67h9.09v9.26h-9.09zM473.24 821.2h9.09v9.27h-9.09zM1036.76 821.2h9.08v9.27h-9.08zM682.29 830.47h9.09v9.26h-9.09zM591.4 839.73h9.09v9.27h-9.09zM645.93 839.73h18.18v9.27h-18.18zM673.2 839.73h9.09v9.27h-9.09zM709.56 839.73h9.08v9.27h-9.08zM645.93 858.27h9.09v9.26h-9.09zM864.07 886.07h9.09v9.26h-9.09zM1045.84 886.07h9.09v9.26h-9.09zM1100.38 886.07h9.09v9.26h-9.09zM1136.73 886.07h27.27v9.26h-27.27zM1173.09 886.07h45.44v9.26h-45.44zM1236.71 886.07h27.27v9.26h-27.27zM1291.24 886.07h9.09v9.26h-9.09zM1309.42 886.07h9.09v9.26h-9.09zM1327.6 886.07h9.09v9.26h-9.09zM1363.96 886.07h9.08v9.26h-9.08zM1382.13 886.07h18.18v9.26h-18.18zM1482.11 886.07h9.09v9.26h-9.09zM1064.02 941.67h9.09v9.26h-9.09zM791.36 960.2h9.08v9.27h-9.08zM918.6 960.2h9.09v9.27h-9.09zM1073.11 960.2h9.09v9.27h-9.09zM1127.64 960.2h9.09v9.27h-9.09zM1491.2 960.2h9.09v9.27h-9.09zM1527.56 960.2h9.08v9.27h-9.08zM1545.73 960.2h9.09v9.27h-9.09zM1064.02 969.47h9.09v9.26h-9.09zM400.53 978.73h9.09v9.27h-9.09zM536.87 988h9.09v9.27h-9.09zM927.69 988h18.18v9.27h-18.18zM1009.49 988h27.27v9.27h-27.27zM1064.02 988h9.09v9.27h-9.09zM1082.2 988h9.09v9.27h-9.09zM1218.53 988h9.09v9.27h-9.09zM1300.33 988h9.09v9.27h-9.09zM864.07 1015.8h9.09v9.27h-9.09zM954.96 1015.8h9.08v9.27h-9.08zM982.22 1015.8h9.09v9.27h-9.09zM1000.4 1015.8h9.09v9.27h-9.09zM1127.64 1015.8h9.09v9.27h-9.09zM1145.82 1015.8h9.09v9.27h-9.09zM1164 1015.8h9.09v9.27h-9.09zM1273.07 1015.8h18.17v9.27h-18.17zM1300.33 1015.8h18.18v9.27h-18.18zM1327.6 1015.8h9.09v9.27h-9.09zM1363.96 1015.8h9.08v9.27h-9.08zM1400.31 1015.8h9.09v9.27h-9.09zM1463.93 1015.8h9.09v9.27h-9.09zM1518.47 1015.8h9.09v9.27h-9.09zM509.6 1025.07h9.09v9.26h-9.09zM891.33 1025.07h9.09v9.26h-9.09zM936.78 1025.07h9.09v9.26h-9.09zM509.6 1034.33h9.09v9.27h-9.09zM891.33 1034.33h9.09v9.27h-9.09zM927.69 1034.33h9.09v9.27h-9.09zM1009.49 1034.33h9.09v9.27h-9.09zM1418.49 1034.33h9.09v9.27h-9.09zM1545.73 1034.33h9.09v9.27h-9.09zM545.96 1043.6h9.08v9.27h-9.08zM991.31 1043.6h9.09v9.27h-9.09zM1400.31 1043.6h9.09v9.27h-9.09zM1454.84 1043.6h18.18v9.27h-18.18zM1518.47 1043.6h9.09v9.27h-9.09zM1536.64 1043.6h9.09v9.27h-9.09zM1554.82 1043.6h18.18v9.27h-18.18zM918.6 1052.87h9.09v9.26h-9.09zM982.22 1052.87h9.09v9.26h-9.09zM1073.11 1052.87h9.09v9.26h-9.09zM1227.62 1052.87h9.09v9.26h-9.09zM1254.89 1052.87h9.09v9.26h-9.09zM1336.69 1052.87h9.09v9.26h-9.09zM1418.49 1052.87h9.09v9.26h-9.09zM1500.29 1052.87h9.09v9.26h-9.09zM1545.73 1052.87h9.09v9.26h-9.09zM1091.29 1062.13h9.09v9.27h-9.09zM1436.67 1062.13h9.09v9.27h-9.09zM1064.02 1071.4h9.09v9.27h-9.09zM1118.56 1071.4h9.08v9.27h-9.08zM918.6 1080.67h9.09v9.26h-9.09zM954.96 1080.67h9.08v9.26h-9.08zM1073.11 1080.67h9.09v9.26h-9.09zM1127.64 1080.67h9.09v9.26h-9.09zM1418.49 1080.67h9.09v9.26h-9.09zM1436.67 1080.67h9.09v9.26h-9.09zM1545.73 1080.67h9.09v9.26h-9.09zM945.87 1089.93h9.09v9.27h-9.09zM1073.11 1089.93h9.09v9.27h-9.09zM1091.29 1089.93h9.09v9.27h-9.09zM1164 1089.93h9.09v9.27h-9.09zM1273.07 1089.93h9.09v9.27h-9.09zM1336.69 1089.93h9.09v9.27h-9.09zM1445.76 1089.93h9.08v9.27h-9.08zM1482.11 1089.93h9.09v9.27h-9.09zM1500.29 1089.93h9.09v9.27h-9.09zM918.6 1099.2h9.09v9.27h-9.09zM1073.11 1099.2h9.09v9.27h-9.09zM1127.64 1099.2h9.09v9.27h-9.09zM1418.49 1099.2h9.09v9.27h-9.09zM1491.2 1099.2h9.09v9.27h-9.09zM1527.56 1099.2h9.08v9.27h-9.08zM1545.73 1099.2h9.09v9.27h-9.09zM891.33 1108.47h9.09v9.26h-9.09zM936.78 1108.47h9.09v9.26h-9.09zM1200.36 1108.47h9.08v9.26h-9.08zM1345.78 1108.47h9.09v9.26h-9.09zM1391.22 1108.47h9.09v9.26h-9.09zM509.6 1117.73h9.09v9.27h-9.09zM891.33 1117.73h9.09v9.27h-9.09zM1145.82 1117.73h9.09v9.27h-9.09zM509.6 1127h9.09v9.27h-9.09zM891.33 1127h9.09v9.27h-9.09zM1045.84 1127h9.09v9.27h-9.09zM346 1136.27h9.09v9.26h-9.09zM409.62 1136.27h9.09v9.26h-9.09zM427.8 1136.27h9.09v9.26h-9.09zM464.16 1136.27h9.08v9.26h-9.08zM482.33 1136.27h9.09v9.26h-9.09zM518.69 1136.27h18.18v9.26h-18.18zM555.04 1136.27h9.09v9.26h-9.09zM573.22 1136.27h9.09v9.26h-9.09zM727.73 1136.27h9.09v9.26h-9.09zM791.36 1145.53h9.08v9.27h-9.08zM1027.67 1145.53h9.09v9.27h-9.09zM1300.33 1145.53h9.09v9.27h-9.09zM1418.49 1145.53h9.09v9.27h-9.09zM1527.56 1145.53h9.08v9.27h-9.08zM1545.73 1145.53h9.09v9.27h-9.09zM845.89 1164.07h9.09v9.26h-9.09zM873.16 1164.07h9.08v9.26h-9.08zM891.33 1164.07h9.09v9.26h-9.09zM973.13 1164.07h9.09v9.26h-9.09zM1109.47 1164.07h9.09v9.26h-9.09zM1218.53 1164.07h9.09v9.26h-9.09zM1418.49 1164.07h9.09v9.26h-9.09zM1436.67 1164.07h9.09v9.26h-9.09zM1545.73 1164.07h9.09v9.26h-9.09zM864.07 1173.33h9.09v9.27h-9.09zM954.96 1173.33h9.08v9.27h-9.08zM982.22 1173.33h27.27v9.27h-27.27zM1127.64 1173.33h9.09v9.27h-9.09zM1164 1173.33h9.09v9.27h-9.09zM1218.53 1173.33h9.09v9.27h-9.09zM1282.16 1173.33h9.08v9.27h-9.08zM1327.6 1173.33h18.18v9.27h-18.18zM1400.31 1173.33h9.09v9.27h-9.09zM1463.93 1173.33h9.09v9.27h-9.09zM891.33 1182.6h9.09v9.27h-9.09zM536.87 1191.87h9.09v9.26h-9.09zM964.04 1191.87h9.09v9.26h-9.09zM991.31 1191.87h9.09v9.26h-9.09zM1418.49 1191.87h9.09v9.26h-9.09zM1545.73 1191.87h18.18v9.26h-18.18zM791.36 1201.13h9.08v9.27h-9.08zM1127.64 1201.13h9.09v9.27h-9.09zM1491.2 1201.13h9.09v9.27h-9.09zM1527.56 1201.13h9.08v9.27h-9.08zM1064.02 1210.4h9.09v9.27h-9.09zM973.13 1219.67h9.09v9.26h-9.09zM436.89 1228.93h9.09v9.27h-9.09zM864.07 1228.93h9.09v9.27h-9.09zM918.6 1228.93h9.09v9.27h-9.09zM982.22 1228.93h9.09v9.27h-9.09zM1000.4 1228.93h9.09v9.27h-9.09zM1073.11 1228.93h9.09v9.27h-9.09zM1100.38 1228.93h9.09v9.27h-9.09zM1145.82 1228.93h18.18v9.27h-18.18zM1191.27 1228.93h9.09v9.27h-9.09zM1236.71 1228.93h9.09v9.27h-9.09zM1263.98 1228.93h9.09v9.27h-9.09zM1309.42 1228.93h9.09v9.27h-9.09zM1327.6 1228.93h18.18v9.27h-18.18zM1373.04 1228.93h9.09v9.27h-9.09zM791.36 1238.2h9.08v9.27h-9.08zM1300.33 1238.2h9.09v9.27h-9.09zM1545.73 1238.2h9.09v9.27h-9.09zM791.36 1247.47h9.08v9.26h-9.08zM918.6 1247.47h9.09v9.26h-9.09zM1018.58 1247.47h9.09v9.26h-9.09zM1127.64 1247.47h9.09v9.26h-9.09zM1418.49 1247.47h9.09v9.26h-9.09zM1436.67 1247.47h9.09v9.26h-9.09zM1545.73 1247.47h9.09v9.26h-9.09zM791.36 1256.73h9.08v9.27h-9.08zM1127.64 1256.73h9.09v9.27h-9.09zM1491.2 1256.73h9.09v9.27h-9.09zM1527.56 1256.73h9.08v9.27h-9.08zM918.6 1266h9.09v9.27h-9.09zM991.31 1266h9.09v9.27h-9.09zM1073.11 1266h9.09v9.27h-9.09zM1418.49 1266h9.09v9.27h-9.09zM1527.56 1266h9.08v9.27h-9.08zM1545.73 1266h9.09v9.27h-9.09zM791.36 1275.27h9.08v9.26h-9.08zM1491.2 1275.27h9.09v9.26h-9.09zM1527.56 1275.27h9.08v9.26h-9.08zM791.36 1284.53h9.08v9.27h-9.08zM1300.33 1284.53h9.09v9.27h-9.09zM1491.2 1284.53h9.09v9.27h-9.09zM1527.56 1284.53h9.08v9.27h-9.08zM791.36 1293.8h9.08v9.27h-9.08zM1127.64 1293.8h9.09v9.27h-9.09zM1354.87 1293.8h9.09v9.27h-9.09zM791.36 1303.07h9.08v9.26h-9.08zM1009.49 1303.07h9.09v9.26h-9.09zM1300.33 1303.07h9.09v9.26h-9.09zM1418.49 1303.07h9.09v9.26h-9.09zM1491.2 1303.07h9.09v9.26h-9.09zM1527.56 1303.07h9.08v9.26h-9.08zM1545.73 1303.07h18.18v9.26h-18.18zM791.36 1312.33h9.08v9.27h-9.08zM1491.2 1312.33h9.09v9.27h-9.09zM436.89 1321.6h9.09v9.27h-9.09zM891.33 1321.6h9.09v9.27h-9.09zM1064.02 1321.6h18.18v9.27h-18.18zM1273.07 1321.6h9.09v9.27h-9.09zM1482.11 1321.6h9.09v9.27h-9.09zM1545.73 1321.6h9.09v9.27h-9.09zM954.96 1330.87h9.08v9.26h-9.08zM1491.2 1330.87h9.09v9.26h-9.09zM791.36 1340.13h9.08v9.27h-9.08zM1127.64 1340.13h9.09v9.27h-9.09zM1491.2 1340.13h9.09v9.27h-9.09zM1545.73 1340.13h9.09v9.27h-9.09zM791.36 1349.4h9.08v9.27h-9.08zM445.98 1358.67h9.09v9.26h-9.09zM791.36 1358.67h9.08v9.26h-9.08zM954.96 1358.67h9.08v9.26h-9.08zM1463.93 1358.67h9.09v9.26h-9.09zM1527.56 1358.67h9.08v9.26h-9.08zM1127.64 1367.93h9.09v9.27h-9.09zM1491.2 1367.93h9.09v9.27h-9.09zM1527.56 1367.93h9.08v9.27h-9.08zM918.6 1377.2h9.09v9.27h-9.09zM991.31 1377.2h9.09v9.27h-9.09zM1218.53 1377.2h9.09v9.27h-9.09zM1336.69 1377.2h9.09v9.27h-9.09zM1418.49 1377.2h9.09v9.27h-9.09zM1436.67 1377.2h9.09v9.27h-9.09zM1545.73 1377.2h9.09v9.27h-9.09zM918.6 1386.47h9.09v9.26h-9.09zM1073.11 1386.47h9.09v9.26h-9.09zM1418.49 1386.47h9.09v9.26h-9.09zM1436.67 1386.47h9.09v9.26h-9.09zM1545.73 1386.47h9.09v9.26h-9.09zM791.36 1395.73h9.08v9.27h-9.08zM1491.2 1395.73h9.09v9.27h-9.09zM1527.56 1395.73h9.08v9.27h-9.08zM891.33 1405h9.09v9.27h-9.09zM918.6 1405h9.09v9.27h-9.09zM1045.84 1405h9.09v9.27h-9.09zM1136.73 1405h9.09v9.27h-9.09zM1182.18 1405h9.09v9.27h-9.09zM1200.36 1405h9.08v9.27h-9.08zM1345.78 1405h9.09v9.27h-9.09zM791.36 1414.27h9.08v9.26h-9.08zM918.6 1414.27h9.09v9.26h-9.09zM1127.64 1414.27h9.09v9.26h-9.09zM1436.67 1414.27h9.09v9.26h-9.09zM1491.2 1414.27h9.09v9.26h-9.09zM1545.73 1414.27h9.09v9.26h-9.09zM1427.58 1423.53h9.09v9.27h-9.09zM1463.93 1423.53h9.09v9.27h-9.09zM1527.56 1423.53h9.08v9.27h-9.08zM791.36 1432.8h9.08v9.27h-9.08zM918.6 1432.8h9.09v9.27h-9.09zM1073.11 1432.8h9.09v9.27h-9.09zM1127.64 1432.8h9.09v9.27h-9.09zM1418.49 1432.8h9.09v9.27h-9.09zM1436.67 1432.8h9.09v9.27h-9.09zM1545.73 1432.8h9.09v9.27h-9.09zM954.96 1442.07h9.08v9.26h-9.08zM991.31 1442.07h9.09v9.26h-9.09zM1073.11 1442.07h9.09v9.26h-9.09zM1127.64 1442.07h9.09v9.26h-9.09zM1273.07 1442.07h9.09v9.26h-9.09zM1418.49 1442.07h9.09v9.26h-9.09zM1436.67 1442.07h9.09v9.26h-9.09zM1509.38 1442.07h9.09v9.26h-9.09zM1009.49 1451.33h9.09v9.27h-9.09zM1300.33 1451.33h9.09v9.27h-9.09zM1418.49 1451.33h9.09v9.27h-9.09zM1491.2 1451.33h9.09v9.27h-9.09zM1545.73 1451.33h9.09v9.27h-9.09zM1191.27 1460.6h9.09v9.27h-9.09zM1445.76 1460.6h9.08v9.27h-9.08zM1500.29 1460.6h9.09v9.27h-9.09zM791.36 1469.87h9.08v9.26h-9.08zM918.6 1469.87h9.09v9.26h-9.09zM1491.2 1469.87h9.09v9.26h-9.09zM1545.73 1469.87h9.09v9.26h-9.09zM1127.64 1479.13h9.09v9.27h-9.09zM1418.49 1479.13h9.09v9.27h-9.09zM1436.67 1479.13h9.09v9.27h-9.09zM1545.73 1479.13h9.09v9.27h-9.09zM791.36 1488.4h9.08v9.27h-9.08zM1436.67 1488.4h9.09v9.27h-9.09zM1545.73 1488.4h9.09v9.27h-9.09zM791.36 1497.67h9.08v9.26h-9.08zM1009.49 1497.67h9.09v9.26h-9.09zM1554.82 1497.67h9.09v9.26h-9.09zM445.98 1506.93h9.09v9.27h-9.09zM545.96 1506.93h9.08v9.27h-9.08zM918.6 1506.93h9.09v9.27h-9.09zM945.87 1506.93h9.09v9.27h-9.09zM1073.11 1506.93h9.09v9.27h-9.09zM1418.49 1506.93h9.09v9.27h-9.09zM1445.76 1506.93h9.08v9.27h-9.08zM1527.56 1506.93h9.08v9.27h-9.08zM1418.49 1516.2h9.09v9.27h-9.09zM936.78 1525.47h9.09v9.26h-9.09zM954.96 1525.47h9.08v9.26h-9.08zM982.22 1525.47h9.09v9.26h-9.09zM1000.4 1525.47h9.09v9.26h-9.09zM1045.84 1525.47h9.09v9.26h-9.09zM1064.02 1525.47h9.09v9.26h-9.09zM1091.29 1525.47h9.09v9.26h-9.09zM1145.82 1525.47h9.09v9.26h-9.09zM1164 1525.47h9.09v9.26h-9.09zM1200.36 1525.47h9.08v9.26h-9.08zM1273.07 1525.47h18.17v9.26h-18.17zM1327.6 1525.47h27.27v9.26h-27.27zM1373.04 1525.47h9.09v9.26h-9.09zM1400.31 1525.47h18.18v9.26h-18.18zM1454.84 1525.47h9.09v9.26h-9.09zM1536.64 1525.47h9.09v9.26h-9.09zM445.98 1534.73h9.09v9.27h-9.09zM1318.51 1534.73h9.09v9.27h-9.09zM1518.47 1534.73h18.17v9.27h-18.17zM536.87 1544h9.09v9.27h-9.09zM964.04 1544h9.09v9.27h-9.09zM982.22 1544h9.09v9.27h-9.09zM1064.02 1544h9.09v9.27h-9.09zM1145.82 1544h9.09v9.27h-9.09zM1273.07 1544h18.17v9.27h-18.17zM1309.42 1544h9.09v9.27h-9.09zM1327.6 1544h18.18v9.27h-18.18zM1373.04 1544h18.18v9.27h-18.18zM1454.84 1544h9.09v9.27h-9.09zM991.31 1553.27h9.09v9.26h-9.09zM1354.87 1553.27h9.09v9.26h-9.09zM1400.31 1553.27h9.09v9.26h-9.09zM945.87 1562.53h9.09v9.27h-9.09zM1418.49 1562.53h9.09v9.27h-9.09zM1436.67 1562.53h9.09v9.27h-9.09zM1491.2 1562.53h18.18v9.27h-18.18zM1527.56 1562.53h9.08v9.27h-9.08zM1545.73 1562.53h9.09v9.27h-9.09zM391.44 1571.8h9.09v9.27h-9.09zM545.96 1571.8h9.08v9.27h-9.08zM918.6 1571.8h9.09v9.27h-9.09zM945.87 1571.8h9.09v9.27h-9.09zM1073.11 1571.8h9.09v9.27h-9.09zM1254.89 1571.8h9.09v9.27h-9.09zM1318.51 1571.8h9.09v9.27h-9.09zM1500.29 1571.8h9.09v9.27h-9.09zM1527.56 1571.8h9.08v9.27h-9.08zM1545.73 1571.8h9.09v9.27h-9.09zM1545.73 1581.07h9.09v9.26h-9.09zM791.36 1590.33h9.08v9.27h-9.08zM991.31 1590.33h9.09v9.27h-9.09zM1218.53 1590.33h9.09v9.27h-9.09zM391.44 1599.6h9.09v9.27h-9.09zM864.07 1599.6h9.09v9.27h-9.09zM1000.4 1599.6h9.09v9.27h-9.09zM1100.38 1599.6h9.09v9.27h-9.09zM1154.91 1599.6h9.09v9.27h-9.09zM1173.09 1599.6h18.18v9.27h-18.18zM1200.36 1599.6h18.17v9.27h-18.17zM1227.62 1599.6h18.18v9.27h-18.18zM1263.98 1599.6h9.09v9.27h-9.09zM1291.24 1599.6h9.09v9.27h-9.09zM1309.42 1599.6h9.09v9.27h-9.09zM1345.78 1599.6h9.09v9.27h-9.09zM1363.96 1599.6h9.08v9.27h-9.08zM1454.84 1599.6h9.09v9.27h-9.09zM954.96 1608.87h9.08v9.26h-9.08zM991.31 1608.87h9.09v9.26h-9.09zM1354.87 1608.87h9.09v9.26h-9.09zM1454.84 1608.87h18.18v9.26h-18.18zM1518.47 1608.87h9.09v9.26h-9.09zM1536.64 1608.87h9.09v9.26h-9.09zM1563.91 1608.87h9.09v9.26h-9.09zM391.44 1618.13h9.09v9.27h-9.09zM1336.69 1618.13h9.09v9.27h-9.09zM1536.64 1618.13h9.09v9.27h-9.09zM918.6 1627.4h9.09v9.27h-9.09zM945.87 1627.4h9.09v9.27h-9.09zM1427.58 1627.4h9.09v9.27h-9.09zM1500.29 1627.4h9.09v9.27h-9.09zM1527.56 1627.4h9.08v9.27h-9.08zM864.07 1636.67h9.09v9.26h-9.09zM1000.4 1636.67h9.09v9.26h-9.09zM1045.84 1636.67h9.09v9.26h-9.09zM1100.38 1636.67h9.09v9.26h-9.09zM1154.91 1636.67h36.36v9.26h-36.36zM1200.36 1636.67h9.08v9.26h-9.08zM1254.89 1636.67h18.18v9.26h-18.18zM1291.24 1636.67h9.09v9.26h-9.09zM1318.51 1636.67h9.09v9.26h-9.09zM1400.31 1636.67h9.09v9.26h-9.09zM1427.58 1636.67h9.09v9.26h-9.09zM1454.84 1636.67h18.18v9.26h-18.18zM1518.47 1636.67h9.09v9.26h-9.09zM545.96 1645.93h9.08v9.27h-9.08zM945.87 1645.93h9.09v9.27h-9.09zM1418.49 1645.93h9.09v9.27h-9.09zM1500.29 1645.93h18.18v9.27h-18.18zM1545.73 1645.93h9.09v9.27h-9.09zM864.07 1655.2h9.09v9.27h-9.09zM936.78 1655.2h9.09v9.27h-9.09zM954.96 1655.2h9.08v9.27h-9.08zM982.22 1655.2h9.09v9.27h-9.09zM1000.4 1655.2h9.09v9.27h-9.09zM1045.84 1655.2h9.09v9.27h-9.09zM1064.02 1655.2h9.09v9.27h-9.09zM1091.29 1655.2h9.09v9.27h-9.09zM1136.73 1655.2h18.18v9.27h-18.18zM1164 1655.2h9.09v9.27h-9.09zM1200.36 1655.2h9.08v9.27h-9.08zM1218.53 1655.2h9.09v9.27h-9.09zM1236.71 1655.2h9.09v9.27h-9.09zM1273.07 1655.2h18.17v9.27h-18.17zM1309.42 1655.2h9.09v9.27h-9.09zM1327.6 1655.2h9.09v9.27h-9.09zM1345.78 1655.2h9.09v9.27h-9.09zM1363.96 1655.2h27.26v9.27h-27.26zM1454.84 1655.2h27.27v9.27h-27.27zM1536.64 1655.2h9.09v9.27h-9.09zM1554.82 1655.2h9.09v9.27h-9.09zM945.87 1664.47h9.09v9.26h-9.09zM1091.29 1664.47h9.09v9.26h-9.09zM1200.36 1664.47h9.08v9.26h-9.08zM1391.22 1664.47h9.09v9.26h-9.09zM1545.73 1664.47h9.09v9.26h-9.09zM945.87 1673.73h9.09v9.27h-9.09zM1500.29 1673.73h9.09v9.27h-9.09z"/>
<path fill="#ffcbc7" d="M400.53 432h9.09v9.27h-9.09zM346 487.6h9.09v9.27h-9.09zM409.62 487.6h27.27v9.27h-27.27zM464.16 487.6h9.08v9.27h-9.08zM400.53 496.87h9.09v9.26h-9.09zM400.53 506.13h9.09v9.27h-9.09zM1036.76 506.13h9.08v9.27h-9.08zM400.53 515.4h9.09v9.27h-9.09zM491.42 524.67h9.09v9.26h-9.09zM509.6 524.67h9.09v9.26h-9.09zM536.87 524.67h9.09v9.26h-9.09zM964.04 524.67h9.09v9.26h-9.09zM1009.49 524.67h9.09v9.26h-9.09zM1300.33 524.67h9.09v9.26h-9.09zM400.53 552.47h9.09v9.26h-9.09zM436.89 580.27h9.09v9.26h-9.09zM882.24 580.27h9.09v9.26h-9.09zM436.89 598.8h9.09v9.27h-9.09zM891.33 598.8h9.09v9.27h-9.09zM1082.2 598.8h9.09v9.27h-9.09zM1218.53 598.8h9.09v9.27h-9.09zM436.89 626.6h9.09v9.27h-9.09zM1073.11 635.87h9.09v9.26h-9.09zM1518.47 635.87h9.09v9.26h-9.09zM755 710h9.09v9.27h-9.09zM745.91 728.53h18.18v9.27h-18.18zM745.91 784.13h9.09v9.27h-9.09zM636.84 839.73h9.09v9.27h-9.09zM691.38 839.73h9.09v9.27h-9.09zM618.67 849h9.09v9.27h-9.09zM636.84 849h9.09v9.27h-9.09zM909.51 950.93h9.09v9.27h-9.09zM973.13 950.93h9.09v9.27h-9.09zM1418.49 960.2h9.09v9.27h-9.09zM1436.67 960.2h9.09v9.27h-9.09zM491.42 978.73h9.09v9.27h-9.09zM509.6 988h9.09v9.27h-9.09zM909.51 988h9.09v9.27h-9.09zM964.04 988h9.09v9.27h-9.09zM1045.84 988h9.09v9.27h-9.09zM1109.47 988h9.09v9.27h-9.09zM1127.64 988h9.09v9.27h-9.09zM854.98 1006.53h9.09v9.27h-9.09zM891.33 1006.53h9.09v9.27h-9.09zM1109.47 1006.53h9.09v9.27h-9.09zM936.78 1015.8h9.09v9.27h-9.09zM1045.84 1015.8h9.09v9.27h-9.09zM1064.02 1015.8h9.09v9.27h-9.09zM1091.29 1015.8h18.18v9.27h-18.18zM1136.73 1015.8h9.09v9.27h-9.09zM1154.91 1015.8h9.09v9.27h-9.09zM1173.09 1015.8h18.18v9.27h-18.18zM1200.36 1015.8h45.44v9.27h-45.44zM1263.98 1015.8h9.09v9.27h-9.09zM1291.24 1015.8h9.09v9.27h-9.09zM1345.78 1015.8h9.09v9.27h-9.09zM1373.04 1015.8h18.18v9.27h-18.18zM1482.11 1015.8h9.09v9.27h-9.09zM1527.56 1015.8h9.08v9.27h-9.08zM1554.82 1015.8h9.09v9.27h-9.09zM1054.93 1025.07h9.09v9.26h-9.09zM918.6 1034.33h9.09v9.27h-9.09zM1027.67 1034.33h9.09v9.27h-9.09zM1254.89 1034.33h9.09v9.27h-9.09zM1300.33 1034.33h9.09v9.27h-9.09zM1436.67 1034.33h9.09v9.27h-9.09zM1500.29 1034.33h18.18v9.27h-18.18zM1218.53 1043.6h9.09v9.27h-9.09zM1336.69 1043.6h9.09v9.27h-9.09zM1427.58 1043.6h9.09v9.27h-9.09zM436.89 1062.13h9.09v9.27h-9.09zM891.33 1062.13h9.09v9.27h-9.09zM854.98 1071.4h9.09v9.27h-9.09zM991.31 1080.67h9.09v9.26h-9.09zM1509.38 1080.67h9.09v9.26h-9.09zM982.22 1089.93h9.09v9.27h-9.09zM1064.02 1089.93h9.09v9.27h-9.09zM1100.38 1089.93h9.09v9.27h-9.09zM1136.73 1089.93h27.27v9.27h-27.27zM1173.09 1089.93h45.44v9.27h-45.44zM1227.62 1089.93h27.27v9.27h-27.27zM1263.98 1089.93h9.09v9.27h-9.09zM1282.16 1089.93h18.17v9.27h-18.17zM1309.42 1089.93h27.27v9.27h-27.27zM1345.78 1089.93h9.09v9.27h-9.09zM1363.96 1089.93h36.35v9.27h-36.35zM1218.53 1099.2h9.09v9.27h-9.09zM1254.89 1099.2h9.09v9.27h-9.09zM1336.69 1099.2h9.09v9.27h-9.09zM1436.67 1099.2h9.09v9.27h-9.09zM1509.38 1099.2h9.09v9.27h-9.09zM436.89 1108.47h9.09v9.26h-9.09zM1091.29 1108.47h9.09v9.26h-9.09zM1436.67 1108.47h9.09v9.26h-9.09zM1054.93 1117.73h9.09v9.27h-9.09zM936.78 1127h9.09v9.27h-9.09zM1054.93 1127h9.09v9.27h-9.09zM418.71 1136.27h9.09v9.26h-9.09zM891.33 1145.53h9.09v9.27h-9.09zM918.6 1145.53h9.09v9.27h-9.09zM1082.2 1145.53h9.09v9.27h-9.09zM1127.64 1145.53h9.09v9.27h-9.09zM1254.89 1145.53h9.09v9.27h-9.09zM1436.67 1145.53h9.09v9.27h-9.09zM927.69 1154.8h9.09v9.27h-9.09zM1018.58 1154.8h18.18v9.27h-18.18zM1082.2 1154.8h9.09v9.27h-9.09zM918.6 1164.07h9.09v9.26h-9.09zM991.31 1164.07h9.09v9.26h-9.09zM1073.11 1164.07h9.09v9.26h-9.09zM1254.89 1164.07h9.09v9.26h-9.09zM1336.69 1164.07h9.09v9.26h-9.09zM1509.38 1164.07h9.09v9.26h-9.09zM545.96 1173.33h9.08v9.27h-9.08zM1064.02 1173.33h9.09v9.27h-9.09zM1091.29 1173.33h9.09v9.27h-9.09zM1136.73 1173.33h18.18v9.27h-18.18zM1200.36 1173.33h18.17v9.27h-18.17zM1236.71 1173.33h9.09v9.27h-9.09zM1263.98 1173.33h18.18v9.27h-18.18zM1291.24 1173.33h9.09v9.27h-9.09zM1309.42 1173.33h9.09v9.27h-9.09zM1345.78 1173.33h9.09v9.27h-9.09zM1363.96 1173.33h27.26v9.27h-27.26zM1427.58 1173.33h9.09v9.27h-9.09zM1527.56 1173.33h9.08v9.27h-9.08zM509.6 1182.6h9.09v9.27h-9.09zM1045.84 1182.6h18.18v9.27h-18.18zM918.6 1191.87h9.09v9.26h-9.09zM1009.49 1191.87h9.09v9.26h-9.09zM1073.11 1191.87h9.09v9.26h-9.09zM1273.07 1191.87h9.09v9.26h-9.09zM1300.33 1191.87h9.09v9.26h-9.09zM1436.67 1191.87h9.09v9.26h-9.09zM1509.38 1191.87h9.09v9.26h-9.09zM918.6 1201.13h9.09v9.27h-9.09zM991.31 1201.13h9.09v9.27h-9.09zM1418.49 1201.13h9.09v9.27h-9.09zM1436.67 1201.13h9.09v9.27h-9.09zM1545.73 1201.13h9.09v9.27h-9.09zM891.33 1210.4h9.09v9.27h-9.09zM909.51 1210.4h9.09v9.27h-9.09zM891.33 1228.93h9.09v9.27h-9.09zM1045.84 1228.93h9.09v9.27h-9.09zM1136.73 1228.93h9.09v9.27h-9.09zM1173.09 1228.93h9.09v9.27h-9.09zM918.6 1238.2h9.09v9.27h-9.09zM991.31 1238.2h9.09v9.27h-9.09zM1073.11 1238.2h9.09v9.27h-9.09zM1127.64 1238.2h9.09v9.27h-9.09zM1418.49 1238.2h9.09v9.27h-9.09zM1436.67 1238.2h9.09v9.27h-9.09zM991.31 1247.47h9.09v9.26h-9.09zM1073.11 1247.47h9.09v9.26h-9.09zM1218.53 1247.47h9.09v9.26h-9.09zM1509.38 1247.47h9.09v9.26h-9.09zM918.6 1256.73h9.09v9.27h-9.09zM991.31 1256.73h9.09v9.27h-9.09zM1418.49 1256.73h9.09v9.27h-9.09zM1436.67 1256.73h9.09v9.27h-9.09zM1545.73 1256.73h9.09v9.27h-9.09zM1218.53 1266h9.09v9.27h-9.09zM1254.89 1266h9.09v9.27h-9.09zM1336.69 1266h9.09v9.27h-9.09zM1436.67 1266h9.09v9.27h-9.09zM1509.38 1266h9.09v9.27h-9.09zM918.6 1275.27h9.09v9.26h-9.09zM991.31 1275.27h9.09v9.26h-9.09zM1127.64 1275.27h9.09v9.26h-9.09zM1436.67 1275.27h9.09v9.26h-9.09zM1545.73 1275.27h9.09v9.26h-9.09zM918.6 1284.53h9.09v9.27h-9.09zM991.31 1284.53h9.09v9.27h-9.09zM1418.49 1284.53h9.09v9.27h-9.09zM1436.67 1284.53h9.09v9.27h-9.09zM1545.73 1284.53h9.09v9.27h-9.09zM991.31 1293.8h9.09v9.27h-9.09zM1491.2 1293.8h9.09v9.27h-9.09zM1527.56 1293.8h9.08v9.27h-9.08zM918.6 1303.07h9.09v9.26h-9.09zM991.31 1303.07h9.09v9.26h-9.09zM1073.11 1303.07h9.09v9.26h-9.09zM1436.67 1303.07h9.09v9.26h-9.09zM918.6 1312.33h9.09v9.27h-9.09zM991.31 1312.33h9.09v9.27h-9.09zM1073.11 1312.33h9.09v9.27h-9.09zM1418.49 1312.33h9.09v9.27h-9.09zM1436.67 1312.33h9.09v9.27h-9.09zM1545.73 1312.33h9.09v9.27h-9.09zM509.6 1321.6h9.09v9.27h-9.09zM918.6 1321.6h9.09v9.27h-9.09zM945.87 1321.6h9.09v9.27h-9.09zM1000.4 1321.6h9.09v9.27h-9.09zM1145.82 1321.6h9.09v9.27h-9.09zM1164 1321.6h9.09v9.27h-9.09zM1227.62 1321.6h9.09v9.27h-9.09zM1245.8 1321.6h9.09v9.27h-9.09zM1282.16 1321.6h9.08v9.27h-9.08zM1309.42 1321.6h18.18v9.27h-18.18zM1363.96 1321.6h9.08v9.27h-9.08zM1382.13 1321.6h9.09v9.27h-9.09zM1445.76 1321.6h9.08v9.27h-9.08zM1500.29 1321.6h18.18v9.27h-18.18zM918.6 1330.87h9.09v9.26h-9.09zM991.31 1330.87h9.09v9.26h-9.09zM1218.53 1330.87h9.09v9.26h-9.09zM1354.87 1330.87h9.09v9.26h-9.09zM1436.67 1330.87h9.09v9.26h-9.09zM1545.73 1330.87h9.09v9.26h-9.09zM918.6 1340.13h9.09v9.27h-9.09zM991.31 1340.13h9.09v9.27h-9.09zM1073.11 1340.13h9.09v9.27h-9.09zM1418.49 1340.13h9.09v9.27h-9.09zM1436.67 1340.13h9.09v9.27h-9.09zM991.31 1349.4h9.09v9.27h-9.09zM1218.53 1349.4h9.09v9.27h-9.09zM1436.67 1349.4h9.09v9.27h-9.09zM1491.2 1349.4h9.09v9.27h-9.09zM1527.56 1349.4h9.08v9.27h-9.08zM936.78 1358.67h9.09v9.26h-9.09zM1000.4 1358.67h9.09v9.26h-9.09zM1045.84 1358.67h9.09v9.26h-9.09zM1064.02 1358.67h9.09v9.26h-9.09zM1164 1358.67h9.09v9.26h-9.09zM1282.16 1358.67h9.08v9.26h-9.08zM1327.6 1358.67h9.09v9.26h-9.09zM1427.58 1358.67h9.09v9.26h-9.09zM1536.64 1358.67h9.09v9.26h-9.09zM1563.91 1358.67h9.09v9.26h-9.09zM918.6 1367.93h9.09v9.27h-9.09zM991.31 1367.93h9.09v9.27h-9.09zM1073.11 1367.93h9.09v9.27h-9.09zM1418.49 1367.93h9.09v9.27h-9.09zM1436.67 1367.93h9.09v9.27h-9.09zM1545.73 1367.93h9.09v9.27h-9.09zM1073.11 1377.2h9.09v9.27h-9.09zM1091.29 1377.2h9.09v9.27h-9.09zM1509.38 1377.2h9.09v9.27h-9.09zM991.31 1386.47h9.09v9.26h-9.09zM1218.53 1386.47h9.09v9.26h-9.09zM1254.89 1386.47h9.09v9.26h-9.09zM1336.69 1386.47h9.09v9.26h-9.09zM1509.38 1386.47h9.09v9.26h-9.09zM918.6 1395.73h9.09v9.27h-9.09zM991.31 1395.73h9.09v9.27h-9.09zM1073.11 1395.73h9.09v9.27h-9.09zM1418.49 1395.73h9.09v9.27h-9.09zM1436.67 1395.73h9.09v9.27h-9.09zM1545.73 1395.73h9.09v9.27h-9.09zM436.89 1405h9.09v9.27h-9.09zM936.78 1405h9.09v9.27h-9.09zM1091.29 1405h9.09v9.27h-9.09zM1391.22 1405h9.09v9.27h-9.09zM1436.67 1405h9.09v9.27h-9.09zM991.31 1414.27h9.09v9.26h-9.09zM1073.11 1414.27h9.09v9.26h-9.09zM1218.53 1414.27h9.09v9.26h-9.09zM1418.49 1414.27h9.09v9.26h-9.09zM991.31 1423.53h9.09v9.27h-9.09zM1218.53 1423.53h9.09v9.27h-9.09zM1491.2 1423.53h9.09v9.27h-9.09zM1545.73 1423.53h9.09v9.27h-9.09zM991.31 1432.8h9.09v9.27h-9.09zM1254.89 1432.8h9.09v9.27h-9.09zM945.87 1442.07h9.09v9.26h-9.09zM1000.4 1442.07h9.09v9.26h-9.09zM1064.02 1442.07h9.09v9.26h-9.09zM1164 1442.07h9.09v9.26h-9.09zM1282.16 1442.07h9.08v9.26h-9.08zM1500.29 1442.07h9.09v9.26h-9.09zM918.6 1451.33h9.09v9.27h-9.09zM991.31 1451.33h9.09v9.27h-9.09zM1073.11 1451.33h9.09v9.27h-9.09zM1436.67 1451.33h9.09v9.27h-9.09zM1227.62 1460.6h9.09v9.27h-9.09zM1418.49 1460.6h9.09v9.27h-9.09zM1482.11 1460.6h9.09v9.27h-9.09zM1545.73 1460.6h9.09v9.27h-9.09zM991.31 1469.87h9.09v9.26h-9.09zM1073.11 1469.87h9.09v9.26h-9.09zM1218.53 1469.87h9.09v9.26h-9.09zM1418.49 1469.87h9.09v9.26h-9.09zM1436.67 1469.87h9.09v9.26h-9.09zM918.6 1479.13h9.09v9.27h-9.09zM991.31 1479.13h9.09v9.27h-9.09zM1073.11 1479.13h9.09v9.27h-9.09zM1509.38 1479.13h9.09v9.27h-9.09zM918.6 1488.4h9.09v9.27h-9.09zM991.31 1488.4h9.09v9.27h-9.09zM1073.11 1488.4h9.09v9.27h-9.09zM1218.53 1488.4h9.09v9.27h-9.09zM1418.49 1488.4h9.09v9.27h-9.09zM991.31 1497.67h9.09v9.26h-9.09zM1300.33 1497.67h9.09v9.26h-9.09zM1491.2 1497.67h9.09v9.26h-9.09zM1527.56 1497.67h9.08v9.26h-9.08zM1500.29 1506.93h9.09v9.27h-9.09zM1563.91 1506.93h9.09v9.27h-9.09zM864.07 1525.47h9.09v9.26h-9.09zM1100.38 1525.47h9.09v9.26h-9.09zM1136.73 1525.47h9.09v9.26h-9.09zM1154.91 1525.47h9.09v9.26h-9.09zM1182.18 1525.47h9.09v9.26h-9.09zM1209.44 1525.47h9.09v9.26h-9.09zM1236.71 1525.47h9.09v9.26h-9.09zM1263.98 1525.47h9.09v9.26h-9.09zM1291.24 1525.47h9.09v9.26h-9.09zM1309.42 1525.47h9.09v9.26h-9.09zM1354.87 1525.47h18.17v9.26h-18.17zM1382.13 1525.47h9.09v9.26h-9.09zM1427.58 1525.47h9.09v9.26h-9.09zM1463.93 1525.47h18.18v9.26h-18.18zM945.87 1534.73h9.09v9.27h-9.09zM1073.11 1534.73h9.09v9.27h-9.09zM1254.89 1534.73h9.09v9.27h-9.09zM1418.49 1534.73h9.09v9.27h-9.09zM1436.67 1534.73h9.09v9.27h-9.09zM1500.29 1534.73h9.09v9.27h-9.09zM1536.64 1534.73h18.18v9.27h-18.18zM864.07 1544h9.09v9.27h-9.09zM936.78 1544h9.09v9.27h-9.09zM1000.4 1544h18.18v9.27h-18.18zM1045.84 1544h9.09v9.27h-9.09zM1091.29 1544h18.18v9.27h-18.18zM1136.73 1544h9.09v9.27h-9.09zM1154.91 1544h36.36v9.27h-36.36zM1200.36 1544h18.17v9.27h-18.17zM1227.62 1544h27.27v9.27h-27.27zM1263.98 1544h9.09v9.27h-9.09zM1291.24 1544h18.18v9.27h-18.18zM1345.78 1544h9.09v9.27h-9.09zM1363.96 1544h9.08v9.27h-9.08zM1427.58 1544h9.09v9.27h-9.09zM1463.93 1544h9.09v9.27h-9.09zM1482.11 1544h9.09v9.27h-9.09zM1218.53 1553.27h9.09v9.26h-9.09zM1509.38 1562.53h9.09v9.27h-9.09zM1418.49 1571.8h9.09v9.27h-9.09zM1436.67 1571.8h9.09v9.27h-9.09zM1509.38 1571.8h18.18v9.27h-18.18zM1563.91 1571.8h9.09v9.27h-9.09zM1418.49 1581.07h9.09v9.26h-9.09zM918.6 1590.33h9.09v9.27h-9.09zM1354.87 1590.33h9.09v9.27h-9.09zM1436.67 1590.33h9.09v9.27h-9.09zM1491.2 1590.33h9.09v9.27h-9.09zM1527.56 1590.33h9.08v9.27h-9.08zM1191.27 1599.6h9.09v9.27h-9.09zM1245.8 1599.6h9.09v9.27h-9.09zM1318.51 1599.6h9.09v9.27h-9.09zM1391.22 1599.6h9.09v9.27h-9.09zM1482.11 1599.6h9.09v9.27h-9.09zM1518.47 1599.6h9.09v9.27h-9.09zM1554.82 1599.6h18.18v9.27h-18.18zM936.78 1608.87h9.09v9.26h-9.09zM1218.53 1608.87h9.09v9.26h-9.09zM1336.69 1608.87h9.09v9.26h-9.09zM1400.31 1608.87h9.09v9.26h-9.09zM1427.58 1608.87h9.09v9.26h-9.09zM936.78 1618.13h9.09v9.27h-9.09zM982.22 1618.13h9.09v9.27h-9.09zM1000.4 1618.13h9.09v9.27h-9.09zM1064.02 1618.13h9.09v9.27h-9.09zM1091.29 1618.13h9.09v9.27h-9.09zM1145.82 1618.13h9.09v9.27h-9.09zM1164 1618.13h9.09v9.27h-9.09zM1218.53 1618.13h9.09v9.27h-9.09zM1273.07 1618.13h18.17v9.27h-18.17zM1373.04 1618.13h9.09v9.27h-9.09zM1454.84 1618.13h18.18v9.27h-18.18zM1518.47 1618.13h9.09v9.27h-9.09zM1554.82 1618.13h18.18v9.27h-18.18zM545.96 1627.4h9.08v9.27h-9.08zM1463.93 1627.4h9.09v9.27h-9.09zM1491.2 1627.4h9.09v9.27h-9.09zM1509.38 1627.4h9.09v9.27h-9.09zM1545.73 1627.4h18.18v9.27h-18.18zM918.6 1636.67h9.09v9.26h-9.09zM1073.11 1636.67h9.09v9.26h-9.09zM1191.27 1636.67h9.09v9.26h-9.09zM1245.8 1636.67h9.09v9.26h-9.09zM1391.22 1636.67h9.09v9.26h-9.09zM1482.11 1636.67h9.09v9.26h-9.09zM1554.82 1636.67h9.09v9.26h-9.09zM1254.89 1645.93h9.09v9.27h-9.09zM1427.58 1645.93h9.09v9.27h-9.09zM1100.38 1655.2h9.09v9.27h-9.09zM1154.91 1655.2h9.09v9.27h-9.09zM1173.09 1655.2h18.18v9.27h-18.18zM1209.44 1655.2h9.09v9.27h-9.09zM1227.62 1655.2h9.09v9.27h-9.09zM1263.98 1655.2h9.09v9.27h-9.09zM1291.24 1655.2h9.09v9.27h-9.09zM1318.51 1655.2h9.09v9.27h-9.09zM1354.87 1655.2h9.09v9.27h-9.09zM1427.58 1655.2h9.09v9.27h-9.09zM1518.47 1655.2h9.09v9.27h-9.09zM918.6 1664.47h9.09v9.26h-9.09zM1491.2 1664.47h9.09v9.26h-9.09zM1509.38 1664.47h27.26v9.26h-27.26zM1254.89 1673.73h9.09v9.27h-9.09zM1400.31 1673.73h9.09v9.27h-9.09zM1463.93 1673.73h9.09v9.27h-9.09zM1491.2 1673.73h9.09v9.27h-9.09zM1509.38 1673.73h9.09v9.27h-9.09z"/>
<path fill="#ff958e" d="M364.18 441.27h9.09v9.26h-9.09zM436.89 441.27h9.09v9.26h-9.09zM491.42 441.27h9.09v9.26h-9.09zM882.24 441.27h9.09v9.26h-9.09zM355.09 450.53h9.09v9.27h-9.09zM436.89 450.53h9.09v9.27h-9.09zM882.24 450.53h9.09v9.27h-9.09zM545.96 478.33h9.08v9.27h-9.08zM1545.73 478.33h9.09v9.27h-9.09zM473.24 487.6h18.18v9.27h-18.18zM518.69 487.6h18.18v9.27h-18.18zM555.04 487.6h9.09v9.27h-9.09zM573.22 487.6h9.09v9.27h-9.09zM727.73 487.6h9.09v9.27h-9.09zM436.89 515.4h9.09v9.27h-9.09zM882.24 515.4h9.09v9.27h-9.09zM355.09 524.67h18.18v9.26h-18.18zM427.8 524.67h9.09v9.26h-9.09zM464.16 524.67h9.08v9.26h-9.08zM882.24 524.67h9.09v9.26h-9.09zM1463.93 533.93h9.09v9.27h-9.09zM436.89 552.47h9.09v9.26h-9.09zM491.42 552.47h9.09v9.26h-9.09zM400.53 561.73h9.09v9.27h-9.09zM400.53 571h9.09v9.27h-9.09zM491.42 571h9.09v9.27h-9.09zM355.09 580.27h9.09v9.26h-9.09zM464.16 580.27h9.08v9.26h-9.08zM482.33 580.27h9.09v9.26h-9.09zM527.78 580.27h9.09v9.26h-9.09zM573.22 580.27h9.09v9.26h-9.09zM727.73 580.27h9.09v9.26h-9.09zM536.87 598.8h9.09v9.27h-9.09zM1127.64 598.8h9.09v9.27h-9.09zM1300.33 598.8h9.09v9.27h-9.09zM1554.82 598.8h9.09v9.27h-9.09zM400.53 608.07h9.09v9.26h-9.09zM400.53 617.33h9.09v9.27h-9.09zM491.42 617.33h9.09v9.27h-9.09zM509.6 626.6h9.09v9.27h-9.09zM1554.82 626.6h9.09v9.27h-9.09zM391.44 635.87h9.09v9.26h-9.09zM400.53 645.13h9.09v9.27h-9.09zM400.53 663.67h9.09v9.26h-9.09zM491.42 663.67h9.09v9.26h-9.09zM627.76 682.2h18.17v9.27h-18.17zM609.58 691.47h9.09v9.26h-9.09zM745.91 691.47h9.09v9.26h-9.09zM600.49 700.73h9.09v9.27h-9.09zM591.4 719.27h9.09v9.26h-9.09zM673.2 719.27h9.09v9.26h-9.09zM745.91 719.27h9.09v9.26h-9.09zM591.4 728.53h9.09v9.27h-9.09zM773.18 747.07h9.09v9.26h-9.09zM627.76 765.6h9.08v9.27h-9.08zM773.18 784.13h9.09v9.27h-9.09zM755 793.4h9.09v9.27h-9.09zM773.18 802.67h9.09v9.26h-9.09zM400.53 821.2h9.09v9.27h-9.09zM491.42 821.2h9.09v9.27h-9.09zM600.49 839.73h9.09v9.27h-9.09zM627.76 839.73h9.08v9.27h-9.08zM764.09 839.73h9.09v9.27h-9.09zM700.47 849h9.09v9.27h-9.09zM773.18 849h9.09v9.27h-9.09zM745.91 858.27h9.09v9.26h-9.09zM773.18 858.27h9.09v9.26h-9.09zM655.02 867.53h9.09v9.27h-9.09zM691.38 867.53h9.09v9.27h-9.09zM709.56 867.53h9.08v9.27h-9.08zM755 867.53h18.18v9.27h-18.18zM1118.56 876.8h9.08v9.27h-9.08zM854.98 941.67h9.09v9.26h-9.09zM891.33 941.67h9.09v9.26h-9.09zM909.51 941.67h9.09v9.26h-9.09zM973.13 941.67h9.09v9.26h-9.09zM1109.47 941.67h9.09v9.26h-9.09zM845.89 950.93h9.09v9.27h-9.09zM873.16 950.93h9.08v9.27h-9.08zM1109.47 950.93h9.09v9.27h-9.09zM991.31 960.2h9.09v9.27h-9.09zM1218.53 960.2h9.09v9.27h-9.09zM1254.89 960.2h9.09v9.27h-9.09zM1336.69 960.2h9.09v9.27h-9.09zM1500.29 960.2h18.18v9.27h-18.18zM854.98 969.47h9.09v9.26h-9.09zM891.33 969.47h9.09v9.26h-9.09zM909.51 969.47h9.09v9.26h-9.09zM973.13 969.47h9.09v9.26h-9.09zM355.09 978.73h18.18v9.27h-18.18zM427.8 978.73h18.18v9.27h-18.18zM845.89 988h9.09v9.27h-9.09zM873.16 988h9.08v9.27h-9.08zM973.13 988h9.09v9.27h-9.09zM991.31 997.27h9.09v9.26h-9.09zM845.89 1006.53h9.09v9.27h-9.09zM873.16 1006.53h9.08v9.27h-9.08zM973.13 1006.53h9.09v9.27h-9.09zM1191.27 1015.8h9.09v9.27h-9.09zM1245.8 1015.8h18.18v9.27h-18.18zM1318.51 1015.8h9.09v9.27h-9.09zM1391.22 1015.8h9.09v9.27h-9.09zM1418.49 1015.8h36.35v9.27h-36.35zM1491.2 1015.8h18.18v9.27h-18.18zM1545.73 1015.8h9.09v9.27h-9.09zM991.31 1025.07h9.09v9.26h-9.09zM945.87 1034.33h9.09v9.27h-9.09zM1000.4 1034.33h9.09v9.27h-9.09zM1018.58 1034.33h9.09v9.27h-9.09zM1064.02 1034.33h27.27v9.27h-27.27zM1127.64 1034.33h9.09v9.27h-9.09zM1164 1034.33h9.09v9.27h-9.09zM1191.27 1034.33h9.09v9.27h-9.09zM1218.53 1034.33h18.18v9.27h-18.18zM1245.8 1034.33h9.09v9.27h-9.09zM1273.07 1034.33h18.17v9.27h-18.17zM1445.76 1034.33h9.08v9.27h-9.08zM1482.11 1034.33h9.09v9.27h-9.09zM936.78 1043.6h9.09v9.27h-9.09zM982.22 1043.6h9.09v9.27h-9.09zM1000.4 1043.6h9.09v9.27h-9.09zM1045.84 1043.6h9.09v9.27h-9.09zM1064.02 1043.6h9.09v9.27h-9.09zM1091.29 1043.6h9.09v9.27h-9.09zM1136.73 1043.6h18.18v9.27h-18.18zM1164 1043.6h27.27v9.27h-27.27zM1209.44 1043.6h9.09v9.27h-9.09zM1227.62 1043.6h18.18v9.27h-18.18zM1273.07 1043.6h18.17v9.27h-18.17zM1309.42 1043.6h9.09v9.27h-9.09zM1327.6 1043.6h9.09v9.27h-9.09zM1345.78 1043.6h9.09v9.27h-9.09zM1363.96 1043.6h27.26v9.27h-27.26zM1418.49 1043.6h9.09v9.27h-9.09zM1482.11 1043.6h9.09v9.27h-9.09zM1527.56 1043.6h9.08v9.27h-9.08zM1545.73 1043.6h9.09v9.27h-9.09zM1109.47 1052.87h9.09v9.26h-9.09zM1354.87 1052.87h9.09v9.26h-9.09zM845.89 1071.4h9.09v9.27h-9.09zM873.16 1071.4h9.08v9.27h-9.08zM891.33 1071.4h9.09v9.27h-9.09zM909.51 1071.4h9.09v9.27h-9.09zM1109.47 1071.4h9.09v9.27h-9.09zM945.87 1080.67h9.09v9.26h-9.09zM1000.4 1080.67h9.09v9.26h-9.09zM1064.02 1080.67h9.09v9.26h-9.09zM1164 1080.67h9.09v9.26h-9.09zM1218.53 1080.67h9.09v9.26h-9.09zM1254.89 1080.67h9.09v9.26h-9.09zM1273.07 1080.67h18.17v9.26h-18.17zM1500.29 1080.67h9.09v9.26h-9.09zM864.07 1089.93h9.09v9.27h-9.09zM900.42 1089.93h9.09v9.27h-9.09zM927.69 1089.93h9.09v9.27h-9.09zM1000.4 1089.93h9.09v9.27h-9.09zM936.78 1099.2h18.18v9.27h-18.18zM982.22 1099.2h18.18v9.27h-18.18zM1091.29 1099.2h9.09v9.27h-9.09zM1227.62 1099.2h9.09v9.27h-9.09zM1273.07 1099.2h9.09v9.27h-9.09zM1500.29 1099.2h9.09v9.27h-9.09zM936.78 1117.73h9.09v9.27h-9.09zM1045.84 1117.73h9.09v9.27h-9.09zM945.87 1145.53h9.09v9.27h-9.09zM1018.58 1145.53h9.09v9.27h-9.09zM1073.11 1145.53h9.09v9.27h-9.09zM1091.29 1145.53h9.09v9.27h-9.09zM1164 1145.53h9.09v9.27h-9.09zM1218.53 1145.53h18.18v9.27h-18.18zM1273.07 1145.53h9.09v9.27h-9.09zM1318.51 1145.53h9.09v9.27h-9.09zM1336.69 1145.53h9.09v9.27h-9.09zM1500.29 1145.53h18.18v9.27h-18.18zM936.78 1164.07h18.18v9.26h-18.18zM982.22 1164.07h9.09v9.26h-9.09zM1091.29 1164.07h9.09v9.26h-9.09zM1136.73 1164.07h18.18v9.26h-18.18zM1173.09 1164.07h9.09v9.26h-9.09zM1191.27 1164.07h9.09v9.26h-9.09zM1227.62 1164.07h9.09v9.26h-9.09zM1273.07 1164.07h18.17v9.26h-18.17zM1309.42 1164.07h18.18v9.26h-18.18zM1345.78 1164.07h9.09v9.26h-9.09zM1373.04 1164.07h9.09v9.26h-9.09zM1391.22 1164.07h9.09v9.26h-9.09zM1500.29 1164.07h9.09v9.26h-9.09zM936.78 1173.33h9.09v9.27h-9.09zM1045.84 1173.33h9.09v9.27h-9.09zM1100.38 1173.33h9.09v9.27h-9.09zM1154.91 1173.33h9.09v9.27h-9.09zM1173.09 1173.33h27.27v9.27h-27.27zM1227.62 1173.33h9.09v9.27h-9.09zM1245.8 1173.33h9.09v9.27h-9.09zM1318.51 1173.33h9.09v9.27h-9.09zM1391.22 1173.33h9.09v9.27h-9.09zM1418.49 1173.33h9.09v9.27h-9.09zM1436.67 1173.33h18.17v9.27h-18.17zM1482.11 1173.33h18.18v9.27h-18.18zM1536.64 1173.33h18.18v9.27h-18.18zM1563.91 1173.33h9.09v9.27h-9.09zM936.78 1182.6h9.09v9.27h-9.09zM945.87 1191.87h9.09v9.26h-9.09zM1000.4 1191.87h9.09v9.26h-9.09zM1045.84 1191.87h9.09v9.26h-9.09zM1064.02 1191.87h9.09v9.26h-9.09zM1127.64 1191.87h9.09v9.26h-9.09zM1164 1191.87h9.09v9.26h-9.09zM1191.27 1191.87h9.09v9.26h-9.09zM1209.44 1191.87h9.09v9.26h-9.09zM1227.62 1191.87h36.36v9.26h-36.36zM1282.16 1191.87h9.08v9.26h-9.08zM1309.42 1191.87h18.18v9.26h-18.18zM1363.96 1191.87h9.08v9.26h-9.08zM1382.13 1191.87h9.09v9.26h-9.09zM1445.76 1191.87h9.08v9.26h-9.08zM1482.11 1191.87h9.09v9.26h-9.09zM1500.29 1191.87h9.09v9.26h-9.09zM1073.11 1201.13h9.09v9.27h-9.09zM1218.53 1201.13h9.09v9.27h-9.09zM1254.89 1201.13h9.09v9.27h-9.09zM1336.69 1201.13h9.09v9.27h-9.09zM845.89 1210.4h18.18v9.27h-18.18zM954.96 1210.4h9.08v9.27h-9.08zM973.13 1210.4h9.09v9.27h-9.09zM782.27 1219.67h9.09v9.26h-9.09zM509.6 1228.93h9.09v9.27h-9.09zM936.78 1228.93h9.09v9.27h-9.09zM1091.29 1228.93h9.09v9.27h-9.09zM1182.18 1228.93h9.09v9.27h-9.09zM1200.36 1228.93h9.08v9.27h-9.08zM1345.78 1228.93h9.09v9.27h-9.09zM1391.22 1228.93h9.09v9.27h-9.09zM1436.67 1228.93h9.09v9.27h-9.09zM945.87 1238.2h9.09v9.27h-9.09zM1064.02 1238.2h9.09v9.27h-9.09zM1218.53 1238.2h9.09v9.27h-9.09zM1254.89 1238.2h9.09v9.27h-9.09zM1273.07 1238.2h9.09v9.27h-9.09zM1336.69 1238.2h9.09v9.27h-9.09zM1500.29 1238.2h18.18v9.27h-18.18zM945.87 1247.47h9.09v9.26h-9.09zM1064.02 1247.47h9.09v9.26h-9.09zM1164 1247.47h9.09v9.26h-9.09zM1254.89 1247.47h9.09v9.26h-9.09zM1273.07 1247.47h9.09v9.26h-9.09zM1500.29 1247.47h9.09v9.26h-9.09zM1073.11 1256.73h9.09v9.27h-9.09zM1218.53 1256.73h9.09v9.27h-9.09zM1254.89 1256.73h9.09v9.27h-9.09zM1336.69 1256.73h9.09v9.27h-9.09zM936.78 1266h18.18v9.27h-18.18zM982.22 1266h9.09v9.27h-9.09zM1045.84 1266h9.09v9.27h-9.09zM1091.29 1266h9.09v9.27h-9.09zM1145.82 1266h9.09v9.27h-9.09zM1227.62 1266h9.09v9.27h-9.09zM1273.07 1266h9.09v9.27h-9.09zM1309.42 1266h18.18v9.27h-18.18zM1373.04 1266h9.09v9.27h-9.09zM1445.76 1266h9.08v9.27h-9.08zM1482.11 1266h9.09v9.27h-9.09zM1500.29 1266h9.09v9.27h-9.09zM945.87 1275.27h9.09v9.26h-9.09zM1064.02 1275.27h18.18v9.26h-18.18zM1218.53 1275.27h9.09v9.26h-9.09zM1254.89 1275.27h9.09v9.26h-9.09zM1273.07 1275.27h9.09v9.26h-9.09zM1418.49 1275.27h9.09v9.26h-9.09zM1509.38 1275.27h9.09v9.26h-9.09zM945.87 1284.53h9.09v9.27h-9.09zM1073.11 1284.53h9.09v9.27h-9.09zM1127.64 1284.53h9.09v9.27h-9.09zM1254.89 1284.53h9.09v9.27h-9.09zM1273.07 1284.53h9.09v9.27h-9.09zM1336.69 1284.53h9.09v9.27h-9.09zM1500.29 1284.53h18.18v9.27h-18.18zM918.6 1293.8h9.09v9.27h-9.09zM936.78 1293.8h9.09v9.27h-9.09zM1064.02 1293.8h18.18v9.27h-18.18zM1091.29 1293.8h9.09v9.27h-9.09zM1218.53 1293.8h9.09v9.27h-9.09zM1273.07 1293.8h9.09v9.27h-9.09zM1336.69 1293.8h9.09v9.27h-9.09zM1418.49 1293.8h9.09v9.27h-9.09zM1436.67 1293.8h9.09v9.27h-9.09zM1127.64 1303.07h9.09v9.26h-9.09zM1254.89 1303.07h9.09v9.26h-9.09zM1273.07 1303.07h9.09v9.26h-9.09zM1336.69 1303.07h9.09v9.26h-9.09zM1500.29 1303.07h18.18v9.26h-18.18zM945.87 1312.33h9.09v9.27h-9.09zM1091.29 1312.33h9.09v9.27h-9.09zM1218.53 1312.33h9.09v9.27h-9.09zM1254.89 1312.33h9.09v9.27h-9.09zM1336.69 1312.33h9.09v9.27h-9.09zM1500.29 1312.33h18.18v9.27h-18.18zM864.07 1321.6h9.09v9.27h-9.09zM936.78 1321.6h9.09v9.27h-9.09zM982.22 1321.6h9.09v9.27h-9.09zM1045.84 1321.6h9.09v9.27h-9.09zM1100.38 1321.6h9.09v9.27h-9.09zM1136.73 1321.6h9.09v9.27h-9.09zM1154.91 1321.6h9.09v9.27h-9.09zM1173.09 1321.6h9.09v9.27h-9.09zM1191.27 1321.6h9.09v9.27h-9.09zM1209.44 1321.6h9.09v9.27h-9.09zM1236.71 1321.6h9.09v9.27h-9.09zM1263.98 1321.6h9.09v9.27h-9.09zM1291.24 1321.6h9.09v9.27h-9.09zM1327.6 1321.6h27.27v9.27h-27.27zM1373.04 1321.6h9.09v9.27h-9.09zM1391.22 1321.6h9.09v9.27h-9.09zM1436.67 1321.6h9.09v9.27h-9.09zM936.78 1330.87h18.18v9.26h-18.18zM1000.4 1330.87h9.09v9.26h-9.09zM1045.84 1330.87h9.09v9.26h-9.09zM1064.02 1330.87h18.18v9.26h-18.18zM1091.29 1330.87h9.09v9.26h-9.09zM1164 1330.87h9.09v9.26h-9.09zM1254.89 1330.87h9.09v9.26h-9.09zM1273.07 1330.87h9.09v9.26h-9.09zM1336.69 1330.87h9.09v9.26h-9.09zM1418.49 1330.87h9.09v9.26h-9.09zM1500.29 1330.87h18.18v9.26h-18.18zM945.87 1340.13h9.09v9.27h-9.09zM1091.29 1340.13h9.09v9.27h-9.09zM1218.53 1340.13h9.09v9.27h-9.09zM1254.89 1340.13h9.09v9.27h-9.09zM1273.07 1340.13h9.09v9.27h-9.09zM1336.69 1340.13h9.09v9.27h-9.09zM1500.29 1340.13h18.18v9.27h-18.18zM918.6 1349.4h9.09v9.27h-9.09zM936.78 1349.4h9.09v9.27h-9.09zM1073.11 1349.4h9.09v9.27h-9.09zM1091.29 1349.4h9.09v9.27h-9.09zM1273.07 1349.4h9.09v9.27h-9.09zM1336.69 1349.4h9.09v9.27h-9.09zM1418.49 1349.4h9.09v9.27h-9.09zM1545.73 1349.4h9.09v9.27h-9.09zM864.07 1358.67h9.09v9.26h-9.09zM918.6 1358.67h9.09v9.26h-9.09zM982.22 1358.67h9.09v9.26h-9.09zM1091.29 1358.67h18.18v9.26h-18.18zM1136.73 1358.67h27.27v9.26h-27.27zM1173.09 1358.67h18.18v9.26h-18.18zM1200.36 1358.67h18.17v9.26h-18.17zM1227.62 1358.67h18.18v9.26h-18.18zM1263.98 1358.67h18.18v9.26h-18.18zM1291.24 1358.67h9.09v9.26h-9.09zM1309.42 1358.67h9.09v9.26h-9.09zM1336.69 1358.67h18.18v9.26h-18.18zM1363.96 1358.67h36.35v9.26h-36.35zM1418.49 1358.67h9.09v9.26h-9.09zM1436.67 1358.67h9.09v9.26h-9.09zM1491.2 1358.67h9.09v9.26h-9.09zM1509.38 1358.67h9.09v9.26h-9.09zM1545.73 1358.67h9.09v9.26h-9.09zM1218.53 1367.93h9.09v9.27h-9.09zM1254.89 1367.93h9.09v9.27h-9.09zM1273.07 1367.93h9.09v9.27h-9.09zM1336.69 1367.93h9.09v9.27h-9.09zM1509.38 1367.93h9.09v9.27h-9.09zM936.78 1377.2h18.18v9.27h-18.18zM982.22 1377.2h9.09v9.27h-9.09zM1000.4 1377.2h9.09v9.27h-9.09zM1045.84 1377.2h9.09v9.27h-9.09zM1064.02 1377.2h9.09v9.27h-9.09zM1136.73 1377.2h18.18v9.27h-18.18zM1164 1377.2h45.44v9.27h-45.44zM1227.62 1377.2h45.45v9.27h-45.45zM1282.16 1377.2h9.08v9.27h-9.08zM1318.51 1377.2h18.18v9.27h-18.18zM1345.78 1377.2h9.09v9.27h-9.09zM1363.96 1377.2h18.17v9.27h-18.17zM1391.22 1377.2h9.09v9.27h-9.09zM1445.76 1377.2h9.08v9.27h-9.08zM1482.11 1377.2h9.09v9.27h-9.09zM1500.29 1377.2h9.09v9.27h-9.09zM936.78 1386.47h18.18v9.26h-18.18zM982.22 1386.47h9.09v9.26h-9.09zM1064.02 1386.47h9.09v9.26h-9.09zM1091.29 1386.47h9.09v9.26h-9.09zM1273.07 1386.47h9.09v9.26h-9.09zM1445.76 1386.47h9.08v9.26h-9.08zM1500.29 1386.47h9.09v9.26h-9.09zM1218.53 1395.73h9.09v9.27h-9.09zM1254.89 1395.73h9.09v9.27h-9.09zM1336.69 1395.73h9.09v9.27h-9.09zM1509.38 1395.73h9.09v9.27h-9.09zM509.6 1405h9.09v9.27h-9.09zM945.87 1414.27h9.09v9.26h-9.09zM1064.02 1414.27h9.09v9.26h-9.09zM1091.29 1414.27h9.09v9.26h-9.09zM1164 1414.27h9.09v9.26h-9.09zM1254.89 1414.27h9.09v9.26h-9.09zM1336.69 1414.27h9.09v9.26h-9.09zM1500.29 1414.27h18.18v9.26h-18.18zM918.6 1423.53h9.09v9.27h-9.09zM1045.84 1423.53h9.09v9.27h-9.09zM1064.02 1423.53h18.18v9.27h-18.18zM1091.29 1423.53h9.09v9.27h-9.09zM1164 1423.53h9.09v9.27h-9.09zM1273.07 1423.53h9.09v9.27h-9.09zM1336.69 1423.53h9.09v9.27h-9.09zM1418.49 1423.53h9.09v9.27h-9.09zM1436.67 1423.53h9.09v9.27h-9.09zM945.87 1432.8h9.09v9.27h-9.09zM1218.53 1432.8h9.09v9.27h-9.09zM1273.07 1432.8h9.09v9.27h-9.09zM1336.69 1432.8h9.09v9.27h-9.09zM1500.29 1432.8h18.18v9.27h-18.18zM864.07 1442.07h9.09v9.26h-9.09zM1045.84 1442.07h9.09v9.26h-9.09zM1100.38 1442.07h9.09v9.26h-9.09zM1136.73 1442.07h9.09v9.26h-9.09zM1154.91 1442.07h9.09v9.26h-9.09zM1182.18 1442.07h90.89v9.26h-90.89zM1291.24 1442.07h9.09v9.26h-9.09zM1309.42 1442.07h27.27v9.26h-27.27zM1363.96 1442.07h9.08v9.26h-9.08zM1382.13 1442.07h18.18v9.26h-18.18zM1445.76 1442.07h9.08v9.26h-9.08zM1482.11 1442.07h9.09v9.26h-9.09zM945.87 1451.33h9.09v9.27h-9.09zM1064.02 1451.33h9.09v9.27h-9.09zM1127.64 1451.33h9.09v9.27h-9.09zM1218.53 1451.33h9.09v9.27h-9.09zM1254.89 1451.33h9.09v9.27h-9.09zM1273.07 1451.33h9.09v9.27h-9.09zM1500.29 1451.33h18.18v9.27h-18.18zM954.96 1460.6h9.08v9.27h-9.08zM945.87 1469.87h9.09v9.26h-9.09zM1091.29 1469.87h9.09v9.26h-9.09zM1254.89 1469.87h9.09v9.26h-9.09zM1273.07 1469.87h9.09v9.26h-9.09zM1336.69 1469.87h9.09v9.26h-9.09zM1500.29 1469.87h18.18v9.26h-18.18zM945.87 1479.13h9.09v9.27h-9.09zM1064.02 1479.13h9.09v9.27h-9.09zM1164 1479.13h9.09v9.27h-9.09zM1218.53 1479.13h9.09v9.27h-9.09zM1254.89 1479.13h9.09v9.27h-9.09zM1273.07 1479.13h9.09v9.27h-9.09zM1500.29 1479.13h9.09v9.27h-9.09zM945.87 1488.4h9.09v9.27h-9.09zM1091.29 1488.4h9.09v9.27h-9.09zM1254.89 1488.4h9.09v9.27h-9.09zM1336.69 1488.4h9.09v9.27h-9.09zM1500.29 1488.4h18.18v9.27h-18.18zM918.6 1497.67h9.09v9.26h-9.09zM1064.02 1497.67h18.18v9.26h-18.18zM1127.64 1497.67h9.09v9.26h-9.09zM1218.53 1497.67h9.09v9.26h-9.09zM1254.89 1497.67h9.09v9.26h-9.09zM1273.07 1497.67h9.09v9.26h-9.09zM1336.69 1497.67h9.09v9.26h-9.09zM1418.49 1497.67h9.09v9.26h-9.09zM1436.67 1497.67h9.09v9.26h-9.09zM1545.73 1497.67h9.09v9.26h-9.09zM1427.58 1506.93h18.18v9.27h-18.18zM1491.2 1506.93h9.09v9.27h-9.09zM1509.38 1506.93h9.09v9.27h-9.09zM1545.73 1506.93h9.09v9.27h-9.09zM1527.56 1516.2h9.08v9.27h-9.08zM918.6 1525.47h9.09v9.26h-9.09zM945.87 1525.47h9.09v9.26h-9.09zM1073.11 1525.47h9.09v9.26h-9.09zM1173.09 1525.47h9.09v9.26h-9.09zM1191.27 1525.47h9.09v9.26h-9.09zM1227.62 1525.47h9.09v9.26h-9.09zM1245.8 1525.47h18.18v9.26h-18.18zM1318.51 1525.47h9.09v9.26h-9.09zM1391.22 1525.47h9.09v9.26h-9.09zM1436.67 1525.47h9.09v9.26h-9.09zM1491.2 1525.47h9.09v9.26h-9.09zM918.6 1534.73h9.09v9.27h-9.09zM1400.31 1534.73h9.09v9.27h-9.09zM1463.93 1534.73h9.09v9.27h-9.09zM1509.38 1534.73h9.09v9.27h-9.09zM918.6 1544h9.09v9.27h-9.09zM1073.11 1544h9.09v9.27h-9.09zM1127.64 1544h9.09v9.27h-9.09zM1191.27 1544h9.09v9.27h-9.09zM1218.53 1544h9.09v9.27h-9.09zM1254.89 1544h9.09v9.27h-9.09zM1318.51 1544h9.09v9.27h-9.09zM1391.22 1544h18.18v9.27h-18.18zM1418.49 1544h9.09v9.27h-9.09zM1445.76 1544h9.08v9.27h-9.08zM1518.47 1544h18.17v9.27h-18.17zM918.6 1553.27h9.09v9.26h-9.09zM936.78 1553.27h9.09v9.26h-9.09zM1073.11 1553.27h9.09v9.26h-9.09zM1091.29 1553.27h9.09v9.26h-9.09zM1164 1553.27h9.09v9.26h-9.09zM1273.07 1553.27h18.17v9.26h-18.17zM1336.69 1553.27h9.09v9.26h-9.09zM1436.67 1553.27h9.09v9.26h-9.09zM1491.2 1553.27h9.09v9.26h-9.09zM1527.56 1553.27h9.08v9.26h-9.08zM445.98 1571.8h9.09v9.27h-9.09zM1427.58 1571.8h9.09v9.27h-9.09zM1491.2 1571.8h9.09v9.27h-9.09zM936.78 1590.33h18.18v9.27h-18.18zM1073.11 1590.33h9.09v9.27h-9.09zM1091.29 1590.33h9.09v9.27h-9.09zM1164 1590.33h9.09v9.27h-9.09zM1273.07 1590.33h9.09v9.27h-9.09zM1336.69 1590.33h9.09v9.27h-9.09zM1509.38 1590.33h9.09v9.27h-9.09zM1545.73 1590.33h9.09v9.27h-9.09zM918.6 1599.6h9.09v9.27h-9.09zM1073.11 1599.6h9.09v9.27h-9.09zM1254.89 1599.6h9.09v9.27h-9.09zM1400.31 1599.6h9.09v9.27h-9.09zM1418.49 1599.6h9.09v9.27h-9.09zM1445.76 1599.6h9.08v9.27h-9.08zM1463.93 1599.6h9.09v9.27h-9.09zM1527.56 1599.6h9.08v9.27h-9.08zM864.07 1608.87h9.09v9.26h-9.09zM918.6 1608.87h9.09v9.26h-9.09zM982.22 1608.87h9.09v9.26h-9.09zM1000.4 1608.87h9.09v9.26h-9.09zM1045.84 1608.87h9.09v9.26h-9.09zM1064.02 1608.87h9.09v9.26h-9.09zM1091.29 1608.87h9.09v9.26h-9.09zM1136.73 1608.87h18.18v9.26h-18.18zM1164 1608.87h9.09v9.26h-9.09zM1182.18 1608.87h9.09v9.26h-9.09zM1200.36 1608.87h18.17v9.26h-18.17zM1227.62 1608.87h18.18v9.26h-18.18zM1273.07 1608.87h18.17v9.26h-18.17zM1309.42 1608.87h9.09v9.26h-9.09zM1327.6 1608.87h9.09v9.26h-9.09zM1345.78 1608.87h9.09v9.26h-9.09zM1363.96 1608.87h27.26v9.26h-27.26zM1527.56 1608.87h9.08v9.26h-9.08zM864.07 1618.13h9.09v9.27h-9.09zM1045.84 1618.13h9.09v9.27h-9.09zM1136.73 1618.13h9.09v9.27h-9.09zM1173.09 1618.13h18.18v9.27h-18.18zM1200.36 1618.13h18.17v9.27h-18.17zM1227.62 1618.13h18.18v9.27h-18.18zM1254.89 1618.13h18.18v9.27h-18.18zM1291.24 1618.13h9.09v9.27h-9.09zM1309.42 1618.13h9.09v9.27h-9.09zM1327.6 1618.13h9.09v9.27h-9.09zM1345.78 1618.13h9.09v9.27h-9.09zM1363.96 1618.13h9.08v9.27h-9.08zM1382.13 1618.13h9.09v9.27h-9.09zM1400.31 1618.13h9.09v9.27h-9.09zM1427.58 1618.13h9.09v9.27h-9.09zM1482.11 1618.13h9.09v9.27h-9.09zM1527.56 1618.13h9.08v9.27h-9.08zM1436.67 1627.4h9.09v9.27h-9.09zM945.87 1636.67h9.09v9.26h-9.09zM1409.4 1636.67h9.09v9.26h-9.09zM1436.67 1636.67h18.17v9.26h-18.17zM1491.2 1636.67h27.27v9.26h-27.27zM1545.73 1636.67h9.09v9.26h-9.09zM1073.11 1645.93h9.09v9.27h-9.09zM391.44 1655.2h9.09v9.27h-9.09zM918.6 1655.2h9.09v9.27h-9.09zM945.87 1655.2h9.09v9.27h-9.09zM1073.11 1655.2h9.09v9.27h-9.09zM1245.8 1655.2h18.18v9.27h-18.18zM1391.22 1655.2h18.18v9.27h-18.18zM1482.11 1655.2h9.09v9.27h-9.09zM1527.56 1655.2h9.08v9.27h-9.08zM509.6 1664.47h9.09v9.26h-9.09zM536.87 1664.47h9.09v9.26h-9.09zM1073.11 1673.73h9.09v9.27h-9.09z"/>
<path fill="#ff5a50" d="M355.09 432h18.18v9.27h-18.18zM436.89 432h9.09v9.27h-9.09zM882.24 432h9.09v9.27h-9.09zM346 441.27h9.09v9.26h-9.09zM409.62 441.27h27.27v9.26h-27.27zM464.16 441.27h9.08v9.26h-9.08zM482.33 441.27h9.09v9.26h-9.09zM518.69 441.27h18.18v9.26h-18.18zM555.04 441.27h9.09v9.26h-9.09zM573.22 441.27h9.09v9.26h-9.09zM727.73 441.27h9.09v9.26h-9.09zM346 450.53h9.09v9.27h-9.09zM409.62 450.53h27.27v9.27h-27.27zM464.16 450.53h9.08v9.27h-9.08zM482.33 450.53h18.18v9.27h-18.18zM518.69 450.53h18.18v9.27h-18.18zM555.04 450.53h9.09v9.27h-9.09zM573.22 450.53h9.09v9.27h-9.09zM727.73 450.53h9.09v9.27h-9.09zM1400.31 478.33h9.09v9.27h-9.09zM1518.47 478.33h9.09v9.27h-9.09zM355.09 496.87h18.18v9.26h-18.18zM436.89 496.87h9.09v9.26h-9.09zM491.42 496.87h9.09v9.26h-9.09zM882.24 496.87h9.09v9.26h-9.09zM355.09 506.13h18.18v9.27h-18.18zM436.89 506.13h9.09v9.27h-9.09zM491.42 506.13h9.09v9.27h-9.09zM882.24 506.13h9.09v9.27h-9.09zM355.09 515.4h18.18v9.27h-18.18zM464.16 515.4h9.08v9.27h-9.08zM491.42 515.4h9.09v9.27h-9.09zM346 524.67h9.09v9.26h-9.09zM409.62 524.67h18.18v9.26h-18.18zM482.33 524.67h9.09v9.26h-9.09zM518.69 524.67h18.18v9.26h-18.18zM555.04 524.67h9.09v9.26h-9.09zM573.22 524.67h9.09v9.26h-9.09zM727.73 524.67h9.09v9.26h-9.09zM355.09 552.47h18.18v9.26h-18.18zM427.8 552.47h9.09v9.26h-9.09zM882.24 552.47h9.09v9.26h-9.09zM355.09 571h18.18v9.27h-18.18zM436.89 571h9.09v9.27h-9.09zM882.24 571h9.09v9.27h-9.09zM364.18 580.27h9.09v9.26h-9.09zM409.62 580.27h27.27v9.26h-27.27zM518.69 580.27h9.09v9.26h-9.09zM555.04 580.27h9.09v9.26h-9.09zM964.04 598.8h9.09v9.27h-9.09zM1009.49 598.8h9.09v9.27h-9.09zM355.09 608.07h18.18v9.26h-18.18zM436.89 608.07h9.09v9.26h-9.09zM491.42 608.07h9.09v9.26h-9.09zM882.24 608.07h9.09v9.26h-9.09zM355.09 617.33h18.18v9.27h-18.18zM436.89 617.33h9.09v9.27h-9.09zM882.24 617.33h9.09v9.27h-9.09zM1218.53 626.6h9.09v9.27h-9.09zM355.09 645.13h18.18v9.27h-18.18zM436.89 645.13h9.09v9.27h-9.09zM491.42 645.13h9.09v9.27h-9.09zM882.24 645.13h9.09v9.27h-9.09zM355.09 663.67h18.18v9.26h-18.18zM436.89 663.67h9.09v9.26h-9.09zM882.24 663.67h9.09v9.26h-9.09zM673.2 682.2h9.09v9.27h-9.09zM627.76 691.47h9.08v9.26h-9.08zM745.91 700.73h9.09v9.27h-9.09zM600.49 719.27h9.09v9.26h-9.09zM636.84 719.27h9.09v9.26h-9.09zM627.76 728.53h9.08v9.27h-9.08zM673.2 728.53h9.09v9.27h-9.09zM709.56 747.07h9.08v9.26h-9.08zM591.4 765.6h9.09v9.27h-9.09zM636.84 765.6h9.09v9.27h-9.09zM709.56 784.13h9.08v9.27h-9.08zM655.02 802.67h9.09v9.26h-9.09zM691.38 802.67h9.09v9.26h-9.09zM791.36 811.93h9.08v9.27h-9.08zM355.09 821.2h18.18v9.27h-18.18zM436.89 821.2h9.09v9.27h-9.09zM882.24 821.2h9.09v9.27h-9.09zM609.58 839.73h9.09v9.27h-9.09zM718.64 886.07h9.09v9.26h-9.09zM800.44 886.07h9.09v9.26h-9.09zM791.36 895.33h9.08v9.27h-9.08zM827.71 913.87h9.09v9.26h-9.09zM818.62 923.13h9.09v9.27h-9.09zM873.16 941.67h9.08v9.26h-9.08zM891.33 950.93h9.09v9.27h-9.09zM936.78 960.2h18.18v9.27h-18.18zM982.22 960.2h9.09v9.27h-9.09zM1000.4 960.2h9.09v9.27h-9.09zM1045.84 960.2h9.09v9.27h-9.09zM1064.02 960.2h9.09v9.27h-9.09zM1091.29 960.2h9.09v9.27h-9.09zM1164 960.2h9.09v9.27h-9.09zM1227.62 960.2h9.09v9.27h-9.09zM1273.07 960.2h18.17v9.27h-18.17zM1318.51 960.2h9.09v9.27h-9.09zM1445.76 960.2h9.08v9.27h-9.08zM1482.11 960.2h9.09v9.27h-9.09zM845.89 969.47h9.09v9.26h-9.09zM1109.47 969.47h9.09v9.26h-9.09zM346 978.73h9.09v9.27h-9.09zM409.62 978.73h18.18v9.27h-18.18zM464.16 978.73h9.08v9.27h-9.08zM482.33 978.73h9.09v9.27h-9.09zM518.69 978.73h18.18v9.27h-18.18zM555.04 978.73h9.09v9.27h-9.09zM573.22 978.73h9.09v9.27h-9.09zM727.73 978.73h9.09v9.27h-9.09zM854.98 988h9.09v9.27h-9.09zM927.69 997.27h9.09v9.26h-9.09zM1018.58 997.27h9.09v9.26h-9.09zM1054.93 997.27h9.09v9.26h-9.09zM945.87 1015.8h9.09v9.27h-9.09zM1509.38 1015.8h9.09v9.27h-9.09zM1536.64 1015.8h9.09v9.27h-9.09zM1563.91 1015.8h9.09v9.27h-9.09zM900.42 1025.07h9.09v9.26h-9.09zM1018.58 1025.07h9.09v9.26h-9.09zM864.07 1034.33h9.09v9.27h-9.09zM982.22 1034.33h18.18v9.27h-18.18zM1091.29 1034.33h18.18v9.27h-18.18zM1136.73 1034.33h27.27v9.27h-27.27zM1173.09 1034.33h18.18v9.27h-18.18zM1200.36 1034.33h18.17v9.27h-18.17zM1236.71 1034.33h9.09v9.27h-9.09zM1263.98 1034.33h9.09v9.27h-9.09zM1291.24 1034.33h9.09v9.27h-9.09zM1309.42 1034.33h36.36v9.27h-36.36zM1363.96 1034.33h36.35v9.27h-36.35zM864.07 1043.6h9.09v9.27h-9.09zM918.6 1043.6h9.09v9.27h-9.09zM1073.11 1043.6h9.09v9.27h-9.09zM1100.38 1043.6h9.09v9.27h-9.09zM1154.91 1043.6h9.09v9.27h-9.09zM1191.27 1043.6h18.17v9.27h-18.17zM1245.8 1043.6h27.27v9.27h-27.27zM1291.24 1043.6h9.09v9.27h-9.09zM1318.51 1043.6h9.09v9.27h-9.09zM1391.22 1043.6h9.09v9.27h-9.09zM1436.67 1043.6h18.17v9.27h-18.17zM1491.2 1043.6h9.09v9.27h-9.09zM509.6 1062.13h9.09v9.27h-9.09zM1218.53 1062.13h9.09v9.27h-9.09zM1554.82 1062.13h9.09v9.27h-9.09zM864.07 1080.67h9.09v9.26h-9.09zM936.78 1080.67h9.09v9.26h-9.09zM1045.84 1080.67h9.09v9.26h-9.09zM1100.38 1080.67h9.09v9.26h-9.09zM1136.73 1080.67h9.09v9.26h-9.09zM1154.91 1080.67h9.09v9.26h-9.09zM1182.18 1080.67h36.35v9.26h-36.35zM1227.62 1080.67h27.27v9.26h-27.27zM1263.98 1080.67h9.09v9.26h-9.09zM1291.24 1080.67h9.09v9.26h-9.09zM1309.42 1080.67h27.27v9.26h-27.27zM1363.96 1080.67h9.08v9.26h-9.08zM1382.13 1080.67h18.18v9.26h-18.18zM1445.76 1080.67h9.08v9.26h-9.08zM1482.11 1080.67h9.09v9.26h-9.09zM936.78 1089.93h9.09v9.27h-9.09zM1018.58 1089.93h18.18v9.27h-18.18zM1045.84 1089.93h9.09v9.27h-9.09zM1082.2 1089.93h9.09v9.27h-9.09zM864.07 1099.2h9.09v9.27h-9.09zM1045.84 1099.2h9.09v9.27h-9.09zM1064.02 1099.2h9.09v9.27h-9.09zM1100.38 1099.2h9.09v9.27h-9.09zM1136.73 1099.2h27.27v9.27h-27.27zM1173.09 1099.2h27.27v9.27h-27.27zM1209.44 1099.2h9.09v9.27h-9.09zM1245.8 1099.2h9.09v9.27h-9.09zM1263.98 1099.2h9.09v9.27h-9.09zM1282.16 1099.2h9.08v9.27h-9.08zM1309.42 1099.2h27.27v9.27h-27.27zM1345.78 1099.2h9.09v9.27h-9.09zM1363.96 1099.2h36.35v9.27h-36.35zM1445.76 1099.2h9.08v9.27h-9.08zM1482.11 1099.2h9.09v9.27h-9.09zM509.6 1108.47h9.09v9.26h-9.09zM1218.53 1108.47h9.09v9.26h-9.09zM1554.82 1108.47h9.09v9.26h-9.09zM900.42 1117.73h9.09v9.27h-9.09zM927.69 1117.73h9.09v9.27h-9.09zM991.31 1117.73h9.09v9.27h-9.09zM991.31 1127h9.09v9.27h-9.09zM864.07 1145.53h9.09v9.27h-9.09zM982.22 1145.53h27.27v9.27h-27.27zM1064.02 1145.53h9.09v9.27h-9.09zM1100.38 1145.53h9.09v9.27h-9.09zM1136.73 1145.53h27.27v9.27h-27.27zM1173.09 1145.53h45.44v9.27h-45.44zM1236.71 1145.53h18.18v9.27h-18.18zM1263.98 1145.53h9.09v9.27h-9.09zM1282.16 1145.53h18.17v9.27h-18.17zM1309.42 1145.53h9.09v9.27h-9.09zM1327.6 1145.53h9.09v9.27h-9.09zM1345.78 1145.53h9.09v9.27h-9.09zM1363.96 1145.53h36.35v9.27h-36.35zM1445.76 1145.53h9.08v9.27h-9.08zM1482.11 1145.53h9.09v9.27h-9.09zM900.42 1154.8h9.09v9.27h-9.09zM864.07 1164.07h9.09v9.26h-9.09zM1000.4 1164.07h9.09v9.26h-9.09zM1045.84 1164.07h9.09v9.26h-9.09zM1100.38 1164.07h9.09v9.26h-9.09zM1154.91 1164.07h18.18v9.26h-18.18zM1182.18 1164.07h9.09v9.26h-9.09zM1200.36 1164.07h18.17v9.26h-18.17zM1236.71 1164.07h18.18v9.26h-18.18zM1263.98 1164.07h9.09v9.26h-9.09zM1291.24 1164.07h9.09v9.26h-9.09zM1327.6 1164.07h9.09v9.26h-9.09zM1363.96 1164.07h9.08v9.26h-9.08zM1382.13 1164.07h9.09v9.26h-9.09zM1445.76 1164.07h9.08v9.26h-9.08zM1482.11 1164.07h9.09v9.26h-9.09zM945.87 1173.33h9.09v9.27h-9.09zM1254.89 1173.33h9.09v9.27h-9.09zM1500.29 1173.33h18.18v9.27h-18.18zM991.31 1182.6h9.09v9.27h-9.09zM864.07 1191.87h9.09v9.26h-9.09zM936.78 1191.87h9.09v9.26h-9.09zM1100.38 1191.87h9.09v9.26h-9.09zM1136.73 1191.87h27.27v9.26h-27.27zM1173.09 1191.87h18.18v9.26h-18.18zM1200.36 1191.87h9.08v9.26h-9.08zM1218.53 1191.87h9.09v9.26h-9.09zM1263.98 1191.87h9.09v9.26h-9.09zM1291.24 1191.87h9.09v9.26h-9.09zM1327.6 1191.87h9.09v9.26h-9.09zM1391.22 1191.87h9.09v9.26h-9.09zM936.78 1201.13h18.18v9.27h-18.18zM982.22 1201.13h9.09v9.27h-9.09zM1000.4 1201.13h9.09v9.27h-9.09zM1045.84 1201.13h9.09v9.27h-9.09zM1064.02 1201.13h9.09v9.27h-9.09zM1091.29 1201.13h9.09v9.27h-9.09zM1164 1201.13h9.09v9.27h-9.09zM1227.62 1201.13h9.09v9.27h-9.09zM1273.07 1201.13h9.09v9.27h-9.09zM1500.29 1201.13h18.18v9.27h-18.18zM873.16 1210.4h9.08v9.27h-9.08zM1554.82 1228.93h9.09v9.27h-9.09zM936.78 1238.2h9.09v9.27h-9.09zM982.22 1238.2h9.09v9.27h-9.09zM1000.4 1238.2h9.09v9.27h-9.09zM1045.84 1238.2h9.09v9.27h-9.09zM1091.29 1238.2h9.09v9.27h-9.09zM1164 1238.2h9.09v9.27h-9.09zM1227.62 1238.2h9.09v9.27h-9.09zM1282.16 1238.2h9.08v9.27h-9.08zM1318.51 1238.2h9.09v9.27h-9.09zM936.78 1247.47h9.09v9.26h-9.09zM1000.4 1247.47h9.09v9.26h-9.09zM1045.84 1247.47h9.09v9.26h-9.09zM1091.29 1247.47h9.09v9.26h-9.09zM1182.18 1247.47h36.35v9.26h-36.35zM1227.62 1247.47h27.27v9.26h-27.27zM1263.98 1247.47h9.09v9.26h-9.09zM1282.16 1247.47h9.08v9.26h-9.08zM1309.42 1247.47h27.27v9.26h-27.27zM1363.96 1247.47h9.08v9.26h-9.08zM1382.13 1247.47h18.18v9.26h-18.18zM1445.76 1247.47h9.08v9.26h-9.08zM1482.11 1247.47h9.09v9.26h-9.09zM936.78 1256.73h18.18v9.27h-18.18zM982.22 1256.73h9.09v9.27h-9.09zM1000.4 1256.73h9.09v9.27h-9.09zM1045.84 1256.73h9.09v9.27h-9.09zM1064.02 1256.73h9.09v9.27h-9.09zM1091.29 1256.73h9.09v9.27h-9.09zM1164 1256.73h9.09v9.27h-9.09zM1227.62 1256.73h9.09v9.27h-9.09zM1273.07 1256.73h18.17v9.27h-18.17zM1500.29 1256.73h18.18v9.27h-18.18zM864.07 1266h9.09v9.27h-9.09zM1064.02 1266h9.09v9.27h-9.09zM1100.38 1266h9.09v9.27h-9.09zM1136.73 1266h9.09v9.27h-9.09zM1154.91 1266h9.09v9.27h-9.09zM1173.09 1266h27.27v9.27h-27.27zM1209.44 1266h9.09v9.27h-9.09zM1245.8 1266h9.09v9.27h-9.09zM1263.98 1266h9.09v9.27h-9.09zM1282.16 1266h18.17v9.27h-18.17zM1327.6 1266h9.09v9.27h-9.09zM1345.78 1266h9.09v9.27h-9.09zM1363.96 1266h9.08v9.27h-9.08zM1382.13 1266h18.18v9.27h-18.18zM936.78 1275.27h9.09v9.26h-9.09zM1000.4 1275.27h9.09v9.26h-9.09zM1045.84 1275.27h9.09v9.26h-9.09zM1091.29 1275.27h9.09v9.26h-9.09zM1164 1275.27h9.09v9.26h-9.09zM1227.62 1275.27h9.09v9.26h-9.09zM1282.16 1275.27h9.08v9.26h-9.08zM1318.51 1275.27h9.09v9.26h-9.09zM1336.69 1275.27h9.09v9.26h-9.09zM1500.29 1275.27h9.09v9.26h-9.09zM936.78 1284.53h9.09v9.27h-9.09zM982.22 1284.53h9.09v9.27h-9.09zM1000.4 1284.53h9.09v9.27h-9.09zM1045.84 1284.53h9.09v9.27h-9.09zM1064.02 1284.53h9.09v9.27h-9.09zM1091.29 1284.53h9.09v9.27h-9.09zM1145.82 1284.53h9.09v9.27h-9.09zM1164 1284.53h9.09v9.27h-9.09zM1218.53 1284.53h18.18v9.27h-18.18zM1282.16 1284.53h9.08v9.27h-9.08zM1318.51 1284.53h9.09v9.27h-9.09zM1445.76 1284.53h9.08v9.27h-9.08zM945.87 1293.8h9.09v9.27h-9.09zM982.22 1293.8h9.09v9.27h-9.09zM1000.4 1293.8h9.09v9.27h-9.09zM1045.84 1293.8h9.09v9.27h-9.09zM1145.82 1293.8h9.09v9.27h-9.09zM1164 1293.8h9.09v9.27h-9.09zM1200.36 1293.8h9.08v9.27h-9.08zM1227.62 1293.8h9.09v9.27h-9.09zM1254.89 1293.8h9.09v9.27h-9.09zM1282.16 1293.8h9.08v9.27h-9.08zM1318.51 1293.8h9.09v9.27h-9.09zM1345.78 1293.8h9.09v9.27h-9.09zM1363.96 1293.8h18.17v9.27h-18.17zM1509.38 1293.8h9.09v9.27h-9.09zM1545.73 1293.8h9.09v9.27h-9.09zM936.78 1303.07h18.18v9.26h-18.18zM982.22 1303.07h9.09v9.26h-9.09zM1045.84 1303.07h9.09v9.26h-9.09zM1064.02 1303.07h9.09v9.26h-9.09zM1091.29 1303.07h9.09v9.26h-9.09zM1145.82 1303.07h9.09v9.26h-9.09zM1191.27 1303.07h9.09v9.26h-9.09zM1218.53 1303.07h18.18v9.26h-18.18zM1282.16 1303.07h9.08v9.26h-9.08zM1318.51 1303.07h9.09v9.26h-9.09zM1373.04 1303.07h9.09v9.26h-9.09zM1445.76 1303.07h9.08v9.26h-9.08zM1482.11 1303.07h9.09v9.26h-9.09zM936.78 1312.33h9.09v9.27h-9.09zM982.22 1312.33h9.09v9.27h-9.09zM1000.4 1312.33h9.09v9.27h-9.09zM1045.84 1312.33h9.09v9.27h-9.09zM1064.02 1312.33h9.09v9.27h-9.09zM1145.82 1312.33h9.09v9.27h-9.09zM1164 1312.33h9.09v9.27h-9.09zM1227.62 1312.33h9.09v9.27h-9.09zM1273.07 1312.33h18.17v9.27h-18.17zM536.87 1321.6h9.09v9.27h-9.09zM964.04 1321.6h9.09v9.27h-9.09zM1009.49 1321.6h9.09v9.27h-9.09zM1091.29 1321.6h9.09v9.27h-9.09zM1182.18 1321.6h9.09v9.27h-9.09zM1200.36 1321.6h9.08v9.27h-9.08zM1554.82 1321.6h9.09v9.27h-9.09zM864.07 1330.87h9.09v9.26h-9.09zM982.22 1330.87h9.09v9.26h-9.09zM1100.38 1330.87h9.09v9.26h-9.09zM1136.73 1330.87h27.27v9.26h-27.27zM1173.09 1330.87h45.44v9.26h-45.44zM1236.71 1330.87h18.18v9.26h-18.18zM1263.98 1330.87h9.09v9.26h-9.09zM1282.16 1330.87h18.17v9.26h-18.17zM1309.42 1330.87h27.27v9.26h-27.27zM1345.78 1330.87h9.09v9.26h-9.09zM1382.13 1330.87h18.18v9.26h-18.18zM1482.11 1330.87h9.09v9.26h-9.09zM936.78 1340.13h9.09v9.27h-9.09zM982.22 1340.13h9.09v9.27h-9.09zM1045.84 1340.13h9.09v9.27h-9.09zM1064.02 1340.13h9.09v9.27h-9.09zM1145.82 1340.13h9.09v9.27h-9.09zM1227.62 1340.13h9.09v9.27h-9.09zM1282.16 1340.13h9.08v9.27h-9.08zM1318.51 1340.13h9.09v9.27h-9.09zM1445.76 1340.13h9.08v9.27h-9.08zM1482.11 1340.13h9.09v9.27h-9.09zM945.87 1349.4h9.09v9.27h-9.09zM982.22 1349.4h9.09v9.27h-9.09zM1000.4 1349.4h9.09v9.27h-9.09zM1045.84 1349.4h9.09v9.27h-9.09zM1064.02 1349.4h9.09v9.27h-9.09zM1145.82 1349.4h9.09v9.27h-9.09zM1164 1349.4h9.09v9.27h-9.09zM1227.62 1349.4h9.09v9.27h-9.09zM1254.89 1349.4h9.09v9.27h-9.09zM1282.16 1349.4h9.08v9.27h-9.08zM1509.38 1349.4h9.09v9.27h-9.09zM945.87 1358.67h9.09v9.26h-9.09zM1073.11 1358.67h9.09v9.26h-9.09zM1191.27 1358.67h9.09v9.26h-9.09zM1245.8 1358.67h9.09v9.26h-9.09zM1318.51 1358.67h9.09v9.26h-9.09zM1445.76 1358.67h9.08v9.26h-9.08zM1482.11 1358.67h9.09v9.26h-9.09zM1500.29 1358.67h9.09v9.26h-9.09zM936.78 1367.93h18.18v9.27h-18.18zM982.22 1367.93h9.09v9.27h-9.09zM1000.4 1367.93h9.09v9.27h-9.09zM1045.84 1367.93h9.09v9.27h-9.09zM1064.02 1367.93h9.09v9.27h-9.09zM1091.29 1367.93h9.09v9.27h-9.09zM1145.82 1367.93h9.09v9.27h-9.09zM1164 1367.93h9.09v9.27h-9.09zM1227.62 1367.93h9.09v9.27h-9.09zM1282.16 1367.93h9.08v9.27h-9.08zM1318.51 1367.93h9.09v9.27h-9.09zM1500.29 1367.93h9.09v9.27h-9.09zM864.07 1377.2h9.09v9.27h-9.09zM1100.38 1377.2h9.09v9.27h-9.09zM1154.91 1377.2h9.09v9.27h-9.09zM1209.44 1377.2h9.09v9.27h-9.09zM1291.24 1377.2h9.09v9.27h-9.09zM1309.42 1377.2h9.09v9.27h-9.09zM1382.13 1377.2h9.09v9.27h-9.09zM864.07 1386.47h9.09v9.26h-9.09zM1000.4 1386.47h9.09v9.26h-9.09zM1045.84 1386.47h9.09v9.26h-9.09zM1136.73 1386.47h81.8v9.26h-81.8zM1227.62 1386.47h27.27v9.26h-27.27zM1263.98 1386.47h9.09v9.26h-9.09zM1291.24 1386.47h9.09v9.26h-9.09zM1309.42 1386.47h27.27v9.26h-27.27zM1345.78 1386.47h9.09v9.26h-9.09zM1363.96 1386.47h36.35v9.26h-36.35zM1482.11 1386.47h9.09v9.26h-9.09zM936.78 1395.73h18.18v9.27h-18.18zM982.22 1395.73h9.09v9.27h-9.09zM1045.84 1395.73h9.09v9.27h-9.09zM1064.02 1395.73h9.09v9.27h-9.09zM1091.29 1395.73h9.09v9.27h-9.09zM1164 1395.73h9.09v9.27h-9.09zM1227.62 1395.73h9.09v9.27h-9.09zM1273.07 1395.73h18.17v9.27h-18.17zM1482.11 1395.73h9.09v9.27h-9.09zM1500.29 1395.73h9.09v9.27h-9.09zM1554.82 1405h9.09v9.27h-9.09zM936.78 1414.27h9.09v9.26h-9.09zM982.22 1414.27h9.09v9.26h-9.09zM1000.4 1414.27h9.09v9.26h-9.09zM1045.84 1414.27h9.09v9.26h-9.09zM1145.82 1414.27h9.09v9.26h-9.09zM1227.62 1414.27h9.09v9.26h-9.09zM1273.07 1414.27h18.17v9.26h-18.17zM1318.51 1414.27h9.09v9.26h-9.09zM1345.78 1414.27h9.09v9.26h-9.09zM1373.04 1414.27h9.09v9.26h-9.09zM1445.76 1414.27h9.08v9.26h-9.08zM1482.11 1414.27h9.09v9.26h-9.09zM864.07 1423.53h9.09v9.27h-9.09zM936.78 1423.53h18.18v9.27h-18.18zM982.22 1423.53h9.09v9.27h-9.09zM1000.4 1423.53h9.09v9.27h-9.09zM1136.73 1423.53h18.18v9.27h-18.18zM1173.09 1423.53h36.35v9.27h-36.35zM1227.62 1423.53h18.18v9.27h-18.18zM1254.89 1423.53h18.18v9.27h-18.18zM1282.16 1423.53h9.08v9.27h-9.08zM1309.42 1423.53h9.09v9.27h-9.09zM1327.6 1423.53h9.09v9.27h-9.09zM1345.78 1423.53h9.09v9.27h-9.09zM1363.96 1423.53h36.35v9.27h-36.35zM1445.76 1423.53h9.08v9.27h-9.08zM1482.11 1423.53h9.09v9.27h-9.09zM1500.29 1423.53h18.18v9.27h-18.18zM936.78 1432.8h9.09v9.27h-9.09zM982.22 1432.8h9.09v9.27h-9.09zM1000.4 1432.8h9.09v9.27h-9.09zM1045.84 1432.8h9.09v9.27h-9.09zM1064.02 1432.8h9.09v9.27h-9.09zM1091.29 1432.8h9.09v9.27h-9.09zM1145.82 1432.8h9.09v9.27h-9.09zM1164 1432.8h9.09v9.27h-9.09zM1227.62 1432.8h9.09v9.27h-9.09zM1282.16 1432.8h9.08v9.27h-9.08zM1318.51 1432.8h9.09v9.27h-9.09zM1445.76 1432.8h9.08v9.27h-9.08zM1482.11 1432.8h9.09v9.27h-9.09zM936.78 1442.07h9.09v9.26h-9.09zM1173.09 1442.07h9.09v9.26h-9.09zM1373.04 1442.07h9.09v9.26h-9.09zM1000.4 1451.33h9.09v9.27h-9.09zM1045.84 1451.33h9.09v9.27h-9.09zM1164 1451.33h9.09v9.27h-9.09zM1191.27 1451.33h9.09v9.27h-9.09zM1227.62 1451.33h9.09v9.27h-9.09zM1282.16 1451.33h9.08v9.27h-9.08zM1309.42 1451.33h18.18v9.27h-18.18zM1363.96 1451.33h9.08v9.27h-9.08zM1382.13 1451.33h9.09v9.27h-9.09zM1445.76 1451.33h9.08v9.27h-9.08zM1482.11 1451.33h9.09v9.27h-9.09zM936.78 1469.87h9.09v9.26h-9.09zM982.22 1469.87h9.09v9.26h-9.09zM1000.4 1469.87h9.09v9.26h-9.09zM1045.84 1469.87h9.09v9.26h-9.09zM1064.02 1469.87h9.09v9.26h-9.09zM1145.82 1469.87h9.09v9.26h-9.09zM1164 1469.87h9.09v9.26h-9.09zM1191.27 1469.87h9.09v9.26h-9.09zM1282.16 1469.87h9.08v9.26h-9.08zM1318.51 1469.87h9.09v9.26h-9.09zM1345.78 1469.87h9.09v9.26h-9.09zM1445.76 1469.87h9.08v9.26h-9.08zM1482.11 1469.87h9.09v9.26h-9.09zM936.78 1479.13h9.09v9.27h-9.09zM1000.4 1479.13h9.09v9.27h-9.09zM1045.84 1479.13h9.09v9.27h-9.09zM1191.27 1479.13h18.17v9.27h-18.17zM1282.16 1479.13h9.08v9.27h-9.08zM1309.42 1479.13h18.18v9.27h-18.18zM1336.69 1479.13h9.09v9.27h-9.09zM1382.13 1479.13h18.18v9.27h-18.18zM1445.76 1479.13h9.08v9.27h-9.08zM1482.11 1479.13h9.09v9.27h-9.09zM936.78 1488.4h9.09v9.27h-9.09zM982.22 1488.4h9.09v9.27h-9.09zM1000.4 1488.4h9.09v9.27h-9.09zM1045.84 1488.4h9.09v9.27h-9.09zM1064.02 1488.4h9.09v9.27h-9.09zM1145.82 1488.4h9.09v9.27h-9.09zM1164 1488.4h9.09v9.27h-9.09zM1227.62 1488.4h9.09v9.27h-9.09zM1273.07 1488.4h18.17v9.27h-18.17zM1318.51 1488.4h9.09v9.27h-9.09zM1345.78 1488.4h9.09v9.27h-9.09zM1373.04 1488.4h9.09v9.27h-9.09zM1445.76 1488.4h9.08v9.27h-9.08zM936.78 1497.67h18.18v9.26h-18.18zM982.22 1497.67h9.09v9.26h-9.09zM1000.4 1497.67h9.09v9.26h-9.09zM1045.84 1497.67h9.09v9.26h-9.09zM1091.29 1497.67h9.09v9.26h-9.09zM1145.82 1497.67h9.09v9.26h-9.09zM1164 1497.67h9.09v9.26h-9.09zM1227.62 1497.67h9.09v9.26h-9.09zM1282.16 1497.67h9.08v9.26h-9.08zM1318.51 1497.67h9.09v9.26h-9.09zM1373.04 1497.67h9.09v9.26h-9.09zM1500.29 1497.67h18.18v9.26h-18.18zM391.44 1506.93h9.09v9.27h-9.09zM1463.93 1506.93h9.09v9.27h-9.09zM1518.47 1506.93h9.09v9.27h-9.09zM1445.76 1525.47h9.08v9.26h-9.08zM1482.11 1525.47h9.09v9.26h-9.09zM1509.38 1525.47h9.09v9.26h-9.09zM1527.56 1525.47h9.08v9.26h-9.08zM1545.73 1525.47h9.09v9.26h-9.09zM1491.2 1534.73h9.09v9.27h-9.09zM1563.91 1534.73h9.09v9.27h-9.09zM945.87 1544h9.09v9.27h-9.09zM1491.2 1544h27.27v9.27h-27.27zM1545.73 1544h18.18v9.27h-18.18zM864.07 1553.27h9.09v9.26h-9.09zM945.87 1553.27h9.09v9.26h-9.09zM982.22 1553.27h9.09v9.26h-9.09zM1000.4 1553.27h9.09v9.26h-9.09zM1045.84 1553.27h9.09v9.26h-9.09zM1064.02 1553.27h9.09v9.26h-9.09zM1145.82 1553.27h9.09v9.26h-9.09zM1182.18 1553.27h9.09v9.26h-9.09zM1200.36 1553.27h9.08v9.26h-9.08zM1236.71 1553.27h9.09v9.26h-9.09zM1254.89 1553.27h9.09v9.26h-9.09zM1309.42 1553.27h27.27v9.26h-27.27zM1345.78 1553.27h9.09v9.26h-9.09zM1363.96 1553.27h27.26v9.26h-27.26zM1418.49 1553.27h9.09v9.26h-9.09zM1509.38 1553.27h9.09v9.26h-9.09zM1545.73 1553.27h9.09v9.26h-9.09zM1400.31 1571.8h9.09v9.27h-9.09zM1527.56 1581.07h9.08v9.26h-9.08zM864.07 1590.33h9.09v9.27h-9.09zM982.22 1590.33h9.09v9.27h-9.09zM1000.4 1590.33h9.09v9.27h-9.09zM1045.84 1590.33h9.09v9.27h-9.09zM1064.02 1590.33h9.09v9.27h-9.09zM1145.82 1590.33h9.09v9.27h-9.09zM1200.36 1590.33h9.08v9.27h-9.08zM1227.62 1590.33h18.18v9.27h-18.18zM1254.89 1590.33h9.09v9.27h-9.09zM1282.16 1590.33h18.17v9.27h-18.17zM1309.42 1590.33h27.27v9.27h-27.27zM1345.78 1590.33h9.09v9.27h-9.09zM1363.96 1590.33h18.17v9.27h-18.17zM1418.49 1590.33h9.09v9.27h-9.09zM1500.29 1590.33h9.09v9.27h-9.09zM945.87 1599.6h9.09v9.27h-9.09zM1427.58 1599.6h18.18v9.27h-18.18zM1500.29 1599.6h9.09v9.27h-9.09zM1545.73 1599.6h9.09v9.27h-9.09zM1073.11 1608.87h9.09v9.26h-9.09zM1100.38 1608.87h9.09v9.26h-9.09zM1154.91 1608.87h9.09v9.26h-9.09zM1173.09 1608.87h9.09v9.26h-9.09zM1254.89 1608.87h18.18v9.26h-18.18zM1291.24 1608.87h9.09v9.26h-9.09zM1318.51 1608.87h9.09v9.26h-9.09zM1391.22 1608.87h9.09v9.26h-9.09zM1436.67 1608.87h9.09v9.26h-9.09zM1482.11 1608.87h18.18v9.26h-18.18zM1545.73 1608.87h9.09v9.26h-9.09zM918.6 1618.13h9.09v9.27h-9.09zM1073.11 1618.13h9.09v9.27h-9.09zM1100.38 1618.13h9.09v9.27h-9.09zM1154.91 1618.13h9.09v9.27h-9.09zM1191.27 1618.13h9.09v9.27h-9.09zM1245.8 1618.13h9.09v9.27h-9.09zM1318.51 1618.13h9.09v9.27h-9.09zM1391.22 1618.13h9.09v9.27h-9.09zM1418.49 1618.13h9.09v9.27h-9.09zM1436.67 1618.13h18.17v9.27h-18.17zM1545.73 1618.13h9.09v9.27h-9.09zM391.44 1627.4h9.09v9.27h-9.09zM1400.31 1627.4h9.09v9.27h-9.09zM1418.49 1636.67h9.09v9.26h-9.09zM1473.02 1636.67h9.09v9.26h-9.09zM918.6 1645.93h9.09v9.27h-9.09zM1563.91 1645.93h9.09v9.27h-9.09zM1191.27 1655.2h9.09v9.27h-9.09zM1418.49 1655.2h9.09v9.27h-9.09zM1436.67 1655.2h18.17v9.27h-18.17zM1491.2 1655.2h27.27v9.27h-27.27zM964.04 1664.47h9.09v9.26h-9.09zM1009.49 1664.47h9.09v9.26h-9.09zM1127.64 1664.47h9.09v9.26h-9.09zM1218.53 1664.47h9.09v9.26h-9.09zM1300.33 1664.47h9.09v9.26h-9.09zM1436.67 1664.47h9.09v9.26h-9.09zM918.6 1673.73h9.09v9.27h-9.09zM1427.58 1673.73h9.09v9.27h-9.09zM1536.64 1673.73h9.09v9.27h-9.09z"/>
<path fill="#ff3319" d="M409.62 432h27.27v9.27h-27.27zM464.16 432h9.08v9.27h-9.08zM482.33 432h18.18v9.27h-18.18zM518.69 432h18.18v9.27h-18.18zM555.04 432h9.09v9.27h-9.09zM573.22 432h9.09v9.27h-9.09zM727.73 432h9.09v9.27h-9.09zM455.07 459.8h9.09v9.27h-9.09zM346 496.87h9.09v9.26h-9.09zM418.71 496.87h18.18v9.26h-18.18zM464.16 496.87h9.08v9.26h-9.08zM482.33 496.87h9.09v9.26h-9.09zM518.69 496.87h18.18v9.26h-18.18zM555.04 496.87h9.09v9.26h-9.09zM573.22 496.87h9.09v9.26h-9.09zM727.73 496.87h9.09v9.26h-9.09zM346 506.13h9.09v9.27h-9.09zM409.62 506.13h9.09v9.27h-9.09zM427.8 506.13h9.09v9.27h-9.09zM464.16 506.13h9.08v9.27h-9.08zM482.33 506.13h9.09v9.27h-9.09zM518.69 506.13h18.18v9.27h-18.18zM555.04 506.13h9.09v9.27h-9.09zM573.22 506.13h9.09v9.27h-9.09zM727.73 506.13h9.09v9.27h-9.09zM346 515.4h9.09v9.27h-9.09zM409.62 515.4h18.18v9.27h-18.18zM482.33 515.4h9.09v9.27h-9.09zM518.69 515.4h18.18v9.27h-18.18zM555.04 515.4h9.09v9.27h-9.09zM573.22 515.4h9.09v9.27h-9.09zM727.73 515.4h9.09v9.27h-9.09zM373.27 543.2h9.09v9.27h-9.09zM346 552.47h9.09v9.26h-9.09zM409.62 552.47h18.18v9.26h-18.18zM482.33 552.47h9.09v9.26h-9.09zM518.69 552.47h18.18v9.26h-18.18zM555.04 552.47h9.09v9.26h-9.09zM573.22 552.47h9.09v9.26h-9.09zM727.73 552.47h9.09v9.26h-9.09zM346 571h9.09v9.27h-9.09zM409.62 571h27.27v9.27h-27.27zM464.16 571h9.08v9.27h-9.08zM518.69 571h18.18v9.27h-18.18zM555.04 571h9.09v9.27h-9.09zM573.22 571h9.09v9.27h-9.09zM727.73 571h9.09v9.27h-9.09zM346 580.27h9.09v9.26h-9.09zM346 608.07h9.09v9.26h-9.09zM409.62 608.07h27.27v9.26h-27.27zM464.16 608.07h9.08v9.26h-9.08zM482.33 608.07h9.09v9.26h-9.09zM527.78 608.07h9.09v9.26h-9.09zM555.04 608.07h9.09v9.26h-9.09zM573.22 608.07h9.09v9.26h-9.09zM727.73 608.07h9.09v9.26h-9.09zM346 617.33h9.09v9.27h-9.09zM409.62 617.33h27.27v9.27h-27.27zM464.16 617.33h9.08v9.27h-9.08zM482.33 617.33h9.09v9.27h-9.09zM518.69 617.33h9.09v9.27h-9.09zM555.04 617.33h9.09v9.27h-9.09zM573.22 617.33h9.09v9.27h-9.09zM727.73 617.33h9.09v9.27h-9.09zM964.04 626.6h9.09v9.27h-9.09zM1009.49 626.6h9.09v9.27h-9.09zM1127.64 626.6h9.09v9.27h-9.09zM1300.33 626.6h9.09v9.27h-9.09zM346 645.13h9.09v9.27h-9.09zM409.62 645.13h27.27v9.27h-27.27zM464.16 645.13h9.08v9.27h-9.08zM482.33 645.13h9.09v9.27h-9.09zM518.69 645.13h18.18v9.27h-18.18zM573.22 645.13h9.09v9.27h-9.09zM727.73 645.13h9.09v9.27h-9.09zM346 663.67h9.09v9.26h-9.09zM409.62 663.67h27.27v9.26h-27.27zM464.16 663.67h9.08v9.26h-9.08zM482.33 663.67h9.09v9.26h-9.09zM518.69 663.67h18.18v9.26h-18.18zM555.04 663.67h9.09v9.26h-9.09zM727.73 663.67h9.09v9.26h-9.09zM691.38 747.07h9.09v9.26h-9.09zM764.09 747.07h9.09v9.26h-9.09zM655.02 784.13h9.09v9.27h-9.09zM764.09 784.13h9.09v9.27h-9.09zM764.09 802.67h9.09v9.26h-9.09zM800.44 811.93h9.09v9.27h-9.09zM346 821.2h9.09v9.27h-9.09zM409.62 821.2h27.27v9.27h-27.27zM464.16 821.2h9.08v9.27h-9.08zM482.33 821.2h9.09v9.27h-9.09zM518.69 821.2h18.18v9.27h-18.18zM555.04 821.2h9.09v9.27h-9.09zM573.22 821.2h9.09v9.27h-9.09zM655.02 858.27h9.09v9.26h-9.09zM691.38 858.27h9.09v9.26h-9.09zM709.56 858.27h9.08v9.26h-9.08zM718.64 895.33h9.09v9.27h-9.09zM1100.38 960.2h9.09v9.27h-9.09zM1136.73 960.2h27.27v9.27h-27.27zM1173.09 960.2h45.44v9.27h-45.44zM1236.71 960.2h18.18v9.27h-18.18zM1263.98 960.2h9.09v9.27h-9.09zM1291.24 960.2h9.09v9.27h-9.09zM1309.42 960.2h9.09v9.27h-9.09zM1327.6 960.2h9.09v9.27h-9.09zM1345.78 960.2h9.09v9.27h-9.09zM1363.96 960.2h36.35v9.27h-36.35zM1036.76 978.73h9.08v9.27h-9.08zM1027.67 997.27h9.09v9.26h-9.09zM1082.2 997.27h9.09v9.26h-9.09zM1073.11 1015.8h9.09v9.27h-9.09zM1027.67 1025.07h9.09v9.26h-9.09zM1082.2 1025.07h9.09v9.26h-9.09zM1045.84 1034.33h9.09v9.27h-9.09zM1345.78 1034.33h9.09v9.27h-9.09zM1500.29 1043.6h18.18v9.27h-18.18zM536.87 1062.13h9.09v9.27h-9.09zM1009.49 1062.13h9.09v9.27h-9.09zM1127.64 1062.13h9.09v9.27h-9.09zM1300.33 1062.13h9.09v9.27h-9.09zM1091.29 1080.67h9.09v9.26h-9.09zM1145.82 1080.67h9.09v9.26h-9.09zM1173.09 1080.67h9.09v9.26h-9.09zM1336.69 1080.67h18.18v9.26h-18.18zM1373.04 1080.67h9.09v9.26h-9.09zM1164 1099.2h9.09v9.27h-9.09zM1200.36 1099.2h9.08v9.27h-9.08zM1236.71 1099.2h9.09v9.27h-9.09zM1291.24 1099.2h9.09v9.27h-9.09zM536.87 1108.47h9.09v9.26h-9.09zM964.04 1108.47h9.09v9.26h-9.09zM1127.64 1108.47h9.09v9.26h-9.09zM1300.33 1108.47h9.09v9.26h-9.09zM1027.67 1117.73h9.09v9.27h-9.09zM1082.2 1117.73h9.09v9.27h-9.09zM900.42 1127h9.09v9.27h-9.09zM927.69 1127h9.09v9.27h-9.09zM1018.58 1127h9.09v9.27h-9.09zM1082.2 1127h9.09v9.27h-9.09zM882.24 1136.27h9.09v9.26h-9.09zM936.78 1145.53h9.09v9.27h-9.09zM918.6 1173.33h9.09v9.27h-9.09zM900.42 1182.6h9.09v9.27h-9.09zM927.69 1182.6h9.09v9.27h-9.09zM1018.58 1182.6h18.18v9.27h-18.18zM982.22 1191.87h9.09v9.26h-9.09zM1336.69 1191.87h18.18v9.26h-18.18zM1373.04 1191.87h9.09v9.26h-9.09zM864.07 1201.13h9.09v9.27h-9.09zM1136.73 1201.13h27.27v9.27h-27.27zM1173.09 1201.13h45.44v9.27h-45.44zM1236.71 1201.13h18.18v9.27h-18.18zM1263.98 1201.13h9.09v9.27h-9.09zM1282.16 1201.13h18.17v9.27h-18.17zM1309.42 1201.13h27.27v9.27h-27.27zM1345.78 1201.13h9.09v9.27h-9.09zM1363.96 1201.13h36.35v9.27h-36.35zM1445.76 1201.13h9.08v9.27h-9.08zM1482.11 1201.13h9.09v9.27h-9.09zM536.87 1228.93h9.09v9.27h-9.09zM964.04 1228.93h9.09v9.27h-9.09zM1009.49 1228.93h9.09v9.27h-9.09zM1218.53 1228.93h9.09v9.27h-9.09zM1300.33 1228.93h9.09v9.27h-9.09zM864.07 1238.2h9.09v9.27h-9.09zM1100.38 1238.2h9.09v9.27h-9.09zM1145.82 1238.2h18.18v9.27h-18.18zM1173.09 1238.2h45.44v9.27h-45.44zM1236.71 1238.2h18.18v9.27h-18.18zM1263.98 1238.2h9.09v9.27h-9.09zM1291.24 1238.2h9.09v9.27h-9.09zM1309.42 1238.2h9.09v9.27h-9.09zM1327.6 1238.2h9.09v9.27h-9.09zM1345.78 1238.2h9.09v9.27h-9.09zM1363.96 1238.2h36.35v9.27h-36.35zM1445.76 1238.2h9.08v9.27h-9.08zM1482.11 1238.2h9.09v9.27h-9.09zM864.07 1247.47h9.09v9.26h-9.09zM982.22 1247.47h9.09v9.26h-9.09zM1100.38 1247.47h9.09v9.26h-9.09zM1136.73 1247.47h9.09v9.26h-9.09zM1154.91 1247.47h9.09v9.26h-9.09zM1173.09 1247.47h9.09v9.26h-9.09zM1291.24 1247.47h9.09v9.26h-9.09zM1336.69 1247.47h18.18v9.26h-18.18zM1373.04 1247.47h9.09v9.26h-9.09zM864.07 1256.73h9.09v9.27h-9.09zM1100.38 1256.73h9.09v9.27h-9.09zM1136.73 1256.73h18.18v9.27h-18.18zM1173.09 1256.73h45.44v9.27h-45.44zM1236.71 1256.73h18.18v9.27h-18.18zM1263.98 1256.73h9.09v9.27h-9.09zM1291.24 1256.73h9.09v9.27h-9.09zM1309.42 1256.73h27.27v9.27h-27.27zM1345.78 1256.73h9.09v9.27h-9.09zM1363.96 1256.73h36.35v9.27h-36.35zM1445.76 1256.73h9.08v9.27h-9.08zM1482.11 1256.73h9.09v9.27h-9.09zM1000.4 1266h9.09v9.27h-9.09zM1200.36 1266h9.08v9.27h-9.08zM1236.71 1266h9.09v9.27h-9.09zM864.07 1275.27h9.09v9.26h-9.09zM982.22 1275.27h9.09v9.26h-9.09zM1100.38 1275.27h9.09v9.26h-9.09zM1136.73 1275.27h27.27v9.26h-27.27zM1182.18 1275.27h36.35v9.26h-36.35zM1236.71 1275.27h18.18v9.26h-18.18zM1263.98 1275.27h9.09v9.26h-9.09zM1291.24 1275.27h9.09v9.26h-9.09zM1309.42 1275.27h9.09v9.26h-9.09zM1327.6 1275.27h9.09v9.26h-9.09zM1345.78 1275.27h9.09v9.26h-9.09zM1363.96 1275.27h36.35v9.26h-36.35zM1445.76 1275.27h9.08v9.26h-9.08zM1482.11 1275.27h9.09v9.26h-9.09zM864.07 1284.53h9.09v9.27h-9.09zM1100.38 1284.53h9.09v9.27h-9.09zM1136.73 1284.53h9.09v9.27h-9.09zM1154.91 1284.53h9.09v9.27h-9.09zM1173.09 1284.53h9.09v9.27h-9.09zM1191.27 1284.53h27.26v9.27h-27.26zM1236.71 1284.53h18.18v9.27h-18.18zM1263.98 1284.53h9.09v9.27h-9.09zM1291.24 1284.53h9.09v9.27h-9.09zM1309.42 1284.53h9.09v9.27h-9.09zM1327.6 1284.53h9.09v9.27h-9.09zM1345.78 1284.53h9.09v9.27h-9.09zM1363.96 1284.53h36.35v9.27h-36.35zM1482.11 1284.53h9.09v9.27h-9.09zM864.07 1293.8h9.09v9.27h-9.09zM1100.38 1293.8h9.09v9.27h-9.09zM1136.73 1293.8h9.09v9.27h-9.09zM1154.91 1293.8h9.09v9.27h-9.09zM1173.09 1293.8h18.18v9.27h-18.18zM1209.44 1293.8h9.09v9.27h-9.09zM1236.71 1293.8h18.18v9.27h-18.18zM1263.98 1293.8h9.09v9.27h-9.09zM1291.24 1293.8h9.09v9.27h-9.09zM1309.42 1293.8h9.09v9.27h-9.09zM1327.6 1293.8h9.09v9.27h-9.09zM1382.13 1293.8h18.18v9.27h-18.18zM1445.76 1293.8h9.08v9.27h-9.08zM1482.11 1293.8h9.09v9.27h-9.09zM1500.29 1293.8h9.09v9.27h-9.09zM864.07 1303.07h9.09v9.26h-9.09zM1000.4 1303.07h9.09v9.26h-9.09zM1100.38 1303.07h9.09v9.26h-9.09zM1136.73 1303.07h9.09v9.26h-9.09zM1154.91 1303.07h36.36v9.26h-36.36zM1209.44 1303.07h9.09v9.26h-9.09zM1236.71 1303.07h18.18v9.26h-18.18zM1263.98 1303.07h9.09v9.26h-9.09zM1291.24 1303.07h9.09v9.26h-9.09zM1309.42 1303.07h9.09v9.26h-9.09zM1327.6 1303.07h9.09v9.26h-9.09zM1345.78 1303.07h9.09v9.26h-9.09zM1363.96 1303.07h9.08v9.26h-9.08zM1382.13 1303.07h18.18v9.26h-18.18zM864.07 1312.33h9.09v9.27h-9.09zM1100.38 1312.33h9.09v9.27h-9.09zM1136.73 1312.33h9.09v9.27h-9.09zM1154.91 1312.33h9.09v9.27h-9.09zM1173.09 1312.33h36.35v9.27h-36.35zM1236.71 1312.33h18.18v9.27h-18.18zM1263.98 1312.33h9.09v9.27h-9.09zM1291.24 1312.33h9.09v9.27h-9.09zM1309.42 1312.33h27.27v9.27h-27.27zM1345.78 1312.33h9.09v9.27h-9.09zM1363.96 1312.33h36.35v9.27h-36.35zM1445.76 1312.33h9.08v9.27h-9.08zM1482.11 1312.33h9.09v9.27h-9.09zM1127.64 1321.6h9.09v9.27h-9.09zM1300.33 1321.6h9.09v9.27h-9.09zM1363.96 1330.87h18.17v9.26h-18.17zM1445.76 1330.87h9.08v9.26h-9.08zM864.07 1340.13h9.09v9.27h-9.09zM1000.4 1340.13h9.09v9.27h-9.09zM1100.38 1340.13h9.09v9.27h-9.09zM1136.73 1340.13h9.09v9.27h-9.09zM1154.91 1340.13h63.62v9.27h-63.62zM1245.8 1340.13h9.09v9.27h-9.09zM1263.98 1340.13h9.09v9.27h-9.09zM1291.24 1340.13h9.09v9.27h-9.09zM1309.42 1340.13h9.09v9.27h-9.09zM1327.6 1340.13h9.09v9.27h-9.09zM1345.78 1340.13h9.09v9.27h-9.09zM1363.96 1340.13h36.35v9.27h-36.35zM864.07 1349.4h9.09v9.27h-9.09zM1100.38 1349.4h9.09v9.27h-9.09zM1136.73 1349.4h9.09v9.27h-9.09zM1154.91 1349.4h9.09v9.27h-9.09zM1173.09 1349.4h45.44v9.27h-45.44zM1236.71 1349.4h9.09v9.27h-9.09zM1263.98 1349.4h9.09v9.27h-9.09zM1291.24 1349.4h9.09v9.27h-9.09zM1309.42 1349.4h27.27v9.27h-27.27zM1345.78 1349.4h9.09v9.27h-9.09zM1363.96 1349.4h36.35v9.27h-36.35zM1445.76 1349.4h9.08v9.27h-9.08zM1482.11 1349.4h9.09v9.27h-9.09zM1500.29 1349.4h9.09v9.27h-9.09zM864.07 1367.93h9.09v9.27h-9.09zM1100.38 1367.93h9.09v9.27h-9.09zM1136.73 1367.93h9.09v9.27h-9.09zM1154.91 1367.93h9.09v9.27h-9.09zM1173.09 1367.93h45.44v9.27h-45.44zM1236.71 1367.93h18.18v9.27h-18.18zM1291.24 1367.93h9.09v9.27h-9.09zM1309.42 1367.93h9.09v9.27h-9.09zM1327.6 1367.93h9.09v9.27h-9.09zM1345.78 1367.93h9.09v9.27h-9.09zM1363.96 1367.93h36.35v9.27h-36.35zM1445.76 1367.93h9.08v9.27h-9.08zM1482.11 1367.93h9.09v9.27h-9.09zM1100.38 1386.47h9.09v9.26h-9.09zM864.07 1395.73h9.09v9.27h-9.09zM1000.4 1395.73h9.09v9.27h-9.09zM1100.38 1395.73h9.09v9.27h-9.09zM1136.73 1395.73h27.27v9.27h-27.27zM1173.09 1395.73h45.44v9.27h-45.44zM1236.71 1395.73h18.18v9.27h-18.18zM1263.98 1395.73h9.09v9.27h-9.09zM1309.42 1395.73h27.27v9.27h-27.27zM1345.78 1395.73h9.09v9.27h-9.09zM1363.96 1395.73h36.35v9.27h-36.35zM1445.76 1395.73h9.08v9.27h-9.08zM536.87 1405h9.09v9.27h-9.09zM964.04 1405h9.09v9.27h-9.09zM1009.49 1405h9.09v9.27h-9.09zM1127.64 1405h9.09v9.27h-9.09zM1218.53 1405h9.09v9.27h-9.09zM864.07 1414.27h9.09v9.26h-9.09zM1100.38 1414.27h9.09v9.26h-9.09zM1136.73 1414.27h9.09v9.26h-9.09zM1154.91 1414.27h9.09v9.26h-9.09zM1173.09 1414.27h45.44v9.26h-45.44zM1236.71 1414.27h18.18v9.26h-18.18zM1263.98 1414.27h9.09v9.26h-9.09zM1291.24 1414.27h9.09v9.26h-9.09zM1327.6 1414.27h9.09v9.26h-9.09zM1363.96 1414.27h9.08v9.26h-9.08zM1382.13 1414.27h18.18v9.26h-18.18zM1100.38 1423.53h9.09v9.27h-9.09zM1154.91 1423.53h9.09v9.27h-9.09zM1209.44 1423.53h9.09v9.27h-9.09zM1245.8 1423.53h9.09v9.27h-9.09zM1291.24 1423.53h9.09v9.27h-9.09zM864.07 1432.8h9.09v9.27h-9.09zM1100.38 1432.8h9.09v9.27h-9.09zM1136.73 1432.8h9.09v9.27h-9.09zM1154.91 1432.8h9.09v9.27h-9.09zM1173.09 1432.8h45.44v9.27h-45.44zM1236.71 1432.8h18.18v9.27h-18.18zM1263.98 1432.8h9.09v9.27h-9.09zM1291.24 1432.8h9.09v9.27h-9.09zM1309.42 1432.8h9.09v9.27h-9.09zM1345.78 1432.8h9.09v9.27h-9.09zM1363.96 1432.8h36.35v9.27h-36.35zM982.22 1442.07h9.09v9.26h-9.09zM1091.29 1442.07h9.09v9.26h-9.09zM1145.82 1442.07h9.09v9.26h-9.09zM1345.78 1442.07h9.09v9.26h-9.09zM864.07 1451.33h9.09v9.27h-9.09zM936.78 1451.33h9.09v9.27h-9.09zM982.22 1451.33h9.09v9.27h-9.09zM1091.29 1451.33h18.18v9.27h-18.18zM1136.73 1451.33h27.27v9.27h-27.27zM1173.09 1451.33h18.18v9.27h-18.18zM1200.36 1451.33h18.17v9.27h-18.17zM1236.71 1451.33h18.18v9.27h-18.18zM1263.98 1451.33h9.09v9.27h-9.09zM1291.24 1451.33h9.09v9.27h-9.09zM1327.6 1451.33h18.18v9.27h-18.18zM1373.04 1451.33h9.09v9.27h-9.09zM1391.22 1451.33h9.09v9.27h-9.09zM864.07 1469.87h9.09v9.26h-9.09zM1100.38 1469.87h9.09v9.26h-9.09zM1136.73 1469.87h9.09v9.26h-9.09zM1154.91 1469.87h9.09v9.26h-9.09zM1173.09 1469.87h18.18v9.26h-18.18zM1200.36 1469.87h18.17v9.26h-18.17zM1227.62 1469.87h27.27v9.26h-27.27zM1263.98 1469.87h9.09v9.26h-9.09zM1291.24 1469.87h9.09v9.26h-9.09zM1309.42 1469.87h9.09v9.26h-9.09zM1327.6 1469.87h9.09v9.26h-9.09zM1373.04 1469.87h27.27v9.26h-27.27zM864.07 1479.13h9.09v9.27h-9.09zM982.22 1479.13h9.09v9.27h-9.09zM1091.29 1479.13h18.18v9.27h-18.18zM1136.73 1479.13h27.27v9.27h-27.27zM1173.09 1479.13h18.18v9.27h-18.18zM1209.44 1479.13h9.09v9.27h-9.09zM1227.62 1479.13h27.27v9.27h-27.27zM1263.98 1479.13h9.09v9.27h-9.09zM1291.24 1479.13h9.09v9.27h-9.09zM1327.6 1479.13h9.09v9.27h-9.09zM1345.78 1479.13h9.09v9.27h-9.09zM1363.96 1479.13h9.08v9.27h-9.08zM864.07 1488.4h9.09v9.27h-9.09zM1100.38 1488.4h9.09v9.27h-9.09zM1136.73 1488.4h9.09v9.27h-9.09zM1154.91 1488.4h9.09v9.27h-9.09zM1173.09 1488.4h45.44v9.27h-45.44zM1236.71 1488.4h18.18v9.27h-18.18zM1263.98 1488.4h9.09v9.27h-9.09zM1291.24 1488.4h9.09v9.27h-9.09zM1309.42 1488.4h9.09v9.27h-9.09zM1327.6 1488.4h9.09v9.27h-9.09zM1363.96 1488.4h9.08v9.27h-9.08zM1391.22 1488.4h9.09v9.27h-9.09zM1482.11 1488.4h9.09v9.27h-9.09zM864.07 1497.67h9.09v9.26h-9.09zM1100.38 1497.67h9.09v9.26h-9.09zM1136.73 1497.67h9.09v9.26h-9.09zM1154.91 1497.67h9.09v9.26h-9.09zM1173.09 1497.67h45.44v9.26h-45.44zM1236.71 1497.67h18.18v9.26h-18.18zM1263.98 1497.67h9.09v9.26h-9.09zM1291.24 1497.67h9.09v9.26h-9.09zM1309.42 1497.67h9.09v9.26h-9.09zM1327.6 1497.67h9.09v9.26h-9.09zM1345.78 1497.67h9.09v9.26h-9.09zM1363.96 1497.67h9.08v9.26h-9.08zM1382.13 1497.67h9.09v9.26h-9.09zM1445.76 1497.67h9.08v9.26h-9.08zM1482.11 1497.67h9.09v9.26h-9.09zM1473.02 1516.2h9.09v9.27h-9.09zM1500.29 1525.47h9.09v9.26h-9.09zM1100.38 1553.27h9.09v9.26h-9.09zM1136.73 1553.27h9.09v9.26h-9.09zM1154.91 1553.27h9.09v9.26h-9.09zM1173.09 1553.27h9.09v9.26h-9.09zM1191.27 1553.27h9.09v9.26h-9.09zM1209.44 1553.27h9.09v9.26h-9.09zM1227.62 1553.27h9.09v9.26h-9.09zM1245.8 1553.27h9.09v9.26h-9.09zM1263.98 1553.27h9.09v9.26h-9.09zM1291.24 1553.27h9.09v9.26h-9.09zM1391.22 1553.27h9.09v9.26h-9.09zM1482.11 1553.27h9.09v9.26h-9.09zM1500.29 1553.27h9.09v9.26h-9.09zM1409.4 1581.07h9.09v9.26h-9.09zM1100.38 1590.33h9.09v9.27h-9.09zM1136.73 1590.33h9.09v9.27h-9.09zM1154.91 1590.33h9.09v9.27h-9.09zM1173.09 1590.33h27.27v9.27h-27.27zM1209.44 1590.33h9.09v9.27h-9.09zM1245.8 1590.33h9.09v9.27h-9.09zM1263.98 1590.33h9.09v9.27h-9.09zM1382.13 1590.33h18.18v9.27h-18.18zM1445.76 1590.33h9.08v9.27h-9.08zM1509.38 1599.6h9.09v9.27h-9.09zM945.87 1608.87h9.09v9.26h-9.09zM1191.27 1608.87h9.09v9.26h-9.09zM1245.8 1608.87h9.09v9.26h-9.09zM1418.49 1608.87h9.09v9.26h-9.09zM1445.76 1608.87h9.08v9.26h-9.08zM1509.38 1608.87h9.09v9.26h-9.09zM945.87 1618.13h9.09v9.27h-9.09zM1491.2 1618.13h18.18v9.27h-18.18z"/>
<path fill="#ff2600" d="M346 432h9.09v9.27h-9.09zM355.09 441.27h9.09v9.26h-9.09zM364.18 450.53h9.09v9.27h-9.09zM373.27 459.8h9.09v9.27h-9.09zM382.36 469.07h9.08v9.26h-9.08zM391.44 478.33h9.09v9.27h-9.09zM400.53 487.6h9.09v9.27h-9.09zM409.62 496.87h9.09v9.26h-9.09zM418.71 506.13h9.09v9.27h-9.09zM427.8 515.4h9.09v9.27h-9.09zM436.89 524.67h9.09v9.26h-9.09zM445.98 533.93h9.09v9.27h-9.09zM455.07 543.2h9.09v9.27h-9.09zM464.16 552.47h9.08v9.26h-9.08zM473.24 561.73h9.09v9.27h-9.09zM482.33 571h9.09v9.27h-9.09zM491.42 580.27h9.09v9.26h-9.09zM500.51 589.53h9.09v9.27h-9.09zM509.6 598.8h9.09v9.27h-9.09zM518.69 608.07h9.09v9.26h-9.09zM527.78 617.33h9.09v9.27h-9.09zM536.87 626.6h9.09v9.27h-9.09zM545.96 635.87h9.08v9.26h-9.08zM555.04 645.13h9.09v9.27h-9.09zM564.13 654.4h9.09v9.27h-9.09zM573.22 663.67h9.09v9.26h-9.09zM582.31 672.93h9.09v9.27h-9.09zM591.4 682.2h9.09v9.27h-9.09zM600.49 691.47h9.09v9.26h-9.09zM609.58 700.73h9.09v9.27h-9.09zM618.67 710h9.09v9.27h-9.09zM627.76 719.27h9.08v9.26h-9.08zM636.84 728.53h9.09v9.27h-9.09zM645.93 737.8h9.09v9.27h-9.09zM655.02 747.07h9.09v9.26h-9.09zM664.11 756.33h9.09v9.27h-9.09zM673.2 765.6h9.09v9.27h-9.09zM682.29 774.87h9.09v9.26h-9.09zM691.38 784.13h9.09v9.27h-9.09zM700.47 793.4h9.09v9.27h-9.09zM709.56 802.67h9.08v9.26h-9.08zM718.64 811.93h9.09v9.27h-9.09zM727.73 821.2h9.09v9.27h-9.09zM736.82 830.47h9.09v9.26h-9.09zM745.91 839.73h9.09v9.27h-9.09zM755 849h9.09v9.27h-9.09zM764.09 858.27h9.09v9.26h-9.09zM773.18 867.53h9.09v9.27h-9.09zM782.27 876.8h9.09v9.27h-9.09zM791.36 886.07h9.08v9.26h-9.08zM800.44 895.33h9.09v9.27h-9.09zM809.53 904.6h9.09v9.27h-9.09zM818.62 913.87h9.09v9.26h-9.09zM827.71 923.13h9.09v9.27h-9.09zM836.8 932.4h9.09v9.27h-9.09zM845.89 941.67h9.09v9.26h-9.09zM854.98 950.93h9.09v9.27h-9.09zM864.07 960.2h9.09v9.27h-9.09zM873.16 969.47h9.08v9.26h-9.08zM882.24 978.73h9.09v9.27h-9.09zM891.33 988h9.09v9.27h-9.09zM900.42 997.27h9.09v9.26h-9.09zM909.51 1006.53h9.09v9.27h-9.09zM918.6 1015.8h9.09v9.27h-9.09zM927.69 1025.07h9.09v9.26h-9.09zM936.78 1034.33h9.09v9.27h-9.09zM945.87 1043.6h9.09v9.27h-9.09zM954.96 1052.87h9.08v9.26h-9.08zM964.04 1062.13h9.09v9.27h-9.09zM973.13 1071.4h9.09v9.27h-9.09zM982.22 1080.67h9.09v9.26h-9.09zM991.31 1089.93h9.09v9.27h-9.09zM1000.4 1099.2h9.09v9.27h-9.09zM1009.49 1108.47h9.09v9.26h-9.09zM1018.58 1117.73h9.09v9.27h-9.09zM1027.67 1127h9.09v9.27h-9.09zM1036.76 1136.27h9.08v9.26h-9.08zM1045.84 1145.53h9.09v9.27h-9.09zM1054.93 1154.8h9.09v9.27h-9.09zM1064.02 1164.07h9.09v9.26h-9.09zM1073.11 1173.33h9.09v9.27h-9.09zM1082.2 1182.6h9.09v9.27h-9.09zM1091.29 1191.87h9.09v9.26h-9.09zM1100.38 1201.13h9.09v9.27h-9.09zM1109.47 1210.4h9.09v9.27h-9.09zM1118.56 1219.67h9.08v9.26h-9.08zM1127.64 1228.93h9.09v9.27h-9.09zM1136.73 1238.2h9.09v9.27h-9.09zM1145.82 1247.47h9.09v9.26h-9.09zM1154.91 1256.73h9.09v9.27h-9.09zM1164 1266h9.09v9.27h-9.09zM1173.09 1275.27h9.09v9.26h-9.09zM1182.18 1284.53h9.09v9.27h-9.09zM1191.27 1293.8h9.09v9.27h-9.09zM1200.36 1303.07h9.08v9.26h-9.08zM1209.44 1312.33h9.09v9.27h-9.09zM1218.53 1321.6h9.09v9.27h-9.09zM1227.62 1330.87h9.09v9.26h-9.09zM1236.71 1340.13h9.09v9.27h-9.09zM1245.8 1349.4h9.09v9.27h-9.09zM1254.89 1358.67h9.09v9.26h-9.09zM1263.98 1367.93h9.09v9.27h-9.09zM1273.07 1377.2h9.09v9.27h-9.09zM1282.16 1386.47h9.08v9.26h-9.08zM1291.24 1395.73h9.09v9.27h-9.09zM1300.33 1405h9.09v9.27h-9.09zM1309.42 1414.27h9.09v9.26h-9.09zM1318.51 1423.53h9.09v9.27h-9.09zM1327.6 1432.8h9.09v9.27h-9.09zM1336.69 1442.07h9.09v9.26h-9.09zM1345.78 1451.33h9.09v9.27h-9.09zM1354.87 1460.6h9.09v9.27h-9.09zM1363.96 1469.87h9.08v9.26h-9.08zM1373.04 1479.13h9.09v9.27h-9.09zM1382.13 1488.4h9.09v9.27h-9.09zM1391.22 1497.67h9.09v9.26h-9.09zM1400.31 1506.93h9.09v9.27h-9.09zM1409.4 1516.2h9.09v9.27h-9.09zM1418.49 1525.47h9.09v9.26h-9.09zM1427.58 1534.73h9.09v9.27h-9.09zM1436.67 1544h9.09v9.27h-9.09zM1445.76 1553.27h9.08v9.26h-9.08zM1454.84 1562.53h9.09v9.27h-9.09zM1463.93 1571.8h9.09v9.27h-9.09zM1473.02 1581.07h9.09v9.26h-9.09zM1482.11 1590.33h9.09v9.27h-9.09zM1491.2 1599.6h9.09v9.27h-9.09zM1500.29 1608.87h9.09v9.26h-9.09zM1509.38 1618.13h9.09v9.27h-9.09zM1518.47 1627.4h9.09v9.27h-9.09zM1527.56 1636.67h9.08v9.26h-9.08zM1536.64 1645.93h9.09v9.27h-9.09zM1545.73 1655.2h9.09v9.27h-9.09zM1554.82 1664.47h9.09v9.26h-9.09zM1563.91 1673.73h9.09v9.27h-9.09z"/>
</g>
</svg>
</body></html>
